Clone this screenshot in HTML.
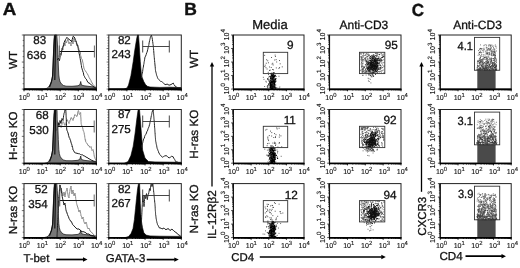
<!DOCTYPE html>
<html><head><meta charset="utf-8"><style>html,body{margin:0;padding:0;background:#fff;width:520px;height:268px;overflow:hidden}</style></head><body>
<svg width="520" height="268" viewBox="0 0 520 268" style="display:block;will-change:transform">
<rect width="520" height="268" fill="#fff"/>
<g font-family='"Liberation Sans", sans-serif' text-rendering="geometricPrecision">
<text transform="translate(2.7,14.6) scale(1.07,1)" font-size="17.5" font-weight="bold" fill="#111" stroke="#111" stroke-width="0.4">A</text>
<text transform="translate(184.2,14.6) scale(1.0,1)" font-size="17.5" font-weight="bold" fill="#111" stroke="#111" stroke-width="0.4">B</text>
<text transform="translate(411.7,15.6) scale(0.97,1)" font-size="17.5" font-weight="bold" fill="#111" stroke="#111" stroke-width="0.4">C</text>
<text x="270" y="29.3" font-size="13.0" text-anchor="middle" font-weight="normal" fill="#111" stroke="#111" stroke-width="0.3" >Media</text>
<text x="363.9" y="29.2" font-size="12.0" text-anchor="middle" font-weight="normal" fill="#111" stroke="#111" stroke-width="0.3" >Anti-CD3</text>
<text x="477.5" y="29.2" font-size="12.0" text-anchor="middle" font-weight="normal" fill="#111" stroke="#111" stroke-width="0.3" >Anti-CD3</text>
<text transform="translate(17,59.9) rotate(-90)" text-anchor="middle" font-size="11.6" fill="#111" stroke="#111" stroke-width="0.3">WT</text>
<text transform="translate(198.2,58.85) rotate(-90)" text-anchor="middle" font-size="11.8" fill="#111" stroke="#111" stroke-width="0.3">WT</text>
<text transform="translate(17,135.75) rotate(-90)" text-anchor="middle" font-size="11.6" fill="#111" stroke="#111" stroke-width="0.3">H-ras KO</text>
<text transform="translate(198.2,134.1) rotate(-90)" text-anchor="middle" font-size="11.8" fill="#111" stroke="#111" stroke-width="0.3">H-ras KO</text>
<text transform="translate(17,210) rotate(-90)" text-anchor="middle" font-size="11.6" fill="#111" stroke="#111" stroke-width="0.3">N-ras KO</text>
<text transform="translate(198.2,208.8) rotate(-90)" text-anchor="middle" font-size="11.8" fill="#111" stroke="#111" stroke-width="0.3">N-ras KO</text>
<path d="M24,89.1 L44,89 L47,88.3 L48.5,87 L50,85 L51.4,81.8 L52.3,78 L52.7,75 L53.1,65 L53.4,55 L53.8,45 L54.3,36 L54.8,35 L56.8,35 L57.3,42 L57.8,52 L58.3,65 L58.8,75 L59.3,79 L60.1,81.8 L61.5,84 L63.5,85.5 L66,86.2 L72,86.3 L78,85.8 L80,84.5 L80.7,81.5 L81.4,85 L84,85.8 L90,86.5 L96.4,87.5 L96.4,89.1 Z" fill="#777" stroke="#222" stroke-width="0.8"/>
<path d="M49.5,87 L51.4,82 L52.6,76 L53.3,62 L53.8,50 L54.3,40 L54.9,35.3 L55.6,36 L55.4,50 L55.1,65 L54.8,80" fill="none" stroke="#111" stroke-width="1.2" stroke-linejoin="round"/>
<path d="M59.3,36 V56.5" stroke="#999" stroke-width="0.9"/>
<path d="M58,58 L58.33,57.73 L58.67,55.53 L59,55 L59.5,54.53 L60,53 L60.5,53.44 L61,55 L61.14,54.02 L61.29,52.42 L61.43,52.3 L61.57,51.55 L61.71,49.88 L61.86,49.73 L62,48 L62.5,49.52 L63,50 L63.14,48.74 L63.29,48.12 L63.43,47.41 L63.57,46.52 L63.71,45.69 L63.86,43.43 L64,43 L64.33,44.39 L64.67,44.42 L65,46 L65.08,45.65 L65.17,43.56 L65.25,43.57 L65.33,41.69 L65.42,41.75 L65.5,40 L65.83,41.03 L66.17,41.72 L66.5,43 L66.88,41.65 L67.25,41.17 L67.62,39.73 L68,39 L68.2,40.29 L68.4,40.45 L68.6,41.6 L68.8,43.59 L69,44 L69.5,43.16 L70,42 L70.25,42.62 L70.5,43.44 L70.75,44.42 L71,46 L71.17,44.6 L71.33,43.81 L71.5,43.24 L71.67,42.54 L71.83,41.44 L72,40 L72.25,40.74 L72.5,41.44 L72.75,42.93 L73,44 L73.17,42.9 L73.33,42.12 L73.5,40.8 L73.67,40.21 L73.83,38.38 L74,38 L74.25,38.57 L74.5,40.43 L74.75,41.78 L75,42 L76,41 L76.2,42.49 L76.4,43.55 L76.6,44.47 L76.8,44.93 L77,46 L78,45 L78.2,46.38 L78.4,47.13 L78.6,47.92 L78.8,48.63 L79,50 L80,51 L80.17,52.58 L80.33,52.31 L80.5,54.51 L80.67,55.61 L80.83,55.88 L81,57 L81.5,58.53 L82,59 L82.25,59.75 L82.5,61.03 L82.75,62.08 L83,63 L83.18,63.53 L83.36,64.77 L83.54,65.7 L83.72,67.01 L83.9,68.1 L84.43,69.35 L84.97,70.33 L85.5,71 L86.3,72.24 L87.1,73.4 L88,75 L88.4,75.84 L88.8,76.81 L89.2,77.7 L90,79 L90.47,79.72 L90.93,80.48 L91.4,82 L92.2,82.93 L93,84.5 L94.6,86.2 L95.5,87.34 L96.4,88" fill="none" stroke="#888" stroke-width="1.0" stroke-linejoin="round"/>
<path d="M57.5,60 L58,58.69 L58.5,58 L58.8,58.85 L59.1,59.27 L59.4,60.7 L59.62,59.79 L59.84,58.69 L60.06,57.28 L60.28,56.38 L60.5,56 L60.75,55.68 L61,54.27 L61.25,52.93 L61.5,52.2 L61.75,50.68 L62,50 L62.3,48.72 L62.6,47.4 L62.9,46.37 L63.2,46.43 L63.5,45 L63.8,44.54 L64.1,42.51 L64.4,42.06 L64.7,40.82 L65,40.5 L65.63,39.39 L66.27,38.53 L66.9,37.3 L68.5,39 L70,40 L71.7,41.7 L71.92,40.85 L72.15,39.34 L72.38,39.21 L72.6,38 L73.3,36.2 L74.2,37 L75,38.5 L75.43,39.82 L75.87,40.79 L76.3,42 L76.6,42.67 L76.9,44.49 L77.2,44.27 L77.5,45.8 L77.72,46.24 L77.94,47.51 L78.16,48.28 L78.38,49.72 L78.6,50.5 L78.78,51.76 L78.97,52.75 L79.15,53.83 L79.33,53.98 L79.52,55.76 L79.7,56.4 L79.88,56.98 L80.07,58.32 L80.25,58.81 L80.43,60.57 L80.62,60.52 L80.8,62 L80.97,62.92 L81.13,64.22 L81.3,65.33 L81.47,65.5 L81.63,67.76 L81.8,68.1 L82.1,68.78 L82.4,69.97 L82.7,70.75 L83,72 L83.3,72.56 L83.6,74.04 L83.9,75.6 L84.43,76.32 L84.97,77.64 L85.5,78.5 L86.3,79.1 L87.1,80.9 L88.05,82.55 L89,83 L90.2,83.63 L91.4,85.1 L93,86.3 L94.6,87.3 L95.5,87.84 L96.4,88.3" fill="none" stroke="#111" stroke-width="0.95" stroke-linejoin="round"/>
<path d="M59.3,51.5 H94.4" stroke="#111" stroke-width="1" fill="none"/>
<path d="M94.4,45.5 v12 M59.3,45.5 v12" stroke="#555" stroke-width="0.9" fill="none"/>
<rect x="24" y="35" width="72.4" height="54.1" fill="none" stroke="#222" stroke-width="1.0"/>
<path d="M24,89.1 h-2.2 M24,83.69 h-1.3 M24,78.28 h-1.3 M24,72.87 h-1.3 M24,67.46 h-1.3 M24,62.05 h-2.2 M24,56.64 h-1.3 M24,51.23 h-1.3 M24,45.82 h-1.3 M24,40.41 h-1.3 M24,35 h-2.2" stroke="#333" stroke-width="0.7" fill="none"/>
<path d="M24,89.1 v2.2 M29.45,89.1 v1.3 M32.64,89.1 v1.3 M34.9,89.1 v1.3 M36.65,89.1 v1.3 M38.08,89.1 v1.3 M39.3,89.1 v1.3 M40.35,89.1 v1.3 M41.27,89.1 v1.3 M42.1,89.1 v2.2 M47.55,89.1 v1.3 M50.74,89.1 v1.3 M53,89.1 v1.3 M54.75,89.1 v1.3 M56.18,89.1 v1.3 M57.4,89.1 v1.3 M58.45,89.1 v1.3 M59.37,89.1 v1.3 M60.2,89.1 v2.2 M65.65,89.1 v1.3 M68.84,89.1 v1.3 M71.1,89.1 v1.3 M72.85,89.1 v1.3 M74.28,89.1 v1.3 M75.5,89.1 v1.3 M76.55,89.1 v1.3 M77.47,89.1 v1.3 M78.3,89.1 v2.2 M83.75,89.1 v1.3 M86.94,89.1 v1.3 M89.2,89.1 v1.3 M90.95,89.1 v1.3 M92.38,89.1 v1.3 M93.6,89.1 v1.3 M94.65,89.1 v1.3 M95.57,89.1 v1.3 M96.4,89.1 v2.2" stroke="#000" stroke-width="0.9" fill="none"/>
<line x1="23.5" y1="89.4" x2="96.9" y2="89.4" stroke="#000" stroke-width="1.6"/>
<text x="24.3" y="99.8" text-anchor="middle" font-size="7.1" fill="#111" stroke="#111" stroke-width="0.12">10<tspan font-size="5.9" dy="-3">0</tspan></text>
<text x="42.4" y="99.8" text-anchor="middle" font-size="7.1" fill="#111" stroke="#111" stroke-width="0.12">10<tspan font-size="5.9" dy="-3">1</tspan></text>
<text x="60.5" y="99.8" text-anchor="middle" font-size="7.1" fill="#111" stroke="#111" stroke-width="0.12">10<tspan font-size="5.9" dy="-3">2</tspan></text>
<text x="78.6" y="99.8" text-anchor="middle" font-size="7.1" fill="#111" stroke="#111" stroke-width="0.12">10<tspan font-size="5.9" dy="-3">3</tspan></text>
<text x="96.7" y="99.8" text-anchor="middle" font-size="7.1" fill="#111" stroke="#111" stroke-width="0.12">10<tspan font-size="5.9" dy="-3">4</tspan></text>
<text x="46.2" y="43.95" font-size="11.6" text-anchor="end" font-weight="normal" fill="#111" stroke="#111" stroke-width="0.3" >83</text>
<text x="46.2" y="58.55" font-size="11.6" text-anchor="end" font-weight="normal" fill="#111" stroke="#111" stroke-width="0.3" >636</text>
<path d="M108.8,89.1 L124,89 L127,88 L128.5,85.1 L130.9,75.7 L132,69 L133.2,61.6 L134.5,52 L135.6,45.1 L136.8,38 L137.5,35 L138.5,35 L139.1,43 L140.3,61.6 L141,70 L141.5,75.7 L143.8,81.6 L145.5,84.5 L147.4,86.3 L150,87 L160,87.4 L170,87.2 L181.3,87.6 L181.3,89.1 Z" fill="#000" stroke="#000" stroke-width="0.6"/>
<path d="M141.5,78 L141.67,76.74 L141.83,75.93 L142,74.59 L142.17,74.09 L142.33,73.28 L142.5,72 L142.67,71.37 L142.83,69.83 L143,68.61 L143.17,67.9 L143.33,67.09 L143.5,66 L143.65,64.85 L143.8,64.34 L143.95,63.7 L144.1,62.29 L144.25,61.48 L144.4,60.87 L144.55,59.81 L144.7,59.04 L144.85,57.91 L145,57 L145.6,56.13 L146.2,54.5 L146.6,52.99 L147,52.26 L147.4,51 L147.62,49.59 L147.84,49.47 L148.06,47.93 L148.28,46.62 L148.5,46 L148.7,45.47 L148.9,44.56 L149.1,42.93 L149.3,42.09 L149.5,41.02 L149.7,40.4 L149.92,39.32 L150.15,38.43 L150.38,37.27 L150.6,36.5 L151.4,35.2 L151.62,35.98 L151.85,36.86 L152.08,37.66 L152.3,39 L152.45,39.67 L152.6,41.52 L152.75,41.73 L152.9,43.39 L153.05,44.49 L153.2,45.1 L153.29,46.22 L153.37,47.25 L153.46,47.86 L153.54,48.71 L153.63,50.48 L153.71,50.78 L153.8,52 L153.88,53.34 L153.95,54.1 L154.03,55.1 L154.1,55.49 L154.18,56.41 L154.25,57.34 L154.33,57.97 L154.4,59.2 L154.5,60.1 L154.6,60.75 L154.7,62.24 L154.8,62.81 L154.9,63.99 L155,65 L155.1,66.06 L155.2,66.83 L155.3,68.29 L155.4,69.5 L155.5,70.46 L155.6,71 L155.82,71.86 L156.04,72.76 L156.26,73.53 L156.48,74.67 L156.7,75.5 L157.1,76.37 L157.5,77.63 L157.9,78.5 L158.8,79.44 L159.7,80.5 L160.6,81.44 L161.5,81.5 L162.4,82.16 L163.3,83 L165,84.5 L166,84.61 L167,84 L168,84.49 L169,85.2 L170,84.93 L171,84.5 L172.1,83.91 L173.2,83 L173.8,84.49 L174.4,85 L175.6,86.8 L176.55,87.1 L177.5,87.8 L178.67,88.18 L179.83,88.14 L181,88.5" fill="none" stroke="#222" stroke-width="1.0" stroke-linejoin="round"/>
<path d="M142.7,46.5 H169.3 M169.3,40.5 v12 M142.7,40.5 v12" stroke="#333" stroke-width="0.9" fill="none"/>
<rect x="108.8" y="35" width="72.5" height="54.1" fill="none" stroke="#222" stroke-width="1.0"/>
<path d="M108.8,89.1 h-2.2 M108.8,86.39 h-1.3 M108.8,83.69 h-1.3 M108.8,80.98 h-1.3 M108.8,78.28 h-1.3 M108.8,75.57 h-2.2 M108.8,72.87 h-1.3 M108.8,70.16 h-1.3 M108.8,67.46 h-1.3 M108.8,64.75 h-1.3 M108.8,62.05 h-2.2 M108.8,59.34 h-1.3 M108.8,56.64 h-1.3 M108.8,53.94 h-1.3 M108.8,51.23 h-1.3 M108.8,48.52 h-2.2 M108.8,45.82 h-1.3 M108.8,43.12 h-1.3 M108.8,40.41 h-1.3 M108.8,37.7 h-1.3 M108.8,35 h-2.2" stroke="#333" stroke-width="0.7" fill="none"/>
<path d="M108.8,89.1 v2.2 M114.26,89.1 v1.3 M117.45,89.1 v1.3 M119.71,89.1 v1.3 M121.47,89.1 v1.3 M122.9,89.1 v1.3 M124.12,89.1 v1.3 M125.17,89.1 v1.3 M126.1,89.1 v1.3 M126.92,89.1 v2.2 M132.38,89.1 v1.3 M135.57,89.1 v1.3 M137.84,89.1 v1.3 M139.59,89.1 v1.3 M141.03,89.1 v1.3 M142.24,89.1 v1.3 M143.29,89.1 v1.3 M144.22,89.1 v1.3 M145.05,89.1 v2.2 M150.51,89.1 v1.3 M153.7,89.1 v1.3 M155.96,89.1 v1.3 M157.72,89.1 v1.3 M159.15,89.1 v1.3 M160.37,89.1 v1.3 M161.42,89.1 v1.3 M162.35,89.1 v1.3 M163.18,89.1 v2.2 M168.63,89.1 v1.3 M171.82,89.1 v1.3 M174.09,89.1 v1.3 M175.84,89.1 v1.3 M177.28,89.1 v1.3 M178.49,89.1 v1.3 M179.54,89.1 v1.3 M180.47,89.1 v1.3 M181.3,89.1 v2.2" stroke="#000" stroke-width="0.9" fill="none"/>
<line x1="108.3" y1="89.4" x2="181.8" y2="89.4" stroke="#000" stroke-width="1.6"/>
<text x="109.6" y="99.8" text-anchor="middle" font-size="7.1" fill="#111" stroke="#111" stroke-width="0.12">10<tspan font-size="5.9" dy="-3">0</tspan></text>
<text x="127.72" y="99.8" text-anchor="middle" font-size="7.1" fill="#111" stroke="#111" stroke-width="0.12">10<tspan font-size="5.9" dy="-3">1</tspan></text>
<text x="145.85" y="99.8" text-anchor="middle" font-size="7.1" fill="#111" stroke="#111" stroke-width="0.12">10<tspan font-size="5.9" dy="-3">2</tspan></text>
<text x="163.98" y="99.8" text-anchor="middle" font-size="7.1" fill="#111" stroke="#111" stroke-width="0.12">10<tspan font-size="5.9" dy="-3">3</tspan></text>
<text x="182.1" y="99.8" text-anchor="middle" font-size="7.1" fill="#111" stroke="#111" stroke-width="0.12">10<tspan font-size="5.9" dy="-3">4</tspan></text>
<text x="130.8" y="43.95" font-size="11.6" text-anchor="end" font-weight="normal" fill="#111" stroke="#111" stroke-width="0.3" >82</text>
<text x="130.8" y="58.05" font-size="11.6" text-anchor="end" font-weight="normal" fill="#111" stroke="#111" stroke-width="0.3" >243</text>
<path d="M24,163.6 L44,163.5 L47,162.8 L48.5,161.5 L50,159.5 L51.4,156.3 L52.3,152.5 L52.7,149.5 L53.1,139.5 L53.4,129.5 L53.8,119.5 L54.3,110.5 L54.8,109.5 L56.8,109.5 L57.3,116.5 L57.8,126.5 L58.3,139.5 L58.8,149.5 L59.3,153.5 L60.1,156.3 L61.5,158.5 L63.5,160 L66,160.7 L72,160.8 L78,160.3 L80,159 L80.7,156 L81.4,159.5 L84,160.3 L90,161 L96.4,162 L96.4,163.6 Z" fill="#777" stroke="#222" stroke-width="0.8"/>
<path d="M49.5,161.5 L51.4,156.5 L52.6,150.5 L53.3,136.5 L53.8,124.5 L54.3,114.5 L54.9,109.8 L55.6,110.5 L55.4,124.5 L55.1,139.5 L54.8,154.5" fill="none" stroke="#111" stroke-width="1.2" stroke-linejoin="round"/>
<path d="M57.3,110.5 V131.5" stroke="#999" stroke-width="0.9"/>
<path d="M57,129.5 L57.33,127.91 L57.67,127.5 L58,126.66 L58.33,124.75 L58.67,123.94 L59,123.5 L59.5,125.19 L60,124.81 L60.5,125.91 L61,127.5 L61.33,127.22 L61.67,125.7 L62,124.29 L62.33,123.52 L62.67,122.76 L63,121.5 L63.5,122.14 L64,122.92 L64.5,124.96 L65,125.5 L65.33,124.77 L65.67,123.52 L66,123.01 L66.33,121.58 L66.67,121.27 L67,119.5 L67.5,120.03 L68,121.59 L68.5,122.47 L69,123.5 L69.33,122.27 L69.67,121.65 L70,120.08 L70.33,119.98 L70.67,119.09 L71,117.5 L71.67,117.91 L72.33,119.45 L73,120.5 L73.33,119.14 L73.67,117.83 L74,118.13 L74.33,116.39 L74.67,114.94 L75,114.5 L76,115.78 L77,116.5 L77.23,115.02 L77.47,115.14 L77.7,113.05 L77.93,111.75 L78.17,111.02 L78.4,110.5 L78.68,111.25 L78.95,112.45 L79.22,114.15 L79.5,114.5 L80.05,113.82 L80.6,112.5 L80.65,113.17 L80.69,113.57 L80.74,114.72 L80.78,116.99 L80.83,117.05 L80.88,118.34 L80.92,118.25 L80.97,119.14 L81.02,121.36 L81.06,121.87 L81.11,122.35 L81.15,123.28 L81.2,124.5 L81.6,124.84 L82,126.5 L82.33,126.98 L82.67,127.74 L83,129.5 L83.33,131.04 L83.67,131.45 L84,132.5 L84.17,132.9 L84.33,134.88 L84.5,135.01 L84.67,135.8 L84.83,137.66 L85,138.5 L85.25,140.13 L85.5,139.74 L85.75,141.99 L86,142.5 L86.67,143 L87.33,143.85 L88,145.5 L89,145.73 L90,147.5 L91,146.5 L91.25,147.17 L91.5,148.86 L91.75,149.49 L92,150.5 L93,149.5 L93.2,151.06 L93.4,151.05 L93.6,152.2 L93.8,153.11 L94,154.5 L94.25,156.27 L94.5,157.21 L94.75,157.25 L95,158.5 L95.47,159.4 L95.93,160.2 L96.4,161.5" fill="none" stroke="#888" stroke-width="1.0" stroke-linejoin="round"/>
<path d="M57,130.5 L57.12,129.89 L57.25,128.65 L57.38,127.79 L57.5,125.92 L57.62,125.68 L57.75,125.17 L57.88,123.39 L58,122.5 L58.33,122.96 L58.67,125.14 L59,125.5 L59.2,124.75 L59.4,123.08 L59.6,122.74 L59.8,122.19 L60,120.5 L60.33,121.09 L60.67,123 L61,123.5 L61.2,122.78 L61.4,121.11 L61.6,120.06 L61.8,120.14 L62,118.5 L62.5,119.28 L63,120.5 L63.14,119.42 L63.29,118.72 L63.43,117.42 L63.57,115.8 L63.71,115.16 L63.86,114.46 L64,113.5 L64.33,112.7 L64.67,111.32 L65,110 L65.8,109.7 L65.85,110.58 L65.9,111.23 L65.95,113.04 L66,113.18 L66.05,114.91 L66.1,115.58 L66.15,116.63 L66.2,117.38 L66.25,118.1 L66.3,119.5 L66.34,119.99 L66.38,121.6 L66.42,122.04 L66.46,122.62 L66.5,123.82 L66.54,125.79 L66.58,126.45 L66.62,127.21 L66.66,127.91 L66.7,129 L67.1,130.7 L67.5,131.5 L67.76,132.07 L68.02,133.49 L68.28,133.52 L68.54,135.3 L68.8,136 L69.3,137.91 L69.8,138.5 L70.17,139.96 L70.53,140.24 L70.9,142 L71.27,143.29 L71.63,144.08 L72,145.5 L72.2,146.99 L72.4,146.63 L72.6,147.52 L72.8,148.53 L73,150 L73.73,150.71 L74.47,152.4 L75.2,152.8 L77,153.3 L78.25,153.64 L79.5,153.8 L80.5,154.53 L81.5,154.8 L82.6,154.76 L83.7,156 L84.85,156.09 L86,157.1 L87,157.43 L88,158.1 L89,158.83 L90,159.2 L91,160.1 L92,160.3 L93.2,160.9 L94.4,161.3 L95.4,161.49 L96.4,162.3" fill="none" stroke="#111" stroke-width="0.95" stroke-linejoin="round"/>
<path d="M57.3,126.5 H94.2" stroke="#111" stroke-width="1" fill="none"/>
<path d="M94.2,120.5 v12 M57.3,120.5 v12" stroke="#555" stroke-width="0.9" fill="none"/>
<rect x="24" y="109.5" width="72.4" height="53.7" fill="none" stroke="#222" stroke-width="1.0"/>
<path d="M24,163.2 h-2.2 M24,157.83 h-1.3 M24,152.46 h-1.3 M24,147.09 h-1.3 M24,141.72 h-1.3 M24,136.35 h-2.2 M24,130.98 h-1.3 M24,125.61 h-1.3 M24,120.24 h-1.3 M24,114.87 h-1.3 M24,109.5 h-2.2" stroke="#333" stroke-width="0.7" fill="none"/>
<path d="M24,163.2 v2.2 M29.45,163.2 v1.3 M32.64,163.2 v1.3 M34.9,163.2 v1.3 M36.65,163.2 v1.3 M38.08,163.2 v1.3 M39.3,163.2 v1.3 M40.35,163.2 v1.3 M41.27,163.2 v1.3 M42.1,163.2 v2.2 M47.55,163.2 v1.3 M50.74,163.2 v1.3 M53,163.2 v1.3 M54.75,163.2 v1.3 M56.18,163.2 v1.3 M57.4,163.2 v1.3 M58.45,163.2 v1.3 M59.37,163.2 v1.3 M60.2,163.2 v2.2 M65.65,163.2 v1.3 M68.84,163.2 v1.3 M71.1,163.2 v1.3 M72.85,163.2 v1.3 M74.28,163.2 v1.3 M75.5,163.2 v1.3 M76.55,163.2 v1.3 M77.47,163.2 v1.3 M78.3,163.2 v2.2 M83.75,163.2 v1.3 M86.94,163.2 v1.3 M89.2,163.2 v1.3 M90.95,163.2 v1.3 M92.38,163.2 v1.3 M93.6,163.2 v1.3 M94.65,163.2 v1.3 M95.57,163.2 v1.3 M96.4,163.2 v2.2" stroke="#000" stroke-width="0.9" fill="none"/>
<line x1="23.5" y1="163.5" x2="96.9" y2="163.5" stroke="#000" stroke-width="1.6"/>
<text x="24.3" y="173.9" text-anchor="middle" font-size="7.1" fill="#111" stroke="#111" stroke-width="0.12">10<tspan font-size="5.9" dy="-3">0</tspan></text>
<text x="42.4" y="173.9" text-anchor="middle" font-size="7.1" fill="#111" stroke="#111" stroke-width="0.12">10<tspan font-size="5.9" dy="-3">1</tspan></text>
<text x="60.5" y="173.9" text-anchor="middle" font-size="7.1" fill="#111" stroke="#111" stroke-width="0.12">10<tspan font-size="5.9" dy="-3">2</tspan></text>
<text x="78.6" y="173.9" text-anchor="middle" font-size="7.1" fill="#111" stroke="#111" stroke-width="0.12">10<tspan font-size="5.9" dy="-3">3</tspan></text>
<text x="96.7" y="173.9" text-anchor="middle" font-size="7.1" fill="#111" stroke="#111" stroke-width="0.12">10<tspan font-size="5.9" dy="-3">4</tspan></text>
<text x="48.6" y="118.95" font-size="11.6" text-anchor="end" font-weight="normal" fill="#111" stroke="#111" stroke-width="0.3" >68</text>
<text x="48.6" y="133.55" font-size="11.6" text-anchor="end" font-weight="normal" fill="#111" stroke="#111" stroke-width="0.3" >530</text>
<path d="M108.8,163.6 L124,163.5 L128.1,161.5 L130.9,155.6 L133.2,146.2 L135.1,133.2 L136.8,119.1 L138,110.5 L138.6,109.5 L139.5,109.5 L140.3,119 L141.5,135 L142.6,150 L145,158 L148.5,161.5 L155,161.9 L181.3,162.3 L181.3,163.6 Z" fill="#000" stroke="#000" stroke-width="0.6"/>
<path d="M141.5,147.4 L141.75,146.82 L142,145 L142.25,144.62 L142.5,143.44 L142.75,142.66 L143,141.5 L143.33,140.06 L143.67,139.08 L144,138.23 L144.33,138.05 L144.67,136.39 L145,135.6 L145.48,134.75 L145.96,134.2 L146.44,132.99 L146.92,131.55 L147.4,130.9 L147.76,129.88 L148.12,128.62 L148.48,127.86 L148.84,126.94 L149.2,126.2 L149.39,124.81 L149.58,124.72 L149.77,123.86 L149.96,122.57 L150.14,121.78 L150.33,120.83 L150.52,119.98 L150.71,119.41 L150.9,118 L151.08,117.16 L151.27,115.81 L151.45,115.44 L151.63,114.52 L151.82,113.77 L152,112.5 L152.5,110.9 L153.2,110 L153.29,111.11 L153.37,111.68 L153.46,112.33 L153.54,113.66 L153.63,114.77 L153.71,115.81 L153.8,116.5 L153.88,117.58 L153.95,118.42 L154.03,119.34 L154.1,119.88 L154.18,120.96 L154.25,121.89 L154.33,122.43 L154.4,123.8 L154.47,125.22 L154.53,125.32 L154.6,127.17 L154.67,127.96 L154.73,128.36 L154.8,129.46 L154.87,130.31 L154.93,131.65 L155,132.5 L155.07,133.01 L155.15,134.37 L155.22,135.68 L155.3,136.36 L155.38,137.5 L155.45,138.28 L155.53,139.45 L155.6,140.3 L155.78,141.58 L155.96,142.3 L156.13,143.43 L156.31,144.29 L156.49,144.86 L156.67,145.68 L156.84,146.88 L157.02,147.77 L157.2,148.5 L157.6,149.3 L158,150.59 L158.4,151.34 L158.8,152.91 L159.2,153.15 L159.6,154.4 L160.6,155.25 L161.6,156.62 L162.6,157.2 L163.55,156.57 L164.5,156 L166.2,155.6 L167.1,156.21 L168,157.3 L169.7,157.9 L170.6,156.83 L171.5,156.3 L173.2,156.8 L173.68,157.97 L174.16,158.85 L174.64,159.44 L175.12,160.37 L175.6,161.5 L176.8,161.92 L178,162.3 L179,162.74 L180,162.59 L181,162.5" fill="none" stroke="#222" stroke-width="1.0" stroke-linejoin="round"/>
<path d="M142.7,121.5 H169.3 M169.3,115.5 v12 M142.7,115.5 v12" stroke="#333" stroke-width="0.9" fill="none"/>
<rect x="108.8" y="109.5" width="72.5" height="53.7" fill="none" stroke="#222" stroke-width="1.0"/>
<path d="M108.8,163.2 h-2.2 M108.8,160.51 h-1.3 M108.8,157.83 h-1.3 M108.8,155.14 h-1.3 M108.8,152.46 h-1.3 M108.8,149.77 h-2.2 M108.8,147.09 h-1.3 M108.8,144.41 h-1.3 M108.8,141.72 h-1.3 M108.8,139.03 h-1.3 M108.8,136.35 h-2.2 M108.8,133.66 h-1.3 M108.8,130.98 h-1.3 M108.8,128.29 h-1.3 M108.8,125.61 h-1.3 M108.8,122.92 h-2.2 M108.8,120.24 h-1.3 M108.8,117.55 h-1.3 M108.8,114.87 h-1.3 M108.8,112.19 h-1.3 M108.8,109.5 h-2.2" stroke="#333" stroke-width="0.7" fill="none"/>
<path d="M108.8,163.2 v2.2 M114.26,163.2 v1.3 M117.45,163.2 v1.3 M119.71,163.2 v1.3 M121.47,163.2 v1.3 M122.9,163.2 v1.3 M124.12,163.2 v1.3 M125.17,163.2 v1.3 M126.1,163.2 v1.3 M126.92,163.2 v2.2 M132.38,163.2 v1.3 M135.57,163.2 v1.3 M137.84,163.2 v1.3 M139.59,163.2 v1.3 M141.03,163.2 v1.3 M142.24,163.2 v1.3 M143.29,163.2 v1.3 M144.22,163.2 v1.3 M145.05,163.2 v2.2 M150.51,163.2 v1.3 M153.7,163.2 v1.3 M155.96,163.2 v1.3 M157.72,163.2 v1.3 M159.15,163.2 v1.3 M160.37,163.2 v1.3 M161.42,163.2 v1.3 M162.35,163.2 v1.3 M163.18,163.2 v2.2 M168.63,163.2 v1.3 M171.82,163.2 v1.3 M174.09,163.2 v1.3 M175.84,163.2 v1.3 M177.28,163.2 v1.3 M178.49,163.2 v1.3 M179.54,163.2 v1.3 M180.47,163.2 v1.3 M181.3,163.2 v2.2" stroke="#000" stroke-width="0.9" fill="none"/>
<line x1="108.3" y1="163.5" x2="181.8" y2="163.5" stroke="#000" stroke-width="1.6"/>
<text x="109.6" y="173.9" text-anchor="middle" font-size="7.1" fill="#111" stroke="#111" stroke-width="0.12">10<tspan font-size="5.9" dy="-3">0</tspan></text>
<text x="127.72" y="173.9" text-anchor="middle" font-size="7.1" fill="#111" stroke="#111" stroke-width="0.12">10<tspan font-size="5.9" dy="-3">1</tspan></text>
<text x="145.85" y="173.9" text-anchor="middle" font-size="7.1" fill="#111" stroke="#111" stroke-width="0.12">10<tspan font-size="5.9" dy="-3">2</tspan></text>
<text x="163.98" y="173.9" text-anchor="middle" font-size="7.1" fill="#111" stroke="#111" stroke-width="0.12">10<tspan font-size="5.9" dy="-3">3</tspan></text>
<text x="182.1" y="173.9" text-anchor="middle" font-size="7.1" fill="#111" stroke="#111" stroke-width="0.12">10<tspan font-size="5.9" dy="-3">4</tspan></text>
<text x="130.8" y="118.45" font-size="11.6" text-anchor="end" font-weight="normal" fill="#111" stroke="#111" stroke-width="0.3" >87</text>
<text x="130.8" y="133.05" font-size="11.6" text-anchor="end" font-weight="normal" fill="#111" stroke="#111" stroke-width="0.3" >275</text>
<path d="M24,237.7 L44,237.6 L47,236.9 L48.5,235.6 L50,233.6 L51.4,230.4 L52.3,226.6 L52.7,223.6 L53.1,213.6 L53.4,203.6 L53.8,193.6 L54.3,184.6 L54.8,183.6 L56.8,183.6 L57.3,190.6 L57.8,200.6 L58.3,213.6 L58.8,223.6 L59.3,227.6 L60.1,230.4 L61.5,232.6 L63.5,234.1 L66,234.8 L72,234.9 L78,234.4 L80,233.1 L80.7,230.1 L81.4,233.6 L84,234.4 L90,235.1 L96.4,236.1 L96.4,237.7 Z" fill="#777" stroke="#222" stroke-width="0.8"/>
<path d="M49.5,235.6 L51.4,230.6 L52.6,224.6 L53.3,210.6 L53.8,198.6 L54.3,188.6 L54.9,183.9 L55.6,184.6 L55.4,198.6 L55.1,213.6 L54.8,228.6" fill="none" stroke="#111" stroke-width="1.2" stroke-linejoin="round"/>
<path d="M59.7,184.6 V205.5" stroke="#999" stroke-width="0.9"/>
<path d="M57,237 L57.03,235.7 L57.07,235.91 L57.1,233.8 L57.13,232.89 L57.17,232.26 L57.2,231.17 L57.23,230.97 L57.27,229.18 L57.3,229.53 L57.33,228.57 L57.37,226.3 L57.4,226.27 L57.43,224.67 L57.47,224.01 L57.5,223.37 L57.53,222.53 L57.57,221.65 L57.6,221.48 L57.63,219.51 L57.67,218.5 L57.7,218.37 L57.73,217.91 L57.77,216.98 L57.8,216.01 L57.83,213.8 L57.87,214.3 L57.9,212.94 L57.93,212.39 L57.97,210.75 L58,210 L58.09,208.64 L58.18,208.65 L58.27,207.53 L58.36,206.81 L58.45,204.98 L58.55,203.96 L58.64,204.06 L58.73,201.96 L58.82,202.53 L58.91,200.33 L59,200 L59.12,199.16 L59.25,197.87 L59.38,196.72 L59.5,195.47 L59.62,195.45 L59.75,194.66 L59.88,193.37 L60,192 L60.25,191.16 L60.5,190.34 L60.75,189.06 L61,188 L61.25,189.09 L61.5,190.65 L61.75,190.65 L62,192 L62.25,192.56 L62.5,194.72 L62.75,195.71 L63,196 L63.25,194.96 L63.5,194.48 L63.75,193.39 L64,192 L64.2,193.72 L64.4,193.33 L64.6,195.64 L64.8,196 L65,197 L65.17,195.92 L65.33,195.3 L65.5,194.19 L65.67,192.9 L65.83,191.67 L66,191 L66.33,190.67 L66.67,189.51 L67,188 L67.14,188.36 L67.29,189.85 L67.43,191.42 L67.57,192.61 L67.71,193.74 L67.86,193.59 L68,195 L68.33,196.63 L68.67,197.31 L69,198 L69.12,196.31 L69.25,195.54 L69.38,194.5 L69.5,193.32 L69.62,193.3 L69.75,191.7 L69.88,191.31 L70,190 L70.25,188.33 L70.5,188.59 L70.75,187.31 L71,186 L71.12,187.45 L71.25,188.17 L71.38,188.93 L71.5,189.51 L71.62,191.71 L71.75,191.43 L71.88,193.03 L72,194 L72.25,192.39 L72.5,191.37 L72.75,191.31 L73,190 L73.17,191.62 L73.33,191.94 L73.5,193.47 L73.67,194.58 L73.83,195.06 L74,196 L74.33,195.44 L74.67,193.67 L75,193 L75.14,193.44 L75.29,194.5 L75.43,195.21 L75.57,196.31 L75.71,198.4 L75.86,199.65 L76,200 L76.2,200.29 L76.4,202.35 L76.6,203.44 L76.8,204.29 L77,205 L77.33,206 L77.67,206.98 L78,208 L78.25,209.31 L78.5,209.59 L78.75,211.4 L79,212 L79.5,210.51 L80,210 L80.17,210.26 L80.33,212.69 L80.5,212.34 L80.67,213.51 L80.83,214.29 L81,216 L81.33,216.22 L81.67,217.4 L82,219 L82.5,218.67 L83,217 L83.2,218.31 L83.4,218.85 L83.6,219.21 L83.8,221.53 L84,222 L84.5,222.98 L85,224 L85.5,223.57 L86,222 L86.25,223.01 L86.5,223.33 L86.75,224.32 L87,226 L87.33,227.46 L87.67,227.56 L88,229 L89,228 L89.33,228.44 L89.67,229.85 L90,231 L91,231.62 L92,233 L93,233.64 L94,235 L95.2,236.47 L96.4,237" fill="none" stroke="#888" stroke-width="1.0" stroke-linejoin="round"/>
<path d="M57,237 L57.04,235.9 L57.08,234.75 L57.12,233.67 L57.17,233.55 L57.21,232.36 L57.25,232.18 L57.29,231.08 L57.33,230.14 L57.38,228.12 L57.42,227.91 L57.46,227.07 L57.5,225.37 L57.54,225.05 L57.58,223.93 L57.62,222.85 L57.67,222.75 L57.71,221.31 L57.75,219.94 L57.79,219.4 L57.83,219.25 L57.88,217.6 L57.92,216.4 L57.96,215.31 L58,215 L58.05,214.11 L58.09,213.42 L58.14,212.15 L58.18,211.85 L58.23,210.49 L58.27,209.96 L58.32,208.73 L58.36,207.85 L58.41,206.7 L58.45,205.36 L58.5,205.29 L58.55,204.59 L58.59,203.5 L58.64,202.16 L58.68,200.79 L58.73,200.01 L58.77,199.62 L58.82,198.86 L58.86,197.06 L58.91,197.44 L58.95,196.21 L59,195 L59.09,194.4 L59.18,193.87 L59.27,192.44 L59.36,191.35 L59.45,190.07 L59.55,189.8 L59.64,188.92 L59.73,188.36 L59.82,187.43 L59.91,185.9 L60,185 L60.33,186.49 L60.67,187.64 L61,188 L61.12,188.88 L61.25,190.15 L61.38,191.13 L61.5,191.97 L61.62,192.96 L61.75,193.61 L61.88,194.56 L62,196 L62.25,196.73 L62.5,198.13 L62.75,199.22 L63,200 L63.2,201.45 L63.4,201.7 L63.6,203.02 L63.8,203.93 L64,205 L64.5,203.54 L65,203 L65.14,204.67 L65.29,204.77 L65.43,206.27 L65.57,207.27 L65.71,208.38 L65.86,209.47 L66,210 L66.33,211.63 L66.67,211.75 L67,213 L67.33,214.24 L67.67,214.74 L68,216 L68.5,216.72 L69,218.41 L69.5,219.35 L70,220 L70.67,221.32 L71.33,221.47 L72,223 L72.67,224.65 L73.33,225.18 L74,226 L75,226.95 L76,228 L77,229.08 L78,229 L79,228.96 L80,230 L81,230.72 L82,232 L83,231.5 L84,232 L85,232.26 L86,233 L87,233.9 L88,234 L89,234.01 L90,235 L91,235.7 L92,235.8 L93,236 L94.13,236.09 L95.27,237.16 L96.4,237" fill="none" stroke="#111" stroke-width="0.95" stroke-linejoin="round"/>
<path d="M59.7,200.5 H94.2" stroke="#111" stroke-width="1" fill="none"/>
<path d="M94.2,194.5 v12 M59.7,194.5 v12" stroke="#555" stroke-width="0.9" fill="none"/>
<rect x="24" y="183.6" width="72.4" height="54" fill="none" stroke="#222" stroke-width="1.0"/>
<path d="M24,237.6 h-2.2 M24,232.2 h-1.3 M24,226.8 h-1.3 M24,221.4 h-1.3 M24,216 h-1.3 M24,210.6 h-2.2 M24,205.2 h-1.3 M24,199.8 h-1.3 M24,194.4 h-1.3 M24,189 h-1.3 M24,183.6 h-2.2" stroke="#333" stroke-width="0.7" fill="none"/>
<path d="M24,237.6 v2.2 M29.45,237.6 v1.3 M32.64,237.6 v1.3 M34.9,237.6 v1.3 M36.65,237.6 v1.3 M38.08,237.6 v1.3 M39.3,237.6 v1.3 M40.35,237.6 v1.3 M41.27,237.6 v1.3 M42.1,237.6 v2.2 M47.55,237.6 v1.3 M50.74,237.6 v1.3 M53,237.6 v1.3 M54.75,237.6 v1.3 M56.18,237.6 v1.3 M57.4,237.6 v1.3 M58.45,237.6 v1.3 M59.37,237.6 v1.3 M60.2,237.6 v2.2 M65.65,237.6 v1.3 M68.84,237.6 v1.3 M71.1,237.6 v1.3 M72.85,237.6 v1.3 M74.28,237.6 v1.3 M75.5,237.6 v1.3 M76.55,237.6 v1.3 M77.47,237.6 v1.3 M78.3,237.6 v2.2 M83.75,237.6 v1.3 M86.94,237.6 v1.3 M89.2,237.6 v1.3 M90.95,237.6 v1.3 M92.38,237.6 v1.3 M93.6,237.6 v1.3 M94.65,237.6 v1.3 M95.57,237.6 v1.3 M96.4,237.6 v2.2" stroke="#000" stroke-width="0.9" fill="none"/>
<line x1="23.5" y1="237.9" x2="96.9" y2="237.9" stroke="#000" stroke-width="1.6"/>
<text x="24.3" y="248.3" text-anchor="middle" font-size="7.1" fill="#111" stroke="#111" stroke-width="0.12">10<tspan font-size="5.9" dy="-3">0</tspan></text>
<text x="42.4" y="248.3" text-anchor="middle" font-size="7.1" fill="#111" stroke="#111" stroke-width="0.12">10<tspan font-size="5.9" dy="-3">1</tspan></text>
<text x="60.5" y="248.3" text-anchor="middle" font-size="7.1" fill="#111" stroke="#111" stroke-width="0.12">10<tspan font-size="5.9" dy="-3">2</tspan></text>
<text x="78.6" y="248.3" text-anchor="middle" font-size="7.1" fill="#111" stroke="#111" stroke-width="0.12">10<tspan font-size="5.9" dy="-3">3</tspan></text>
<text x="96.7" y="248.3" text-anchor="middle" font-size="7.1" fill="#111" stroke="#111" stroke-width="0.12">10<tspan font-size="5.9" dy="-3">4</tspan></text>
<text x="47.6" y="193.45" font-size="11.6" text-anchor="end" font-weight="normal" fill="#111" stroke="#111" stroke-width="0.3" >52</text>
<text x="47.6" y="207.55" font-size="11.6" text-anchor="end" font-weight="normal" fill="#111" stroke="#111" stroke-width="0.3" >354</text>
<path d="M108.8,237.7 L125,237.6 L128.5,236.6 L131,233.6 L133,228.6 L134.4,219.6 L135.5,208.6 L136.5,198.6 L137.6,188.6 L138.5,183.6 L139.6,183.6 L140,193.6 L140.3,203.6 L140.8,213.6 L141.5,221.6 L142.5,227.6 L143.8,232.6 L146,235.1 L150,235.9 L160,236.2 L181.3,236.4 L181.3,237.7 Z" fill="#000" stroke="#000" stroke-width="0.6"/>
<path d="M141,228.6 L141.06,227.26 L141.12,226.67 L141.19,225.48 L141.25,224.42 L141.31,223.79 L141.38,223.07 L141.44,222.07 L141.5,220.6 L141.55,219.83 L141.59,219.05 L141.64,217.74 L141.69,216.65 L141.74,215.94 L141.78,215.05 L141.83,214.42 L141.88,212.98 L141.92,212.18 L141.97,211.1 L142.02,209.9 L142.06,208.85 L142.11,208.1 L142.16,207.53 L142.21,206.89 L142.25,205.05 L142.3,204.6 L142.35,203.66 L142.4,203.11 L142.45,202.36 L142.5,200.66 L142.55,199.67 L142.6,198.85 L142.65,198.13 L142.7,197.27 L142.75,196.59 L142.8,195.6 L142.94,196.15 L143.08,198.02 L143.22,198.76 L143.36,199.64 L143.5,200.6 L143.58,202.09 L143.67,202.53 L143.75,203.4 L143.83,204.85 L143.92,205.91 L144,206.6 L144.07,205.9 L144.13,205.13 L144.2,203.47 L144.27,203.36 L144.33,201.79 L144.4,201.22 L144.47,199.94 L144.53,199.29 L144.6,198.79 L144.67,197.27 L144.73,197.01 L144.8,195.6 L145.1,196.6 L145.4,198.03 L145.7,198.6 L145.86,197.59 L146.02,196.48 L146.18,195.92 L146.34,194.39 L146.5,193.6 L146.63,194.91 L146.77,195.38 L146.9,196.47 L147.03,197.86 L147.17,198.48 L147.3,199.6 L147.48,198.85 L147.65,197.27 L147.82,196.29 L148,195.6 L148.27,194.21 L148.53,193.95 L148.8,192.6 L148.98,191.92 L149.15,190.9 L149.32,190.01 L149.5,188.6 L149.85,189.1 L150.2,190.6 L150.32,189.89 L150.43,188.12 L150.55,187.27 L150.67,186.14 L150.78,185.24 L150.9,184.6 L151.4,183.9 L151.6,184.32 L151.8,186.09 L152,186.6 L152.4,185.08 L152.8,184.1 L153,185.39 L153.2,186.6 L153.3,187.74 L153.4,188.45 L153.5,189.6 L153.6,190.75 L153.7,192.03 L153.8,192.57 L153.9,193.41 L154,194.6 L154.09,195.88 L154.18,196.48 L154.27,197.39 L154.36,198.6 L154.45,199.52 L154.55,200.12 L154.64,201.01 L154.73,202.32 L154.82,203.12 L154.91,203.36 L155,204.6 L155.05,205.81 L155.11,206.24 L155.16,207.14 L155.22,208.52 L155.27,209.42 L155.33,210.54 L155.38,211.15 L155.44,211.59 L155.49,212.35 L155.55,213.36 L155.6,214.6 L155.75,215.18 L155.9,216.4 L156.05,217.7 L156.2,218.81 L156.35,219.35 L156.5,220.6 L156.75,221.55 L157,222.81 L157.25,223.41 L157.5,224.6 L158,225.24 L158.5,226.21 L159,227.6 L160,228 L161,228.09 L162,229.1 L163,228.33 L164,228.1 L165,229.18 L166,229.6 L167,229.17 L168,228.6 L169,229.16 L170,230.6 L171,229.7 L172,229.1 L173,230.08 L174,231.1 L175,231.76 L176,232.6 L177,233.12 L178,234.6 L179,234.97 L180,235.69 L181,236.6" fill="none" stroke="#222" stroke-width="1.0" stroke-linejoin="round"/>
<path d="M142.7,195.5 H169.3 M169.3,189.5 v12 M142.7,189.5 v12" stroke="#333" stroke-width="0.9" fill="none"/>
<rect x="108.8" y="183.6" width="72.5" height="54" fill="none" stroke="#222" stroke-width="1.0"/>
<path d="M108.8,237.6 h-2.2 M108.8,234.9 h-1.3 M108.8,232.2 h-1.3 M108.8,229.5 h-1.3 M108.8,226.8 h-1.3 M108.8,224.1 h-2.2 M108.8,221.4 h-1.3 M108.8,218.7 h-1.3 M108.8,216 h-1.3 M108.8,213.3 h-1.3 M108.8,210.6 h-2.2 M108.8,207.9 h-1.3 M108.8,205.2 h-1.3 M108.8,202.5 h-1.3 M108.8,199.8 h-1.3 M108.8,197.1 h-2.2 M108.8,194.4 h-1.3 M108.8,191.7 h-1.3 M108.8,189 h-1.3 M108.8,186.3 h-1.3 M108.8,183.6 h-2.2" stroke="#333" stroke-width="0.7" fill="none"/>
<path d="M108.8,237.6 v2.2 M114.26,237.6 v1.3 M117.45,237.6 v1.3 M119.71,237.6 v1.3 M121.47,237.6 v1.3 M122.9,237.6 v1.3 M124.12,237.6 v1.3 M125.17,237.6 v1.3 M126.1,237.6 v1.3 M126.92,237.6 v2.2 M132.38,237.6 v1.3 M135.57,237.6 v1.3 M137.84,237.6 v1.3 M139.59,237.6 v1.3 M141.03,237.6 v1.3 M142.24,237.6 v1.3 M143.29,237.6 v1.3 M144.22,237.6 v1.3 M145.05,237.6 v2.2 M150.51,237.6 v1.3 M153.7,237.6 v1.3 M155.96,237.6 v1.3 M157.72,237.6 v1.3 M159.15,237.6 v1.3 M160.37,237.6 v1.3 M161.42,237.6 v1.3 M162.35,237.6 v1.3 M163.18,237.6 v2.2 M168.63,237.6 v1.3 M171.82,237.6 v1.3 M174.09,237.6 v1.3 M175.84,237.6 v1.3 M177.28,237.6 v1.3 M178.49,237.6 v1.3 M179.54,237.6 v1.3 M180.47,237.6 v1.3 M181.3,237.6 v2.2" stroke="#000" stroke-width="0.9" fill="none"/>
<line x1="108.3" y1="237.9" x2="181.8" y2="237.9" stroke="#000" stroke-width="1.6"/>
<text x="109.6" y="248.3" text-anchor="middle" font-size="7.1" fill="#111" stroke="#111" stroke-width="0.12">10<tspan font-size="5.9" dy="-3">0</tspan></text>
<text x="127.72" y="248.3" text-anchor="middle" font-size="7.1" fill="#111" stroke="#111" stroke-width="0.12">10<tspan font-size="5.9" dy="-3">1</tspan></text>
<text x="145.85" y="248.3" text-anchor="middle" font-size="7.1" fill="#111" stroke="#111" stroke-width="0.12">10<tspan font-size="5.9" dy="-3">2</tspan></text>
<text x="163.98" y="248.3" text-anchor="middle" font-size="7.1" fill="#111" stroke="#111" stroke-width="0.12">10<tspan font-size="5.9" dy="-3">3</tspan></text>
<text x="182.1" y="248.3" text-anchor="middle" font-size="7.1" fill="#111" stroke="#111" stroke-width="0.12">10<tspan font-size="5.9" dy="-3">4</tspan></text>
<text x="130.8" y="193.45" font-size="11.6" text-anchor="end" font-weight="normal" fill="#111" stroke="#111" stroke-width="0.3" >82</text>
<text x="130.8" y="207.05" font-size="11.6" text-anchor="end" font-weight="normal" fill="#111" stroke="#111" stroke-width="0.3" >267</text>
<text x="23.4" y="262" font-size="11.4" text-anchor="start" font-weight="normal" fill="#111" stroke="#111" stroke-width="0.3" >T-bet</text>
<text x="105.8" y="262" font-size="11.4" text-anchor="start" font-weight="normal" fill="#111" stroke="#111" stroke-width="0.3" >GATA-3</text>
<path d="M56.2,259.5 H83.5" stroke="#000" stroke-width="1.7"/>
<path d="M87.5,259.5 L83,257.3 L83,261.7 Z" fill="#000"/>
<path d="M146.7,259.6 H174.8" stroke="#000" stroke-width="1.7"/>
<path d="M178.8,259.6 L174.3,257.4 L174.3,261.8 Z" fill="#000"/>
<rect x="233.5" y="35" width="70.5" height="54.1" fill="none" stroke="#222" stroke-width="1.0"/>
<path d="M272.58,72.79h0.9M269.17,70.48h0.9M267.94,62.76h0.9M272.16,69.48h0.9M271.64,64.11h0.9M265.81,63.23h0.9M278.49,68.4h0.9M275.72,59.65h0.9M266.22,59.74h0.9M270.78,67.47h0.9M279.15,67.56h0.9M267.3,60.75h0.9M265.52,67.69h0.9M272.34,63.29h0.9M269.72,70.08h0.9M266.62,69.01h0.9M279.71,63.81h0.9M264.37,66.54h0.9M276.25,61.97h0.9M279.04,60.54h0.9M275.85,67.92h0.9M267.79,72.3h0.9M271.12,57.49h0.9M272.99,69.84h0.9M264.75,65.18h0.9M281.8,66.87h0.9M274.7,55.11h0.9M274.31,60h0.9M268.99,66.96h0.9M274.93,56.52h0.9M264.21,55.35h0.9M272.72,64.95h0.9" stroke="#333" stroke-width="0.9" opacity="1.0" fill="none"/>
<path d="M271.52,87.7h1.1M271.88,86.8h1.1M272.67,77.18h1.1M274.16,79.73h1.1M271.81,83.46h1.1M273.29,77.72h1.1M272.58,85.37h1.1M271.48,83.22h1.1M272.01,84.51h1.1M271.94,86.43h1.1M270.64,78.56h1.1M273.65,82.14h1.1M269.91,82.69h1.1M273.59,80.51h1.1M273.28,81.62h1.1M271.79,87.22h1.1M271.01,87.25h1.1M271.64,87.64h1.1M272.44,75.14h1.1M272.88,85.27h1.1M272.2,74.19h1.1M273.34,81.88h1.1M271.09,81.06h1.1M272.23,83.28h1.1M269.99,86.58h1.1M273.01,81.48h1.1M272.07,74.67h1.1M271.3,80.3h1.1M273.46,84.87h1.1M272.73,86.9h1.1M268.01,84.11h1.1M271.95,77.7h1.1M270.24,87.54h1.1M273.44,80.36h1.1M274.83,75.58h1.1M271.36,73.99h1.1M271.99,86.8h1.1M271.57,85.33h1.1M272.27,74.06h1.1M272.61,88.05h1.1M273.69,83.99h1.1M270.77,87.46h1.1M273.97,85.26h1.1M270.55,81.79h1.1M272.3,81.14h1.1M273.57,82.45h1.1M272.88,78.41h1.1M270.87,88.03h1.1M270.92,78.91h1.1M271.24,80.2h1.1M271.84,86.68h1.1M273.41,85.23h1.1M270.31,76.22h1.1M272.57,82.73h1.1M272.73,84.46h1.1M272.53,87.69h1.1M272.56,79.58h1.1M273.78,86.39h1.1M272.5,76.32h1.1M273.14,81.6h1.1M272.56,87.24h1.1M274.18,76.78h1.1M269.21,83.23h1.1M273.75,80.36h1.1M271.58,86.5h1.1M271.49,81.21h1.1M270.62,85.27h1.1M269.19,81.61h1.1M271.37,84.19h1.1M270.9,81.7h1.1M272.61,82.05h1.1M270.31,88.26h1.1M273.97,82.24h1.1M272.29,80.31h1.1M271.64,74.19h1.1M270.88,80.15h1.1M270.78,79.72h1.1M270.52,76.13h1.1M271.28,87.61h1.1M271.91,83.84h1.1M271.67,77.29h1.1M270.16,86.49h1.1M271.56,76.88h1.1M270.73,85.35h1.1M272.13,81.31h1.1M274.47,84.2h1.1M272.77,78.8h1.1M271.45,80.95h1.1M269.86,76.59h1.1M269.99,78h1.1M269.86,86.68h1.1M272.66,88.53h1.1M271.09,88.4h1.1M271.98,86.1h1.1M271.13,86.26h1.1M272.03,81h1.1M273.93,81.13h1.1M271.04,86.12h1.1M271.41,79.82h1.1M270.79,84.21h1.1M272.96,86.62h1.1M270.42,80.83h1.1M270.39,85.02h1.1M270.06,85.08h1.1M269.98,84.47h1.1M272.43,87.81h1.1M274.85,87.47h1.1M270.77,87.56h1.1M273.09,86.2h1.1M272.24,84.75h1.1M270.3,81.24h1.1M271.57,87.13h1.1M271.57,79.67h1.1M271.17,88.53h1.1M274.69,81.87h1.1M269.38,85.14h1.1M272.31,88.23h1.1M272.37,83.21h1.1M271.06,80.75h1.1M272.11,84.06h1.1M272.81,73.95h1.1M272.12,79.34h1.1M272.5,81.17h1.1M272.77,86.13h1.1M269.61,87.69h1.1M274.02,80.02h1.1M274.6,87.02h1.1M273.22,84.81h1.1M273.27,84.74h1.1M270.16,86.42h1.1M271.73,80.86h1.1M270.76,83.63h1.1M271.05,80.42h1.1M272.93,88.33h1.1M270.99,87.7h1.1M271.76,88.55h1.1M269.15,82.35h1.1M271.69,84.71h1.1M272,87.98h1.1M271.04,86.58h1.1M270.86,81.55h1.1M274.25,76.43h1.1M270.64,74.04h1.1M270.39,80.2h1.1M271.02,74.62h1.1M273.61,82.82h1.1M274.88,79.42h1.1M272.35,78.26h1.1M271.06,75.58h1.1M271.3,83.58h1.1M273.43,82.62h1.1M270.82,86.98h1.1M273.75,85.91h1.1M273.93,82.69h1.1M271.98,86.85h1.1M272.79,84.18h1.1M272.97,79.56h1.1M274,84.64h1.1M270.5,77.72h1.1M273.6,82.49h1.1M271.41,85.33h1.1M270.87,84.83h1.1M272.02,87.41h1.1M271.6,79.58h1.1M270.83,88.19h1.1M269.71,84.3h1.1M270.62,84.59h1.1M274,80.77h1.1M274.74,81.12h1.1M272.84,80.57h1.1M273.57,79.11h1.1M271.17,79.13h1.1M271.79,82.19h1.1M272.28,84.63h1.1M270.76,74.16h1.1M270.74,87.22h1.1M272.04,83.63h1.1M271.44,82.49h1.1M270.54,85.8h1.1M272.38,86.37h1.1M271.56,85.53h1.1M273.29,78.17h1.1M271.89,78.71h1.1M272.05,75.69h1.1M271.71,87.92h1.1M270.98,84.08h1.1M271.4,86.42h1.1M272.96,79.55h1.1M272.66,87.17h1.1M273.75,82.4h1.1M270.21,73.54h1.1M271.43,87.03h1.1M271.46,88.55h1.1M272.12,85.51h1.1M271.34,86.41h1.1M272.8,75.28h1.1M272.1,75.09h1.1M270.22,80.55h1.1M273.72,84.42h1.1M273.11,76.11h1.1M271.18,86.16h1.1M272.79,88.32h1.1M270.87,79.09h1.1M273.49,79.3h1.1M271.58,81.69h1.1M270.74,80.86h1.1M271.39,84.57h1.1M270.8,80.46h1.1M272.17,83.68h1.1M272.14,84.36h1.1M271.95,80.44h1.1M271.25,87.15h1.1M267.24,85.89h1.1M272.01,86.98h1.1M269.78,87.79h1.1M272.24,78.85h1.1M273.53,80.5h1.1M272.21,87.65h1.1M271.35,79.17h1.1M271.64,79.6h1.1M271.74,87.1h1.1M271.34,73.73h1.1M271.06,79.93h1.1M270.62,78.6h1.1M273.61,80.28h1.1M271.88,81.57h1.1M273.25,79.26h1.1M271.57,85.14h1.1M271.99,85.35h1.1M271.68,85.54h1.1M272.57,81.01h1.1M272.15,74.16h1.1M271.2,74.08h1.1M270.8,79.25h1.1M274.3,82.09h1.1M271.53,85.27h1.1M271.49,83.4h1.1M273.79,85.6h1.1M273.2,86.86h1.1M272.59,85.56h1.1M271.48,88.56h1.1M275.31,81.29h1.1M272.4,76.64h1.1M272.56,75.98h1.1M271.69,86.43h1.1M269.95,84.21h1.1M270.05,78.68h1.1M272.47,78.94h1.1M272.41,85.42h1.1M271.58,77.46h1.1M270.43,86.09h1.1M269.88,83.71h1.1M271.43,80.16h1.1M269.81,82.55h1.1M273.16,83.72h1.1M273.05,73h1.1M274.96,88.22h1.1M272.93,87.1h1.1M271.05,82.85h1.1M270.65,79.84h1.1M267.09,78.84h1.1M271.25,88.06h1.1M271.69,86.73h1.1M272.99,75.04h1.1M272.57,74.57h1.1M272.73,83.48h1.1M272.17,76.48h1.1M272.75,76.96h1.1M273.95,83.23h1.1M270.84,73.37h1.1M271.38,75.03h1.1M269.89,81h1.1M273.52,72.91h1.1M273.36,75.02h1.1M272.95,83.74h1.1M270.17,80.78h1.1M272.13,77.93h1.1M271.62,86.74h1.1M272,85.58h1.1M271.66,85.87h1.1M272.47,74.66h1.1M271.33,81.77h1.1M273.08,84.16h1.1M272.16,88.28h1.1M271.48,82.27h1.1M271.77,87.05h1.1M271.26,82.02h1.1M273.08,81.85h1.1M271.56,85.94h1.1M272.27,86.08h1.1M271.35,83.39h1.1M270.34,88.55h1.1M273.13,84.48h1.1M270.37,81.44h1.1M272.72,86.79h1.1M272.5,80.02h1.1M269.78,85.75h1.1M270.53,81.44h1.1M271.24,85.65h1.1M270.71,81.46h1.1M270.27,84.24h1.1M272.68,74.22h1.1M271.62,87.05h1.1M272.45,82.85h1.1M271.43,88.21h1.1M272.27,86.78h1.1M270.98,76.21h1.1M271.87,85.87h1.1M272.53,74.45h1.1M271.96,83.7h1.1M271.33,86.32h1.1M270.34,82.71h1.1M272.1,86.75h1.1M272.4,81.64h1.1M271.6,75.58h1.1M270.82,83.54h1.1M272.68,81.99h1.1M275.33,78.58h1.1M271.57,88.21h1.1M272.37,83.84h1.1M272.41,77.95h1.1M268.22,79.96h1.1M271.15,88.38h1.1M273.49,87.42h1.1M271.62,74.58h1.1M270.79,83.05h1.1M271.65,87.37h1.1M272.13,78.3h1.1M271.21,86.36h1.1M271.84,87.78h1.1M270.05,78.27h1.1M271.63,76.04h1.1M272.84,86.76h1.1M274.09,87.88h1.1M272.92,81.66h1.1M272.29,82.57h1.1M273.44,77.2h1.1M273.04,74.92h1.1M274.3,80.42h1.1M273.4,78.72h1.1M271.73,81.2h1.1M272.21,76h1.1M272.32,84.05h1.1M272.18,78.89h1.1M270.88,77.33h1.1M269.43,87.12h1.1M270.94,79.86h1.1M269.38,76.45h1.1M272,81.62h1.1M271.91,82h1.1M269.79,76.63h1.1M272.86,83.8h1.1M273,85.97h1.1M272,74.63h1.1M273.9,75.89h1.1" stroke="#000" stroke-width="1.1" opacity="1.0" fill="none"/>
<path d="M278.51,76.25h0.9M266.82,86.46h0.9M275.34,85.07h0.9M273.08,84.62h0.9M272.99,88.56h0.9M274.95,81.99h0.9M268.67,76.28h0.9M269.15,82.74h0.9M268.26,77.91h0.9M268.53,81.29h0.9M271.03,80.49h0.9M265.88,82.05h0.9M267.43,87.42h0.9M273.59,85.75h0.9M271.13,79.83h0.9M272.86,85.86h0.9M264.22,86.51h0.9M268.42,85.21h0.9M269.29,81.87h0.9M271.52,87.09h0.9M269.17,80.98h0.9M274.95,75.19h0.9M271.18,77.68h0.9M271.46,83.46h0.9M271.45,79.29h0.9M274.09,79.94h0.9M269.61,79.63h0.9M275.67,76.48h0.9M273.15,75h0.9M271.99,74.34h0.9M271.56,83.69h0.9M273.38,78.46h0.9M275.26,80.45h0.9M274.99,87.63h0.9M272.83,83h0.9M274.73,85.76h0.9M271.85,85.03h0.9M276.16,87.91h0.9M271.3,74.6h0.9M263.51,79.36h0.9M276.48,87.84h0.9M271.81,80.57h0.9M266.95,87.82h0.9M270.65,76.37h0.9M268.04,74.5h0.9M279.38,87.03h0.9M273.29,79.77h0.9M265.44,81.22h0.9M273.48,87.64h0.9M269.88,76.89h0.9M278.68,88.12h0.9M267.4,79.55h0.9M262.86,77.31h0.9M271.65,77.11h0.9M270.08,81.38h0.9" stroke="#444" stroke-width="0.9" opacity="1.0" fill="none"/>
<rect x="263.3" y="52.3" width="24.4" height="21.3" fill="none" stroke="#333" stroke-width="0.9"/>
<path d="M233.5,89.1 h-2.4 M233.5,85.03 h-1.4 M233.5,82.65 h-1.4 M233.5,80.96 h-1.4 M233.5,79.65 h-1.4 M233.5,78.58 h-1.4 M233.5,77.67 h-1.4 M233.5,76.89 h-1.4 M233.5,76.19 h-1.4 M233.5,75.57 h-2.4 M233.5,71.5 h-1.4 M233.5,69.12 h-1.4 M233.5,67.43 h-1.4 M233.5,66.12 h-1.4 M233.5,65.05 h-1.4 M233.5,64.15 h-1.4 M233.5,63.36 h-1.4 M233.5,62.67 h-1.4 M233.5,62.05 h-2.4 M233.5,57.98 h-1.4 M233.5,55.6 h-1.4 M233.5,53.91 h-1.4 M233.5,52.6 h-1.4 M233.5,51.53 h-1.4 M233.5,50.62 h-1.4 M233.5,49.84 h-1.4 M233.5,49.14 h-1.4 M233.5,48.52 h-2.4 M233.5,44.45 h-1.4 M233.5,42.07 h-1.4 M233.5,40.38 h-1.4 M233.5,39.07 h-1.4 M233.5,38 h-1.4 M233.5,37.1 h-1.4 M233.5,36.31 h-1.4 M233.5,35.62 h-1.4 M233.5,35 h-2.4" stroke="#222" stroke-width="0.8" fill="none"/>
<line x1="233.3" y1="35" x2="233.3" y2="89.1" stroke="#111" stroke-width="1.1"/>
<path d="M233.5,89.1 v2.2 M238.81,89.1 v1.3 M241.91,89.1 v1.3 M244.11,89.1 v1.3 M245.82,89.1 v1.3 M247.21,89.1 v1.3 M248.39,89.1 v1.3 M249.42,89.1 v1.3 M250.32,89.1 v1.3 M251.12,89.1 v2.2 M256.43,89.1 v1.3 M259.53,89.1 v1.3 M261.74,89.1 v1.3 M263.44,89.1 v1.3 M264.84,89.1 v1.3 M266.02,89.1 v1.3 M267.04,89.1 v1.3 M267.94,89.1 v1.3 M268.75,89.1 v2.2 M274.06,89.1 v1.3 M277.16,89.1 v1.3 M279.36,89.1 v1.3 M281.07,89.1 v1.3 M282.46,89.1 v1.3 M283.64,89.1 v1.3 M284.67,89.1 v1.3 M285.57,89.1 v1.3 M286.38,89.1 v2.2 M291.68,89.1 v1.3 M294.78,89.1 v1.3 M296.99,89.1 v1.3 M298.69,89.1 v1.3 M300.09,89.1 v1.3 M301.27,89.1 v1.3 M302.29,89.1 v1.3 M303.19,89.1 v1.3 M304,89.1 v2.2" stroke="#000" stroke-width="0.9" fill="none"/>
<line x1="233" y1="89.4" x2="304.5" y2="89.4" stroke="#000" stroke-width="1.6"/>
<text transform="translate(228.5,88.8) rotate(-90)" x="0" y="0" text-anchor="middle" font-size="7.2" fill="#111" stroke="#111" stroke-width="0.12">10<tspan font-size="6.2" dy="-3.3">0</tspan></text>
<text transform="translate(228.5,75.27) rotate(-90)" x="0" y="0" text-anchor="middle" font-size="7.2" fill="#111" stroke="#111" stroke-width="0.12">10<tspan font-size="6.2" dy="-3.3">1</tspan></text>
<text transform="translate(228.5,61.75) rotate(-90)" x="0" y="0" text-anchor="middle" font-size="7.2" fill="#111" stroke="#111" stroke-width="0.12">10<tspan font-size="6.2" dy="-3.3">2</tspan></text>
<text transform="translate(228.5,48.23) rotate(-90)" x="0" y="0" text-anchor="middle" font-size="7.2" fill="#111" stroke="#111" stroke-width="0.12">10<tspan font-size="6.2" dy="-3.3">3</tspan></text>
<text transform="translate(228.5,34.7) rotate(-90)" x="0" y="0" text-anchor="middle" font-size="7.2" fill="#111" stroke="#111" stroke-width="0.12">10<tspan font-size="6.2" dy="-3.3">4</tspan></text>
<text x="233.7" y="99.8" text-anchor="middle" font-size="7.1" fill="#111" stroke="#111" stroke-width="0.12">10<tspan font-size="5.9" dy="-3">0</tspan></text>
<text x="251.32" y="99.8" text-anchor="middle" font-size="7.1" fill="#111" stroke="#111" stroke-width="0.12">10<tspan font-size="5.9" dy="-3">1</tspan></text>
<text x="268.95" y="99.8" text-anchor="middle" font-size="7.1" fill="#111" stroke="#111" stroke-width="0.12">10<tspan font-size="5.9" dy="-3">2</tspan></text>
<text x="286.57" y="99.8" text-anchor="middle" font-size="7.1" fill="#111" stroke="#111" stroke-width="0.12">10<tspan font-size="5.9" dy="-3">3</tspan></text>
<text x="304.2" y="99.8" text-anchor="middle" font-size="7.1" fill="#111" stroke="#111" stroke-width="0.12">10<tspan font-size="5.9" dy="-3">4</tspan></text>
<text x="293.6" y="48.95" font-size="11.8" text-anchor="end" font-weight="normal" fill="#111" stroke="#111" stroke-width="0.3" >9</text>
<rect x="329.6" y="35" width="71.4" height="54.1" fill="none" stroke="#222" stroke-width="1.0"/>
<path d="M361.48,61.16h0.9M361.32,66.68h0.9M363.86,72.16h0.9M374.41,65.01h0.9M374.6,65.03h0.9M375.27,57.92h0.9M360.75,60.87h0.9M366.04,60.66h0.9M383.55,72.57h0.9M368.01,65.86h0.9M382.36,67.6h0.9M365.49,59.19h0.9M360.36,70.65h0.9M365.37,55.5h0.9M367.79,72.16h0.9M370.72,60.9h0.9M361.07,62.51h0.9M366.52,61.58h0.9M360.94,58.63h0.9M371.4,61.79h0.9M376.77,54.87h0.9M368.05,62.05h0.9M368.92,62.99h0.9M372.34,68.79h0.9M381.5,55.28h0.9M367.95,61.04h0.9M362.3,68.71h0.9M361.19,59.87h0.9M367.61,67.47h0.9M363.08,53.93h0.9M363.83,66.56h0.9M369.75,72.9h0.9M366.51,66.61h0.9M360.69,64.02h0.9M382.8,70.02h0.9M363.44,53.31h0.9M379.31,72.06h0.9M366.21,65.24h0.9M364.74,58.77h0.9M372.54,72.96h0.9M381.51,59.98h0.9M368.27,55.33h0.9M363.19,66.93h0.9M372.39,72.54h0.9M361.95,55.84h0.9M362.89,71.31h0.9M363.14,69.04h0.9M367.32,58.16h0.9M367.52,62.69h0.9M362.07,59.4h0.9M362.89,55.25h0.9M375.98,56.39h0.9M376.85,62.91h0.9M377.08,61.85h0.9M375.75,71.16h0.9M362.2,72.64h0.9M365.24,60.15h0.9M364.79,57.78h0.9M366.37,68.13h0.9M370.67,65.74h0.9M366.67,71.3h0.9M379.06,59.3h0.9M375.61,53.5h0.9M376.43,53.22h0.9M383.15,54.18h0.9M375.78,55.07h0.9M376.84,66.93h0.9M379.93,67.22h0.9M362.41,61.78h0.9M371.35,67.75h0.9M374.41,62.32h0.9M361.65,63.94h0.9M378.69,59.24h0.9M382.11,64.97h0.9M368.97,58.41h0.9M381.55,70.68h0.9M369.89,60.34h0.9M370.12,65.71h0.9M368.17,63.87h0.9M366.76,54.25h0.9M365.27,60.08h0.9M364.06,58.69h0.9M362.57,63.18h0.9M361.58,71.41h0.9M360.39,53.79h0.9M362.02,71.4h0.9M376.15,63.27h0.9M367.38,56.5h0.9M364.92,64.5h0.9M366.04,67.7h0.9M360.72,54.02h0.9M380.45,53.83h0.9M373.53,61.24h0.9M365.79,53.43h0.9M365.15,54.78h0.9M374.96,61.87h0.9M367.71,54.81h0.9M368.08,70.63h0.9M371.1,60.47h0.9M381.51,70.76h0.9M372.84,65.28h0.9M379.87,65.52h0.9M375.23,61.58h0.9M376.16,58.25h0.9M371.75,70.6h0.9M364.54,60.82h0.9M367.81,67.99h0.9M380.65,59.7h0.9M369.51,60.42h0.9M379.94,71.28h0.9M382.15,57.23h0.9M373.78,57.92h0.9M362.67,70.83h0.9M375.81,59.71h0.9M367.08,70.74h0.9M380.41,59.52h0.9M371.55,73.04h0.9M361.63,69.53h0.9M361.88,70.03h0.9M365.62,57.61h0.9M374.51,57.44h0.9M379.29,68.15h0.9M362.61,69.63h0.9M360.82,57.59h0.9M374.8,57.22h0.9M369.84,57.97h0.9M379.42,61.52h0.9M378.45,54.21h0.9M360.38,56.94h0.9M363.81,55.44h0.9M373.98,58.5h0.9M382.56,56.82h0.9M362.2,71.83h0.9M366.56,72.56h0.9M366.61,68.99h0.9M365.85,66.06h0.9M362.7,60.66h0.9M382.5,62.89h0.9M368.21,70.34h0.9M380.86,66.14h0.9M369.54,57.65h0.9M370.7,71.35h0.9M375.01,69.1h0.9M362.88,71.09h0.9M372.69,69.55h0.9M362.51,69.2h0.9M365.54,61.82h0.9M382.95,56.43h0.9M383.59,66.22h0.9M366.37,53.96h0.9M363.71,72.42h0.9M370.58,56.4h0.9M378.21,69.57h0.9M376.84,53.94h0.9M376.07,70.83h0.9M381.92,67.56h0.9M382.36,57.32h0.9M362.74,53.33h0.9M370.82,55.74h0.9M367.16,56.66h0.9M361.59,66.62h0.9M365.04,72.33h0.9M361.94,66.02h0.9M370.19,68.33h0.9M365.66,66.56h0.9M367.73,53.12h0.9M369.17,70.5h0.9M361.47,63.3h0.9M365.37,64.84h0.9M364.95,58.96h0.9M366.09,72h0.9M366.57,62.64h0.9M373.33,54.52h0.9M375.07,53.34h0.9M361.22,65.91h0.9M366.68,61.62h0.9M367.47,61.91h0.9M380.77,59.62h0.9M361.5,56.67h0.9M368.39,62.57h0.9M364.83,58.2h0.9M376.5,70.96h0.9M361.64,72.45h0.9M376.52,60.77h0.9M365.36,68.56h0.9M367.13,62.42h0.9M378.67,69.34h0.9M362.05,69.72h0.9M370.93,57.13h0.9M372.08,71.22h0.9M381.19,53.74h0.9M373.03,62.77h0.9M361.5,59.13h0.9M383.5,62.47h0.9M369.74,71.46h0.9M368.8,60.02h0.9M378.18,58.85h0.9M362.53,66.18h0.9M379.34,57.07h0.9M375.93,61.11h0.9M376.85,53.21h0.9M369.57,68.54h0.9M363.64,67.78h0.9M370.01,60.85h0.9M361.5,58.06h0.9M362.33,63.9h0.9M370.53,59.01h0.9M379.52,69.52h0.9M365.05,64.91h0.9M379.58,65.25h0.9M376.03,61.38h0.9M373.86,71.99h0.9M374.31,59.51h0.9M368.7,72.64h0.9M365.86,61.62h0.9M361.82,69.64h0.9M368.9,55.04h0.9M378.24,60.98h0.9M364.12,70.78h0.9M379.27,64.15h0.9M361.27,57.47h0.9M382,54.94h0.9M375.49,61.52h0.9M373.26,55.03h0.9M369.91,62.8h0.9M379.52,67.68h0.9M360.46,59.31h0.9M360.67,56.45h0.9M372.42,60.33h0.9M367.22,56.42h0.9M369.66,69.98h0.9M372.8,55.02h0.9M361.32,67.92h0.9M383.21,59.78h0.9M362.6,68.52h0.9M376.31,72.01h0.9M377.49,64.44h0.9M383.4,66h0.9M363.06,59.55h0.9M383.51,56.59h0.9M371.41,67.99h0.9M364.98,69.51h0.9M369.01,57.22h0.9M368.79,55.37h0.9M381.16,60.15h0.9M372.52,65.62h0.9M361.85,60.4h0.9M376.96,72.38h0.9M379.28,71.42h0.9M361.38,65.09h0.9M380.45,68.22h0.9M381.1,72.12h0.9M360.49,53.81h0.9M363.13,56.84h0.9M362.38,57.75h0.9M380.97,67.93h0.9M364.58,59.75h0.9M375.87,66.13h0.9M375.53,66.68h0.9M367.78,71.28h0.9M365.3,70.55h0.9M361.23,66.88h0.9M366.22,56.75h0.9M367.91,55.06h0.9M373.91,67.38h0.9M368.9,71.24h0.9M362.89,68.03h0.9M373.59,63.44h0.9M377.17,65.69h0.9M376.72,67.7h0.9M367.45,60.36h0.9M360.54,70.12h0.9M370.58,69.09h0.9M365.01,69.77h0.9M377.05,72.9h0.9M381.25,63.13h0.9M381.84,60.65h0.9" stroke="#555" stroke-width="0.9" opacity="1.0" fill="none"/>
<path d="M374.31,71.16h1M371.42,65.24h1M373.97,69.6h1M369.9,60.46h1M370.94,65.74h1M367.57,62.02h1M377.46,65.76h1M374.3,68.3h1M368.38,69.71h1M373.6,60.64h1M375.03,70.58h1M374.96,62.91h1M375.04,60.49h1M370.39,64.25h1M372.13,58.56h1M373.3,65.02h1M375.71,66.27h1M370.51,64.12h1M368.98,67.36h1M376.91,63.62h1M370.02,65.02h1M377.6,58.66h1M373.74,65.19h1M376.5,61.26h1M378.94,63.02h1M375.28,64.59h1M375.33,65.84h1M371.38,57.75h1M372.03,58.12h1M375.3,63.67h1M377.53,67.09h1M377.17,66.59h1M379.7,68.93h1M372.95,70.72h1M373.25,67.18h1M376.24,64.91h1M373.89,60.46h1M373.56,60.84h1M370.02,62.94h1M375.96,66.18h1M369.39,65.97h1M374.64,65.02h1M368.58,64.33h1M376,67.77h1M369.54,65.92h1M375.46,66.31h1M367.67,66.36h1M372.03,62.6h1M377.6,60.46h1M370.03,67.16h1M372.88,66.83h1M371.65,64.03h1M365.94,63.17h1M372.16,75.03h1M374.99,61.66h1M369.63,64.04h1M374.62,66.17h1M371.38,59.92h1M369.7,65.52h1M371.58,72.91h1M370.07,69.11h1M379.83,67.78h1M367.55,67.61h1M375.27,65.49h1M375.4,69.22h1M366.79,64.31h1M367.79,63.14h1M374.72,65.45h1M370.73,68.99h1M373.96,66.45h1M376.11,67.97h1M373.43,56.09h1M368.64,70.25h1M362.39,75.3h1M372.59,70.87h1M370.28,63.6h1M374.68,61.27h1M373.52,66.22h1M369.36,60.66h1M377.94,68.19h1M376.89,62.69h1M374.95,69.23h1M368.12,70.99h1M373.32,56.06h1M371.02,66.29h1M372.23,61.93h1M370.53,58.8h1M374.88,62.28h1M373.91,64.04h1M373.34,69.55h1M372.6,58.31h1M376.29,69.62h1M371.99,73.88h1M363.76,67.63h1M370.51,67.4h1M372.83,64.94h1M377.03,59.83h1M371.61,67.35h1M371.89,66.69h1M370.29,68.22h1M373.07,76.3h1M370.99,68.2h1M370.73,66.87h1M369.38,71.87h1M375.86,59.08h1M372.21,59.97h1M367.94,63.35h1M375.52,62.12h1M370.2,68.05h1M374.4,63.6h1M372.8,72.66h1M375.64,71.69h1M375.73,68.39h1M371.47,63.3h1M371.97,67.71h1M368.22,68.57h1M379.22,60.31h1M374.13,66.53h1M376.9,68.11h1M371.81,65.95h1M365.19,71.91h1M376.93,70.34h1M373.96,61.37h1M373.33,65.55h1M373.85,61.32h1M374.6,67.55h1M375.4,61.18h1M367.17,69.06h1M376.17,66.71h1M370.53,69.27h1M371.62,64.36h1M379.69,58.59h1M374.53,72.77h1M372.06,64.24h1M365.96,71.06h1M373.17,66.89h1M374.18,67.97h1M371.28,73.05h1M368.74,66.5h1M369.35,71.16h1M370.17,58.47h1M372.99,68.83h1M375.82,63.94h1M376.39,64.41h1M370.65,65.04h1M373.47,66.52h1M373.45,72.29h1M372.85,56.84h1M372.49,65.19h1M380.37,61.85h1M372.72,70.13h1M376.16,63.14h1M371.24,67.01h1M373.45,63.25h1M366.98,67.94h1M372.11,69.47h1M377.13,63.25h1M379.68,65.22h1M377.97,58.75h1M374.95,66.34h1M372.48,68.77h1M371.52,62.56h1M371.59,69.93h1M376.62,55.88h1M371.97,56.85h1M377.1,58.89h1M370.24,62.87h1M367.29,65.08h1M369.82,64.65h1M367.72,64.7h1M368.03,68.18h1M377,62.92h1M373.37,59.44h1M374.69,59.53h1M375.02,74.3h1M378.91,54.65h1M371.53,64.22h1M376.09,71.41h1M373.84,67.13h1M373.67,61.35h1M374.41,65.01h1M367.75,68.8h1M369.52,70.32h1M373.37,61.04h1M374.34,68.35h1M371.61,66.11h1M371.71,69.86h1M374.99,71.12h1M377.79,63.49h1M376.61,58.62h1M376.74,66.74h1M370.28,72.82h1M371.47,68.02h1M373.83,66.01h1M370.12,75.56h1M372.21,60.42h1M377.56,68.97h1M372.81,62.49h1M369.87,65.22h1M374.49,65.39h1M377.66,71.66h1M374.01,60.88h1M377.37,62.65h1M372.87,57.99h1M371.04,67.14h1M371.16,62.98h1M372.2,66.86h1M379.73,60.28h1M369.59,63.42h1M377.41,69.57h1M369.91,64.23h1M371.75,67.75h1M375.25,67.32h1M375.3,63.45h1M375.15,58.14h1M366.93,69.34h1M374.02,65.75h1M368.94,69.33h1M382.83,56.14h1M373.64,57.72h1M375.32,55.57h1M370.03,61.14h1M370.63,69.58h1M368.42,67.49h1M376.17,64.85h1M372.06,65.58h1M374.19,68.35h1M371.05,63.67h1M371.08,66.74h1M377.01,65.62h1M371.64,55.38h1M367.54,63.31h1M373.21,70.98h1M369.66,63.26h1M371.71,64.37h1M376.4,62.33h1M370.77,62.87h1M374.91,69.95h1M371.03,63.82h1M378.59,60.5h1M371.95,62.48h1M373.89,56.35h1M371.8,56.98h1M373,68.5h1M376.11,68.12h1M369.9,56.56h1M375.25,68.75h1M368.4,67.02h1M370.88,61.55h1M366.69,68.23h1M381.04,57.84h1M374.15,59.7h1M374.93,58.67h1M371.73,60.11h1M375.71,68.87h1M367.34,59.13h1M374.01,59.93h1M380.82,60.81h1M371.62,65.86h1M373.33,63.51h1M374.46,68.79h1M370.97,61.87h1M374.1,59.33h1M376.48,62.78h1M373.59,65.15h1M374.93,60.89h1M371.66,66.21h1M372.56,72.97h1M373.65,62.41h1M377.63,65.16h1M374.24,70.91h1M372.75,62.11h1M365.86,61.22h1M376.17,60.14h1M375.11,66.7h1M369.67,67.2h1M366.74,64.28h1M369.32,65.12h1M374.96,70.53h1M368.91,68.74h1M372.67,58.75h1M373.73,64.87h1M376.85,65.37h1M372.38,68.07h1M372.88,63.92h1M371.78,62.05h1M378.6,62.87h1M377.85,57.06h1M372.74,64.77h1M369.03,62.25h1M370.12,66.93h1M375.7,60.36h1M371.06,62.95h1M376.66,60.56h1M375.03,60.17h1M373.4,67.94h1M375.49,62.81h1M374.27,66.8h1M371.19,59.92h1M371.91,65.27h1M381.87,57.41h1M369.55,62.73h1M371.91,62.62h1M375.98,67.39h1M372.38,65.62h1M370.57,64.05h1M368.13,68.51h1M374.6,65.66h1M375.87,67.18h1" stroke="#111" stroke-width="1" opacity="1.0" fill="none"/>
<path d="M370.81,73.95h0.9M368.73,73.8h0.9M368.16,73.79h0.9M369.71,75.53h0.9M367.85,73.75h0.9M369.86,79.3h0.9M371.66,76.75h0.9M371.02,76.16h0.9M367.94,80.85h0.9M365.68,75.07h0.9M368.75,81.51h0.9M368.57,74.35h0.9M371.65,73.96h0.9M367.93,73.62h0.9M368.36,75.2h0.9M370.72,76.83h0.9M367.69,78.22h0.9M368.49,78.76h0.9M373.16,75.91h0.9M372.6,75.23h0.9M370.45,82.92h0.9M369.55,74.47h0.9" stroke="#555" stroke-width="0.9" opacity="1.0" fill="none"/>
<rect x="359.5" y="52.3" width="25.3" height="21.3" fill="none" stroke="#333" stroke-width="0.9"/>
<path d="M329.6,89.1 h-2.4 M329.6,85.03 h-1.4 M329.6,82.65 h-1.4 M329.6,80.96 h-1.4 M329.6,79.65 h-1.4 M329.6,78.58 h-1.4 M329.6,77.67 h-1.4 M329.6,76.89 h-1.4 M329.6,76.19 h-1.4 M329.6,75.57 h-2.4 M329.6,71.5 h-1.4 M329.6,69.12 h-1.4 M329.6,67.43 h-1.4 M329.6,66.12 h-1.4 M329.6,65.05 h-1.4 M329.6,64.15 h-1.4 M329.6,63.36 h-1.4 M329.6,62.67 h-1.4 M329.6,62.05 h-2.4 M329.6,57.98 h-1.4 M329.6,55.6 h-1.4 M329.6,53.91 h-1.4 M329.6,52.6 h-1.4 M329.6,51.53 h-1.4 M329.6,50.62 h-1.4 M329.6,49.84 h-1.4 M329.6,49.14 h-1.4 M329.6,48.52 h-2.4 M329.6,44.45 h-1.4 M329.6,42.07 h-1.4 M329.6,40.38 h-1.4 M329.6,39.07 h-1.4 M329.6,38 h-1.4 M329.6,37.1 h-1.4 M329.6,36.31 h-1.4 M329.6,35.62 h-1.4 M329.6,35 h-2.4" stroke="#222" stroke-width="0.8" fill="none"/>
<line x1="329.4" y1="35" x2="329.4" y2="89.1" stroke="#111" stroke-width="1.1"/>
<path d="M329.6,89.1 v2.2 M334.97,89.1 v1.3 M338.12,89.1 v1.3 M340.35,89.1 v1.3 M342.08,89.1 v1.3 M343.49,89.1 v1.3 M344.69,89.1 v1.3 M345.72,89.1 v1.3 M346.63,89.1 v1.3 M347.45,89.1 v2.2 M352.82,89.1 v1.3 M355.97,89.1 v1.3 M358.2,89.1 v1.3 M359.93,89.1 v1.3 M361.34,89.1 v1.3 M362.54,89.1 v1.3 M363.57,89.1 v1.3 M364.48,89.1 v1.3 M365.3,89.1 v2.2 M370.67,89.1 v1.3 M373.82,89.1 v1.3 M376.05,89.1 v1.3 M377.78,89.1 v1.3 M379.19,89.1 v1.3 M380.39,89.1 v1.3 M381.42,89.1 v1.3 M382.33,89.1 v1.3 M383.15,89.1 v2.2 M388.52,89.1 v1.3 M391.67,89.1 v1.3 M393.9,89.1 v1.3 M395.63,89.1 v1.3 M397.04,89.1 v1.3 M398.24,89.1 v1.3 M399.27,89.1 v1.3 M400.18,89.1 v1.3 M401,89.1 v2.2" stroke="#000" stroke-width="0.9" fill="none"/>
<line x1="329.1" y1="89.4" x2="401.5" y2="89.4" stroke="#000" stroke-width="1.6"/>
<text transform="translate(324.6,88.8) rotate(-90)" x="0" y="0" text-anchor="middle" font-size="7.2" fill="#111" stroke="#111" stroke-width="0.12">10<tspan font-size="6.2" dy="-3.3">0</tspan></text>
<text transform="translate(324.6,75.27) rotate(-90)" x="0" y="0" text-anchor="middle" font-size="7.2" fill="#111" stroke="#111" stroke-width="0.12">10<tspan font-size="6.2" dy="-3.3">1</tspan></text>
<text transform="translate(324.6,61.75) rotate(-90)" x="0" y="0" text-anchor="middle" font-size="7.2" fill="#111" stroke="#111" stroke-width="0.12">10<tspan font-size="6.2" dy="-3.3">2</tspan></text>
<text transform="translate(324.6,48.23) rotate(-90)" x="0" y="0" text-anchor="middle" font-size="7.2" fill="#111" stroke="#111" stroke-width="0.12">10<tspan font-size="6.2" dy="-3.3">3</tspan></text>
<text transform="translate(324.6,34.7) rotate(-90)" x="0" y="0" text-anchor="middle" font-size="7.2" fill="#111" stroke="#111" stroke-width="0.12">10<tspan font-size="6.2" dy="-3.3">4</tspan></text>
<text x="330.9" y="99.8" text-anchor="middle" font-size="7.1" fill="#111" stroke="#111" stroke-width="0.12">10<tspan font-size="5.9" dy="-3">0</tspan></text>
<text x="348.75" y="99.8" text-anchor="middle" font-size="7.1" fill="#111" stroke="#111" stroke-width="0.12">10<tspan font-size="5.9" dy="-3">1</tspan></text>
<text x="366.6" y="99.8" text-anchor="middle" font-size="7.1" fill="#111" stroke="#111" stroke-width="0.12">10<tspan font-size="5.9" dy="-3">2</tspan></text>
<text x="384.45" y="99.8" text-anchor="middle" font-size="7.1" fill="#111" stroke="#111" stroke-width="0.12">10<tspan font-size="5.9" dy="-3">3</tspan></text>
<text x="402.3" y="99.8" text-anchor="middle" font-size="7.1" fill="#111" stroke="#111" stroke-width="0.12">10<tspan font-size="5.9" dy="-3">4</tspan></text>
<text x="397.8" y="48.95" font-size="11.8" text-anchor="end" font-weight="normal" fill="#111" stroke="#111" stroke-width="0.3" >95</text>
<rect x="233.5" y="109.5" width="70.5" height="53.7" fill="none" stroke="#222" stroke-width="1.0"/>
<path d="M277.46,147.03h0.9M271.32,132.61h0.9M275.53,134.74h0.9M271.69,145.77h0.9M270.51,145.56h0.9M276.27,127.9h0.9M266.45,129.33h0.9M273.06,147.2h0.9M278.93,142.5h0.9M272.45,143.05h0.9M268.14,140.59h0.9M267.13,143.63h0.9M271.23,136.02h0.9M274.11,142.28h0.9M278.85,137.12h0.9M267.41,137.01h0.9M273.35,137.53h0.9M281.3,146.75h0.9M268.58,143.34h0.9M272.23,147.1h0.9M279.03,134.98h0.9M280.48,135.86h0.9M268.84,135.55h0.9M270.55,146.42h0.9M272.9,147.1h0.9M275.05,137.52h0.9M274.14,133.58h0.9M275.07,136.73h0.9M274.94,143.01h0.9M267.32,138h0.9M267.68,139.35h0.9M275.32,144.1h0.9M274.06,143.56h0.9M266.68,145.73h0.9M276.72,128.95h0.9M275.09,145.5h0.9M265.27,130.04h0.9M278.69,143.35h0.9M278.66,128.24h0.9M270.1,131.12h0.9" stroke="#333" stroke-width="0.9" opacity="1.0" fill="none"/>
<path d="M270.65,149.91h1.1M273.84,155.33h1.1M270.28,159.66h1.1M272.91,158.22h1.1M273.55,161.09h1.1M271.69,150.33h1.1M272.73,150.02h1.1M269.62,162.45h1.1M271.41,161.05h1.1M269.81,150.6h1.1M272.08,150.65h1.1M271.88,161.7h1.1M271,161.58h1.1M273.19,153.5h1.1M272.28,161.35h1.1M271.25,160.98h1.1M271.13,155.86h1.1M270.09,160.61h1.1M271.67,162.38h1.1M274.83,153.44h1.1M271.12,148.33h1.1M272.46,156.41h1.1M271.13,152.13h1.1M273.01,156.15h1.1M272.49,154.56h1.1M271.6,161.43h1.1M270.08,147.78h1.1M271.26,149.79h1.1M273.26,161.25h1.1M271.53,152.97h1.1M272.5,147.21h1.1M271.23,151.96h1.1M269.26,157.49h1.1M272.39,160.56h1.1M272.25,161.05h1.1M271.1,158.89h1.1M271.41,160.12h1.1M272.27,157.32h1.1M271.04,157.55h1.1M272.36,155.49h1.1M271.58,156.57h1.1M269.18,149.35h1.1M271.7,160.93h1.1M271.24,162.36h1.1M270.67,156.04h1.1M272.44,155.76h1.1M271.26,150.83h1.1M272.45,162.33h1.1M273.26,159.84h1.1M272.05,160.21h1.1M270.14,161.72h1.1M270.87,152.69h1.1M273.02,150.79h1.1M271.5,156.64h1.1M270.79,158.64h1.1M271.74,155.12h1.1M272.59,156.38h1.1M272.2,160.04h1.1M272.68,160.13h1.1M270.7,156.9h1.1M271.48,155.98h1.1M271.52,153.46h1.1M271.84,157.9h1.1M268.96,153.19h1.1M271.54,156.83h1.1M270.19,160.03h1.1M273.86,154.79h1.1M273.49,148.1h1.1M274.23,157.14h1.1M272.88,160.24h1.1M271.25,151.27h1.1M273.1,159.73h1.1M271.63,160.52h1.1M272.65,159.83h1.1M270.6,157.18h1.1M272.54,156.02h1.1M274.08,160.16h1.1M271.84,155.55h1.1M274.25,162.52h1.1M275.82,155.34h1.1M270.13,152.48h1.1M271.84,151.32h1.1M270.52,156.63h1.1M271.69,158.06h1.1M271.21,150.72h1.1M271.79,152.02h1.1M272.97,161.58h1.1M273.19,157.43h1.1M272.18,161.4h1.1M271.88,154.77h1.1M272.04,158.54h1.1M272.06,154.99h1.1M272.55,161.13h1.1M271.89,157.33h1.1M272.45,161.6h1.1M270.25,150.61h1.1M272.87,160.05h1.1M274.29,157.8h1.1M272.11,150.43h1.1M270.26,161.37h1.1M273.64,159.37h1.1M271.42,157.71h1.1M267.6,156.04h1.1M271.65,162.33h1.1M272.61,160.81h1.1M272.41,157.66h1.1M273.25,161.96h1.1M272.71,158.67h1.1M272.02,161.7h1.1M269.4,150.82h1.1M270.56,160.92h1.1M272.13,152.83h1.1M272.77,151.56h1.1M270.56,151.25h1.1M271.12,150.61h1.1M272.47,160.14h1.1M269.28,158.23h1.1M269.73,148.93h1.1M271.56,156.85h1.1M272.16,161.88h1.1M271.31,160.65h1.1M268.62,154.13h1.1M271.91,156.09h1.1M269.99,154.24h1.1M272.82,156.29h1.1M271.74,157.96h1.1M272.23,151.7h1.1M272.65,160.86h1.1M271.24,160.34h1.1M272.95,159.51h1.1M273.66,155.89h1.1M272.43,157.8h1.1M273.77,154.01h1.1M271.01,157.53h1.1M273.17,157.19h1.1M272.21,150.02h1.1M270.68,160.54h1.1M271.8,162.21h1.1M271.13,154.58h1.1M271.12,153.1h1.1M272,158.41h1.1M273.23,159.91h1.1M271.45,152.58h1.1M272.06,154.61h1.1M270.23,161.6h1.1M272.03,157.14h1.1M273.35,159.82h1.1M273.03,157.01h1.1M272.42,161.79h1.1M271.29,149.13h1.1M270.64,159.76h1.1M271.75,154.45h1.1M270.05,152.67h1.1M270.15,153.48h1.1M273.01,160.91h1.1M274.24,159.17h1.1M269.83,154.98h1.1M272.34,148.33h1.1M270.36,151.49h1.1M272.11,159.94h1.1M270.5,158.85h1.1M271.93,162.61h1.1M271.68,159.21h1.1M271.4,162.16h1.1M272.45,161.86h1.1M274.05,155.63h1.1M271.24,161.94h1.1M273.06,158.88h1.1M272,155.8h1.1M271.86,162.37h1.1M274.72,159.5h1.1M269.11,151.09h1.1M269.51,159.24h1.1M271.56,162.47h1.1M271.62,161.41h1.1M277.05,158.43h1.1M272.32,159.92h1.1M274.45,154.44h1.1M273.74,154.34h1.1M271.27,153.31h1.1M273.71,162.04h1.1M272.13,154.91h1.1M272.18,157.36h1.1M272.53,151.15h1.1M269.72,155.22h1.1M270.73,156.51h1.1M272.37,155.99h1.1M272.47,162.28h1.1M270.59,157.13h1.1M271.46,159.19h1.1M271.71,153.49h1.1M271.71,149.75h1.1M272.75,160.06h1.1M272,148.79h1.1M272.09,160.41h1.1M270.45,147.9h1.1M270.49,159.09h1.1M272.23,148.51h1.1M269.6,154.76h1.1M272.27,155.79h1.1M271,158.75h1.1M270.76,158.03h1.1M272.77,157.92h1.1M271.06,150.14h1.1M270.75,159.23h1.1M270.91,156.45h1.1M271.95,149.08h1.1M275.83,155.21h1.1M269.44,149.39h1.1M271.86,160.95h1.1M271.55,152.6h1.1M273.09,159.78h1.1M271.35,156.73h1.1M268.32,155.65h1.1M273.55,160h1.1M270.36,152.93h1.1M271.8,160.14h1.1M269.91,154.4h1.1M270.79,147.38h1.1M271.31,161.5h1.1M272.81,162.07h1.1M273.01,158.62h1.1M271.19,161.48h1.1M272.59,156.42h1.1M271.49,162.57h1.1M272.02,158.08h1.1M272.09,156.71h1.1M272.76,155.12h1.1M271.13,150.06h1.1M271.68,156.44h1.1M272.15,151.31h1.1M271.99,153.58h1.1M270.99,161.92h1.1M274.31,156.91h1.1M271.24,158.49h1.1M272.95,154.86h1.1M272.11,161.24h1.1M273.59,153.65h1.1M268.97,159.06h1.1M274.81,155.08h1.1M271.64,162.32h1.1M270.29,151.03h1.1M272.02,161.38h1.1M274.97,158.05h1.1M272.41,162.36h1.1M270.09,154.55h1.1M271.35,161.84h1.1M273.49,160.55h1.1M269.9,153.09h1.1M271.68,148.47h1.1M271.46,158.39h1.1M274.53,150.39h1.1M271.56,162.66h1.1M273.64,152.26h1.1M270.88,155.35h1.1M270.91,160.93h1.1M273.29,154.21h1.1M272.71,158.21h1.1M269.48,158.07h1.1M272.71,158.92h1.1M272.72,152.05h1.1M271.1,160.29h1.1M272.12,161.51h1.1M272.24,155.55h1.1M271.17,157.4h1.1M271.24,162.25h1.1M271.08,161.24h1.1M271.5,159.19h1.1M270.25,150.16h1.1M271.8,158.1h1.1M270.31,148.12h1.1M271.94,162.57h1.1M271.76,149.69h1.1M270.4,157.46h1.1M273.08,155.78h1.1M274.55,153.12h1.1M273.63,158.82h1.1M270.34,148.95h1.1M273.49,159.76h1.1M272.15,158.91h1.1M271.79,160.01h1.1M271.02,153.08h1.1M271.86,162.44h1.1M273.55,150.23h1.1M272.53,150.53h1.1M271.26,155.42h1.1M271.07,149.74h1.1M271.26,156.9h1.1M272.68,157.19h1.1M273.98,161.57h1.1M271.85,157.3h1.1M271.42,161.46h1.1M270.79,157.38h1.1M272.41,153.28h1.1M272.58,151.57h1.1M270.34,162.28h1.1M270.38,156.97h1.1M273.57,155.83h1.1M272.22,161.77h1.1M272.59,156.94h1.1M271.2,159.28h1.1M271.34,158.78h1.1M272.41,150.01h1.1M271.15,157.23h1.1M270.28,153.88h1.1M271.85,155.15h1.1M273.1,152.91h1.1M270.65,149.65h1.1M273.37,156.08h1.1M272.78,151.8h1.1M270.9,161.75h1.1M271.86,152.62h1.1M271.79,156.42h1.1M272.54,162.35h1.1M272.75,152.07h1.1M270.46,162.26h1.1M270.42,162.34h1.1M273.18,159.56h1.1M272.01,158.04h1.1M272.44,153.39h1.1M272.33,154.66h1.1M274.03,156.46h1.1M270.2,158.16h1.1M273.41,155.79h1.1M270.85,160.44h1.1M272.89,155.76h1.1M273.76,156.64h1.1M269.99,158.59h1.1M272.29,148.31h1.1M271.48,158.79h1.1M271.48,159.7h1.1M271.91,160.01h1.1M270.35,156.21h1.1M270.57,152h1.1M272.74,152.26h1.1M272.94,159.69h1.1M271.06,153.15h1.1M270.28,162.08h1.1M274.4,148.83h1.1M273.35,158.33h1.1M272.25,148.52h1.1M270.74,148.74h1.1M271.02,155.96h1.1M272.17,159.47h1.1M270.52,153.25h1.1M274.15,155.7h1.1M272.04,157.85h1.1M272.27,162.55h1.1M270.41,153.53h1.1M270.56,156.25h1.1M270.72,154.92h1.1M272.17,148.95h1.1M271.49,158.05h1.1M271.52,161.15h1.1M272.28,152.48h1.1" stroke="#000" stroke-width="1.1" opacity="1.0" fill="none"/>
<path d="M272.12,151.76h0.9M276.83,156.87h0.9M270.53,155.22h0.9M267.47,162.01h0.9M271.23,150.89h0.9M276.75,157.38h0.9M269.2,148.97h0.9M271.45,155.81h0.9M269.93,162.09h0.9M272.79,158.46h0.9M272.23,148.07h0.9M268.24,162.46h0.9M270.42,155.75h0.9M274.79,156.35h0.9M275.37,161.88h0.9M274.72,156.43h0.9M274.5,150.93h0.9M270.03,154.08h0.9M269.91,158.91h0.9M274.75,153.59h0.9M266.89,150.14h0.9M271.06,153.48h0.9M264.33,149.16h0.9M269.86,149.11h0.9M268.64,149.43h0.9M266.77,155.29h0.9M273.44,152.45h0.9M268.53,150.32h0.9M269.9,158.76h0.9M270.31,156.84h0.9M268.53,159.98h0.9M276.59,150.03h0.9M269.43,156.97h0.9M272.01,151.57h0.9M266.4,155.08h0.9M269.51,154.34h0.9M270.07,156.41h0.9M270.13,156.21h0.9M269.09,161.47h0.9M271.81,157.03h0.9M277.09,152.91h0.9M270.78,159.6h0.9M270.76,150.04h0.9M269.82,159.31h0.9M280.74,156.31h0.9M277.3,151.53h0.9M273.36,158.96h0.9M273.91,149.32h0.9M268.63,148.14h0.9M270.71,151.7h0.9M272.06,155.22h0.9M271.72,157.12h0.9M268.08,152.35h0.9M268.37,156.34h0.9M273.2,162.41h0.9" stroke="#444" stroke-width="0.9" opacity="1.0" fill="none"/>
<rect x="263.3" y="126.3" width="24.4" height="21.3" fill="none" stroke="#333" stroke-width="0.9"/>
<path d="M233.5,163.2 h-2.4 M233.5,159.16 h-1.4 M233.5,156.79 h-1.4 M233.5,155.12 h-1.4 M233.5,153.82 h-1.4 M233.5,152.75 h-1.4 M233.5,151.85 h-1.4 M233.5,151.08 h-1.4 M233.5,150.39 h-1.4 M233.5,149.77 h-2.4 M233.5,145.73 h-1.4 M233.5,143.37 h-1.4 M233.5,141.69 h-1.4 M233.5,140.39 h-1.4 M233.5,139.33 h-1.4 M233.5,138.43 h-1.4 M233.5,137.65 h-1.4 M233.5,136.96 h-1.4 M233.5,136.35 h-2.4 M233.5,132.31 h-1.4 M233.5,129.94 h-1.4 M233.5,128.27 h-1.4 M233.5,126.97 h-1.4 M233.5,125.9 h-1.4 M233.5,125 h-1.4 M233.5,124.23 h-1.4 M233.5,123.54 h-1.4 M233.5,122.92 h-2.4 M233.5,118.88 h-1.4 M233.5,116.52 h-1.4 M233.5,114.84 h-1.4 M233.5,113.54 h-1.4 M233.5,112.48 h-1.4 M233.5,111.58 h-1.4 M233.5,110.8 h-1.4 M233.5,110.11 h-1.4 M233.5,109.5 h-2.4" stroke="#222" stroke-width="0.8" fill="none"/>
<line x1="233.3" y1="109.5" x2="233.3" y2="163.2" stroke="#111" stroke-width="1.1"/>
<path d="M233.5,163.2 v2.2 M238.81,163.2 v1.3 M241.91,163.2 v1.3 M244.11,163.2 v1.3 M245.82,163.2 v1.3 M247.21,163.2 v1.3 M248.39,163.2 v1.3 M249.42,163.2 v1.3 M250.32,163.2 v1.3 M251.12,163.2 v2.2 M256.43,163.2 v1.3 M259.53,163.2 v1.3 M261.74,163.2 v1.3 M263.44,163.2 v1.3 M264.84,163.2 v1.3 M266.02,163.2 v1.3 M267.04,163.2 v1.3 M267.94,163.2 v1.3 M268.75,163.2 v2.2 M274.06,163.2 v1.3 M277.16,163.2 v1.3 M279.36,163.2 v1.3 M281.07,163.2 v1.3 M282.46,163.2 v1.3 M283.64,163.2 v1.3 M284.67,163.2 v1.3 M285.57,163.2 v1.3 M286.38,163.2 v2.2 M291.68,163.2 v1.3 M294.78,163.2 v1.3 M296.99,163.2 v1.3 M298.69,163.2 v1.3 M300.09,163.2 v1.3 M301.27,163.2 v1.3 M302.29,163.2 v1.3 M303.19,163.2 v1.3 M304,163.2 v2.2" stroke="#000" stroke-width="0.9" fill="none"/>
<line x1="233" y1="163.5" x2="304.5" y2="163.5" stroke="#000" stroke-width="1.6"/>
<text transform="translate(228.5,162.9) rotate(-90)" x="0" y="0" text-anchor="middle" font-size="7.2" fill="#111" stroke="#111" stroke-width="0.12">10<tspan font-size="6.2" dy="-3.3">0</tspan></text>
<text transform="translate(228.5,149.47) rotate(-90)" x="0" y="0" text-anchor="middle" font-size="7.2" fill="#111" stroke="#111" stroke-width="0.12">10<tspan font-size="6.2" dy="-3.3">1</tspan></text>
<text transform="translate(228.5,136.05) rotate(-90)" x="0" y="0" text-anchor="middle" font-size="7.2" fill="#111" stroke="#111" stroke-width="0.12">10<tspan font-size="6.2" dy="-3.3">2</tspan></text>
<text transform="translate(228.5,122.62) rotate(-90)" x="0" y="0" text-anchor="middle" font-size="7.2" fill="#111" stroke="#111" stroke-width="0.12">10<tspan font-size="6.2" dy="-3.3">3</tspan></text>
<text transform="translate(228.5,109.2) rotate(-90)" x="0" y="0" text-anchor="middle" font-size="7.2" fill="#111" stroke="#111" stroke-width="0.12">10<tspan font-size="6.2" dy="-3.3">4</tspan></text>
<text x="233.7" y="173.9" text-anchor="middle" font-size="7.1" fill="#111" stroke="#111" stroke-width="0.12">10<tspan font-size="5.9" dy="-3">0</tspan></text>
<text x="251.32" y="173.9" text-anchor="middle" font-size="7.1" fill="#111" stroke="#111" stroke-width="0.12">10<tspan font-size="5.9" dy="-3">1</tspan></text>
<text x="268.95" y="173.9" text-anchor="middle" font-size="7.1" fill="#111" stroke="#111" stroke-width="0.12">10<tspan font-size="5.9" dy="-3">2</tspan></text>
<text x="286.57" y="173.9" text-anchor="middle" font-size="7.1" fill="#111" stroke="#111" stroke-width="0.12">10<tspan font-size="5.9" dy="-3">3</tspan></text>
<text x="304.2" y="173.9" text-anchor="middle" font-size="7.1" fill="#111" stroke="#111" stroke-width="0.12">10<tspan font-size="5.9" dy="-3">4</tspan></text>
<text x="295.9" y="123.95" font-size="11.8" text-anchor="end" font-weight="normal" fill="#111" stroke="#111" stroke-width="0.3" >11</text>
<rect x="329.6" y="109.5" width="71.4" height="53.7" fill="none" stroke="#222" stroke-width="1.0"/>
<path d="M379.12,133.43h0.9M380.97,131.85h0.9M369.33,144.56h0.9M368.18,130.36h0.9M368.13,133.85h0.9M378.59,137.3h0.9M382.6,128.43h0.9M373.58,133.17h0.9M364.68,132.47h0.9M362.61,140.79h0.9M369.75,129.74h0.9M366.55,146.82h0.9M363.84,129.42h0.9M383.41,139.38h0.9M362.79,144.21h0.9M382.86,135.52h0.9M364.64,137.72h0.9M373.5,142.75h0.9M361.96,137.89h0.9M361.78,134.77h0.9M380.41,137.4h0.9M360.36,137.49h0.9M362.56,127.3h0.9M362.77,133.66h0.9M376.88,138.56h0.9M365.33,135.65h0.9M369.86,142.02h0.9M365.21,134.49h0.9M361.88,131.95h0.9M375.37,143.05h0.9M362.82,145.54h0.9M366.24,131.51h0.9M361.06,141.22h0.9M377.82,145.6h0.9M367.62,127.22h0.9M363.99,142.56h0.9M383.05,136.43h0.9M366,144.21h0.9M366.04,139.22h0.9M365.89,140.93h0.9M366.03,137.76h0.9M381.84,131.89h0.9M362.21,129.54h0.9M379.74,135.07h0.9M361.12,136.67h0.9M363.82,127.44h0.9M375.58,130.06h0.9M373.35,140.72h0.9M365.94,138.01h0.9M381.91,135.39h0.9M377.48,132.24h0.9M381.83,131.46h0.9M365.7,128.31h0.9M379.83,136.13h0.9M370.56,131.28h0.9M379.15,131.73h0.9M376.75,135.38h0.9M365.56,132.58h0.9M366.21,140.18h0.9M365.06,129.9h0.9M376.18,139.98h0.9M382.39,129.42h0.9M366.51,146.68h0.9M366.12,134.5h0.9M362.29,129.74h0.9M368.72,140.38h0.9M368.21,133.55h0.9M370.97,145.45h0.9M375.62,134.11h0.9M381.93,133.55h0.9M379.35,132.54h0.9M373.67,137.9h0.9M368.72,146.15h0.9M364.27,137.91h0.9M374.07,141.93h0.9M361.79,137.51h0.9M361.55,128.76h0.9M375.26,138.83h0.9M364.13,138.99h0.9M375.91,133.07h0.9M372.52,132.44h0.9M363.37,127.72h0.9M372.13,132.84h0.9M382.79,137.35h0.9M362.13,145.33h0.9M374.32,141.12h0.9M363.67,141.43h0.9M372.78,141.21h0.9M371.2,144.15h0.9M370.93,142.73h0.9M373.45,143.68h0.9M361.05,128.02h0.9M361.49,138.87h0.9M383.11,138.96h0.9M381.16,133.16h0.9M374.64,144.64h0.9M374.37,146.31h0.9M363.6,138.81h0.9M378.35,139.1h0.9M367.38,127.84h0.9M366.51,134.79h0.9M366.88,135.7h0.9M378.25,138.99h0.9M361.76,140.57h0.9M378.27,144.94h0.9M381.85,143.94h0.9M376.7,146.7h0.9M366.45,141.11h0.9M381.8,128.77h0.9M367.82,133.21h0.9M378.34,142.1h0.9M364.98,128.31h0.9M365.3,144.62h0.9M360.6,127.86h0.9M378.24,136.9h0.9M362.3,131.47h0.9M366.72,127.88h0.9M367.42,132.34h0.9M366.96,128.7h0.9M361.84,143.59h0.9M361.47,132.01h0.9M373.62,145.86h0.9M363.53,139.27h0.9M360.9,128.31h0.9M367.66,144.21h0.9M364.58,129.28h0.9M381.25,142.63h0.9M362.9,136.21h0.9M361.6,128.71h0.9M362.24,135.51h0.9M377.71,142.36h0.9M375.04,141.24h0.9M371.7,129.82h0.9M371.09,137.29h0.9M362.83,141.34h0.9M378.81,130.88h0.9M378.42,130.56h0.9M376.16,132.79h0.9M365.79,146.53h0.9M365.3,143.47h0.9M378.6,130.85h0.9M362.16,144.29h0.9M369.49,142.7h0.9M373.36,134.78h0.9M382.27,134.74h0.9M364.98,134.99h0.9M370.77,132.53h0.9M365.79,132.9h0.9M361.43,140.09h0.9M364.58,142.11h0.9M373.87,139.84h0.9M370.32,144.98h0.9M369.75,138.22h0.9M380.99,133.37h0.9M362.4,127.9h0.9M373.38,141.64h0.9M363.83,130.37h0.9M364.91,139.21h0.9M366.55,143.23h0.9M372.4,135h0.9M373.14,127.4h0.9M361.97,128.69h0.9M379.13,146.33h0.9M365.19,142.77h0.9M365.14,127.71h0.9M366.61,128.92h0.9M376.8,135.14h0.9M361.53,142.29h0.9M360.43,129.74h0.9M361.45,143.21h0.9M368.09,144.53h0.9M370.93,136.22h0.9M360.42,134.28h0.9M366.95,127.46h0.9M378.33,134.61h0.9M361.66,129.37h0.9M383.35,133.36h0.9M367.78,138.8h0.9M367.51,130.46h0.9M376.12,145.45h0.9M371.67,137.12h0.9M366.74,141.09h0.9M367.58,141.38h0.9M379.51,134.85h0.9M377.75,128.4h0.9M377.85,136.48h0.9M365.66,136.34h0.9M364.37,138.29h0.9M363.61,144.75h0.9M364.32,139.73h0.9M363.27,137.31h0.9M374.1,134.26h0.9M361.59,128.94h0.9M362.4,133.23h0.9M373.69,142.73h0.9M361.21,129.65h0.9M381.41,143.1h0.9M381.57,136.74h0.9M364.4,138.6h0.9M364.42,127.19h0.9M368.98,130.73h0.9M383.02,129.93h0.9M366.74,127.99h0.9M370.52,130.98h0.9M364.92,135.59h0.9M370.25,136.63h0.9M381.35,145.06h0.9M360.63,146.79h0.9M364.49,127.53h0.9M370.08,134.17h0.9M376.25,129.59h0.9M377.79,143.75h0.9M364.83,132.68h0.9M373.41,129.41h0.9M361.63,127.59h0.9M360.73,137.74h0.9M383.12,137.57h0.9M378.8,136.6h0.9M365.78,145.68h0.9M362.47,144.27h0.9M369.31,143.58h0.9M369.69,133.7h0.9M366.75,143.21h0.9M382.16,146.16h0.9M374.4,143.87h0.9M362.39,144.68h0.9M361.98,142.72h0.9M363.74,128.65h0.9M374.93,129.52h0.9M381.29,128.41h0.9M377.52,138.11h0.9M376.54,127.85h0.9M378.14,129.96h0.9M363.09,127.72h0.9M362.48,133.57h0.9M367.7,127.21h0.9M383.02,140.34h0.9M375.47,131.21h0.9M366.47,136.51h0.9M378.84,136.5h0.9M368.97,147.03h0.9M361.81,133.37h0.9M362.79,144.82h0.9M363.24,141.36h0.9M375.01,127.28h0.9M378.07,144.25h0.9M366.52,145.35h0.9" stroke="#555" stroke-width="0.9" opacity="1.0" fill="none"/>
<path d="M373.7,138.25h1M375.32,145.26h1M372.54,137.59h1M371.95,145.39h1M370.42,134.58h1M380,137.71h1M373.15,135.5h1M370.44,147.11h1M376.74,134.24h1M370.45,136.81h1M370.57,144.38h1M368.49,142.56h1M369.48,150.82h1M368.48,149.34h1M372.3,144.2h1M370.17,144.5h1M370.63,133.92h1M370.85,137.89h1M370.97,140.22h1M369.64,140.85h1M375.05,135.81h1M373.88,137.68h1M372.19,138.04h1M366.59,146.07h1M372.36,143.39h1M367.38,140.2h1M371.87,140.44h1M371.01,142.82h1M369.8,138.66h1M368.72,140.49h1M370.25,134.35h1M376.93,144.42h1M369.53,145.64h1M370.17,143.12h1M373.69,143.61h1M372.1,143.14h1M372.79,150.19h1M367.14,142.46h1M368.73,136.03h1M382.18,137.18h1M370.41,144.59h1M369.37,146.09h1M370.99,144.84h1M373.51,145.13h1M367.27,142.38h1M373.1,135.33h1M371.54,138.61h1M374.55,133.97h1M371.92,139.96h1M370.49,135.85h1M368.34,142h1M363.7,140.87h1M375.6,133.38h1M365.99,144.68h1M369.26,144.79h1M377.28,135.72h1M369.69,142.19h1M372.42,144.61h1M370.66,140.36h1M372.59,145.19h1M371.03,142.37h1M368.7,146.11h1M375.11,142.36h1M370.4,140.88h1M366.57,143.73h1M369.48,144.88h1M372.56,142.62h1M368.01,139.67h1M374.12,138.23h1M373.73,139.98h1M378.06,139.14h1M368.96,142.42h1M373,142.27h1M366.02,141.19h1M369.81,141.54h1M371.28,142.28h1M371.14,148.18h1M370,146.64h1M371.26,139.1h1M368.88,143.33h1M369.98,140.15h1M372.11,141.13h1M373,140.51h1M373.54,138.89h1M375.2,135.77h1M376.64,131.1h1M365.4,142.38h1M368.58,146.55h1M371.3,137.69h1M368.73,143.68h1M374.61,139.89h1M373.18,142.71h1M371.39,138.11h1M371.65,140.54h1M375.06,141.06h1M371.86,131.44h1M369.96,142.44h1M373.99,140.94h1M374.45,130.99h1M374.95,144.27h1M372.26,141.37h1M373.24,142.38h1M369.15,143.05h1M368.54,139.74h1M371.9,136.94h1M363.3,139.62h1M372.68,139.69h1M372.36,150.94h1M369.91,149.34h1M370.8,139.43h1M374.75,139.74h1M370.72,142.87h1M373.67,143.9h1M378.36,138.55h1M374.09,137.24h1M372.48,149.72h1M371.8,145.99h1M373.08,134.88h1M373.32,133.97h1M371.95,137.97h1M374.25,142.42h1M365.74,143.82h1M370.55,140.03h1M374.37,134.6h1M368.35,142.42h1M370.32,144.05h1M368.98,141.47h1M372.84,139.36h1M373.31,143.93h1M375.6,141.23h1M373.51,136.69h1M368.84,141.88h1M372.88,135.94h1M372.1,145.59h1M375.06,143.47h1M365.32,137.21h1M372.08,142.38h1M364.55,146.82h1M374.96,132.3h1M372.58,140.87h1M371.35,148.51h1M375.02,134.83h1M372.42,140.75h1M370.24,135.37h1M372.24,141.18h1M376.65,131.18h1M372.02,134.51h1M371.61,139.16h1M367.29,142.06h1M374.36,143.09h1M369.23,143.29h1M367.94,146.4h1M369.2,144.46h1M367.9,144.64h1M371.11,137.26h1M375.13,140.8h1M373.69,151.22h1M375,145.03h1M367.79,144.65h1M371.8,145.72h1M376.01,139.73h1M376.59,149.9h1M367.08,139.85h1M366.82,141.11h1M370.83,150.85h1M371.71,132.5h1M367.79,143.03h1M373.62,134.04h1M369.21,138.65h1M364.25,141.07h1M371.31,139.95h1M371.35,142.22h1M373.65,138.15h1M374.06,141.02h1M372.59,136.34h1M370.68,139.79h1M370.16,135.47h1M365.55,144.31h1M370.78,135.87h1M373.6,144.47h1M373.41,139.68h1M377.6,140.15h1M369.7,146.58h1M365.56,141.94h1M375.12,133.25h1M373.87,143.63h1M369.81,128.88h1M365.95,142.63h1M371.88,139.73h1M374.37,135.39h1M367.61,141.81h1M370.3,140.13h1M367.13,150.18h1M367.83,139.56h1M365.53,149.91h1M370.42,147.48h1M370.43,138.81h1M369.68,137.92h1M362.07,147.22h1M376.53,140.88h1M368.07,142.16h1M370.87,140.36h1M368.56,136.2h1M372.53,139.84h1M367.23,137.29h1M372.58,134.79h1M370.73,140.19h1M372.47,149.25h1M366.44,148.52h1M369.14,141.2h1M370.25,142.06h1M377.06,143.71h1M365.49,147.41h1M371.71,142.86h1M369.45,139.38h1M372.33,139.76h1M372.16,146.42h1M372.36,138.73h1M373.55,132.5h1M368.62,145.01h1M370.46,141.13h1M365.89,142.08h1M368.99,146.88h1M368.66,141.77h1M371.33,135.67h1M374.87,132.88h1M372.26,141.26h1M373.41,136.4h1M374.19,142.74h1M364.79,135.89h1M372.65,139.93h1M372.15,135.03h1M371.04,139.88h1M367.41,139.52h1M372.25,144.08h1M373.48,147.36h1M374.33,140.67h1M371.47,137.69h1M371.44,150.05h1M373.57,143.07h1M376.12,144.16h1M374.3,144.15h1M370.32,147.86h1M370.53,145.91h1M371.01,144.45h1M371.12,144.84h1M370.21,137.71h1M373.88,138.81h1M369.01,141.01h1M368.52,141.89h1M372.11,141.57h1M369.04,142.84h1M370.27,141.6h1M365.04,139.61h1M374.76,134.36h1M370.35,145.16h1M370.18,144.07h1M373.15,137.63h1M371.28,143.67h1M368.58,143.22h1M377.1,141.81h1M371.12,133.41h1M374.97,136.19h1M377.1,138.85h1M367.85,148.57h1M372,137.72h1M368.81,139.96h1M375.12,136.61h1M370.4,139.33h1M367.4,142.99h1M376.71,132.38h1M376.1,129.03h1M367.79,144.39h1M374.61,141.64h1M372.11,138.83h1M378.55,145.74h1M375.49,145.75h1M371.01,132.28h1M370.34,140.75h1M367.46,146.35h1M371.97,138.55h1M371.42,140.11h1M372.51,145.68h1M371.5,140.31h1M367.49,136.23h1M369.1,138.47h1M376.4,135.66h1M374.11,143.92h1M371.91,133.91h1M369.81,145.89h1M371.82,134.25h1M371.06,141.68h1M367.07,135.04h1M374.01,140.1h1M368.2,145.98h1M370.57,146.42h1M362.26,147.22h1M371.81,141.09h1M375.02,141.96h1M364.01,142.51h1M375.17,144.19h1M372.78,139.73h1M367.9,146.32h1M365.92,142.92h1M373.66,146.51h1M371.44,143.58h1M372.29,144.47h1M370.78,138.27h1" stroke="#111" stroke-width="1" opacity="1.0" fill="none"/>
<path d="M367.89,148.22h0.9M365.71,148.54h0.9M368.19,147.98h0.9M368.49,150.21h0.9M371.02,148.2h0.9M365.79,150.97h0.9M377.02,149.24h0.9M368.63,155.84h0.9M372.08,147.74h0.9M371.53,148.44h0.9M362.63,150.82h0.9M368.28,148.63h0.9M372.62,152.99h0.9M362.87,148.15h0.9M370.86,147.82h0.9M366.64,148.92h0.9M367.77,151.42h0.9M369.49,149.11h0.9M364.27,149.37h0.9M369.42,148.25h0.9M367.32,155.46h0.9M367.06,151.96h0.9" stroke="#555" stroke-width="0.9" opacity="1.0" fill="none"/>
<rect x="359.5" y="126.3" width="25.3" height="21.3" fill="none" stroke="#333" stroke-width="0.9"/>
<path d="M329.6,163.2 h-2.4 M329.6,159.16 h-1.4 M329.6,156.79 h-1.4 M329.6,155.12 h-1.4 M329.6,153.82 h-1.4 M329.6,152.75 h-1.4 M329.6,151.85 h-1.4 M329.6,151.08 h-1.4 M329.6,150.39 h-1.4 M329.6,149.77 h-2.4 M329.6,145.73 h-1.4 M329.6,143.37 h-1.4 M329.6,141.69 h-1.4 M329.6,140.39 h-1.4 M329.6,139.33 h-1.4 M329.6,138.43 h-1.4 M329.6,137.65 h-1.4 M329.6,136.96 h-1.4 M329.6,136.35 h-2.4 M329.6,132.31 h-1.4 M329.6,129.94 h-1.4 M329.6,128.27 h-1.4 M329.6,126.97 h-1.4 M329.6,125.9 h-1.4 M329.6,125 h-1.4 M329.6,124.23 h-1.4 M329.6,123.54 h-1.4 M329.6,122.92 h-2.4 M329.6,118.88 h-1.4 M329.6,116.52 h-1.4 M329.6,114.84 h-1.4 M329.6,113.54 h-1.4 M329.6,112.48 h-1.4 M329.6,111.58 h-1.4 M329.6,110.8 h-1.4 M329.6,110.11 h-1.4 M329.6,109.5 h-2.4" stroke="#222" stroke-width="0.8" fill="none"/>
<line x1="329.4" y1="109.5" x2="329.4" y2="163.2" stroke="#111" stroke-width="1.1"/>
<path d="M329.6,163.2 v2.2 M334.97,163.2 v1.3 M338.12,163.2 v1.3 M340.35,163.2 v1.3 M342.08,163.2 v1.3 M343.49,163.2 v1.3 M344.69,163.2 v1.3 M345.72,163.2 v1.3 M346.63,163.2 v1.3 M347.45,163.2 v2.2 M352.82,163.2 v1.3 M355.97,163.2 v1.3 M358.2,163.2 v1.3 M359.93,163.2 v1.3 M361.34,163.2 v1.3 M362.54,163.2 v1.3 M363.57,163.2 v1.3 M364.48,163.2 v1.3 M365.3,163.2 v2.2 M370.67,163.2 v1.3 M373.82,163.2 v1.3 M376.05,163.2 v1.3 M377.78,163.2 v1.3 M379.19,163.2 v1.3 M380.39,163.2 v1.3 M381.42,163.2 v1.3 M382.33,163.2 v1.3 M383.15,163.2 v2.2 M388.52,163.2 v1.3 M391.67,163.2 v1.3 M393.9,163.2 v1.3 M395.63,163.2 v1.3 M397.04,163.2 v1.3 M398.24,163.2 v1.3 M399.27,163.2 v1.3 M400.18,163.2 v1.3 M401,163.2 v2.2" stroke="#000" stroke-width="0.9" fill="none"/>
<line x1="329.1" y1="163.5" x2="401.5" y2="163.5" stroke="#000" stroke-width="1.6"/>
<text transform="translate(324.6,162.9) rotate(-90)" x="0" y="0" text-anchor="middle" font-size="7.2" fill="#111" stroke="#111" stroke-width="0.12">10<tspan font-size="6.2" dy="-3.3">0</tspan></text>
<text transform="translate(324.6,149.47) rotate(-90)" x="0" y="0" text-anchor="middle" font-size="7.2" fill="#111" stroke="#111" stroke-width="0.12">10<tspan font-size="6.2" dy="-3.3">1</tspan></text>
<text transform="translate(324.6,136.05) rotate(-90)" x="0" y="0" text-anchor="middle" font-size="7.2" fill="#111" stroke="#111" stroke-width="0.12">10<tspan font-size="6.2" dy="-3.3">2</tspan></text>
<text transform="translate(324.6,122.62) rotate(-90)" x="0" y="0" text-anchor="middle" font-size="7.2" fill="#111" stroke="#111" stroke-width="0.12">10<tspan font-size="6.2" dy="-3.3">3</tspan></text>
<text transform="translate(324.6,109.2) rotate(-90)" x="0" y="0" text-anchor="middle" font-size="7.2" fill="#111" stroke="#111" stroke-width="0.12">10<tspan font-size="6.2" dy="-3.3">4</tspan></text>
<text x="330.9" y="173.9" text-anchor="middle" font-size="7.1" fill="#111" stroke="#111" stroke-width="0.12">10<tspan font-size="5.9" dy="-3">0</tspan></text>
<text x="348.75" y="173.9" text-anchor="middle" font-size="7.1" fill="#111" stroke="#111" stroke-width="0.12">10<tspan font-size="5.9" dy="-3">1</tspan></text>
<text x="366.6" y="173.9" text-anchor="middle" font-size="7.1" fill="#111" stroke="#111" stroke-width="0.12">10<tspan font-size="5.9" dy="-3">2</tspan></text>
<text x="384.45" y="173.9" text-anchor="middle" font-size="7.1" fill="#111" stroke="#111" stroke-width="0.12">10<tspan font-size="5.9" dy="-3">3</tspan></text>
<text x="402.3" y="173.9" text-anchor="middle" font-size="7.1" fill="#111" stroke="#111" stroke-width="0.12">10<tspan font-size="5.9" dy="-3">4</tspan></text>
<text x="396.7" y="124.35" font-size="11.8" text-anchor="end" font-weight="normal" fill="#111" stroke="#111" stroke-width="0.3" >92</text>
<rect x="233.5" y="183.6" width="70.5" height="54" fill="none" stroke="#222" stroke-width="1.0"/>
<path d="M265.37,208.76h0.9M265.07,217.09h0.9M266.42,215.77h0.9M266,211.61h0.9M268.75,211h0.9M279.91,211.88h0.9M274.83,203.5h0.9M270.16,205.91h0.9M265.34,217.1h0.9M270.95,218h0.9M267.16,209.27h0.9M272.16,205.55h0.9M264.72,207.02h0.9M279.58,211.6h0.9M275.48,219.81h0.9M270.84,210.67h0.9M269.52,217.74h0.9M271.63,205.39h0.9M271.68,209.32h0.9M282.39,213h0.9M280.48,213.54h0.9M270.88,219.83h0.9M267.45,221.03h0.9M266.94,206.29h0.9M274.74,211.24h0.9M264.81,212.94h0.9M275.92,218.01h0.9M277.25,216.32h0.9M268.11,204.45h0.9M266.68,204.26h0.9M272.23,220.04h0.9M269.56,212.63h0.9M272.81,207.44h0.9M267.22,210.76h0.9M270.87,213.92h0.9M267.33,216.74h0.9M269.48,209.41h0.9M266.96,206.37h0.9M269.63,212.56h0.9M273.99,202.63h0.9M275.65,219.16h0.9M272.67,207.42h0.9M270.11,219.4h0.9M278.65,204.17h0.9M272.4,215.62h0.9" stroke="#333" stroke-width="0.9" opacity="1.0" fill="none"/>
<path d="M272.41,230.43h1.1M270.51,224.55h1.1M272.21,230.74h1.1M272.37,234.91h1.1M271.35,230.32h1.1M272.28,229.87h1.1M271.49,233.38h1.1M271.29,236.35h1.1M274.1,228.54h1.1M272.73,232h1.1M271.58,236.3h1.1M270.83,230.42h1.1M272.16,232.86h1.1M272.65,234.04h1.1M272.95,224.53h1.1M273.46,236.93h1.1M272.53,226.22h1.1M270.32,229.87h1.1M274.62,233.21h1.1M273.38,225.16h1.1M273.03,226.3h1.1M273.78,231.98h1.1M270.15,235.22h1.1M271.43,233.36h1.1M271.28,234.47h1.1M273.59,231.48h1.1M270.31,226.94h1.1M271.48,226.89h1.1M273.88,225.66h1.1M272.59,236.92h1.1M271.45,234.75h1.1M274.41,233.24h1.1M270.03,230.66h1.1M272.47,234.86h1.1M271.64,224.71h1.1M272.61,226.89h1.1M271.55,226.74h1.1M270.88,234.54h1.1M272.22,228.43h1.1M270.12,232.41h1.1M272.67,230.74h1.1M271.49,226.55h1.1M273.22,231.18h1.1M271.46,222.12h1.1M270.97,228.62h1.1M272.45,232.93h1.1M273.48,234.2h1.1M268.99,231.19h1.1M272.09,228.16h1.1M272.74,233.32h1.1M270.03,226.34h1.1M270.82,225.05h1.1M272.72,234.3h1.1M270.85,233.82h1.1M273.69,222.49h1.1M270.59,228.25h1.1M270.74,232.46h1.1M269.17,235.27h1.1M270.5,233.82h1.1M270.62,236.85h1.1M274.15,233.62h1.1M273.23,236.45h1.1M270.28,225.69h1.1M274.07,236.32h1.1M273.01,230.86h1.1M271.72,237.01h1.1M273.01,226.86h1.1M272.46,230.83h1.1M270.85,231.84h1.1M269.44,228.09h1.1M270.72,233.56h1.1M271.9,235.85h1.1M271.42,227.33h1.1M271,234.58h1.1M273.04,235.66h1.1M270.39,229.13h1.1M273.13,232.48h1.1M271.24,231.52h1.1M272.06,226.33h1.1M271.9,236.43h1.1M270.8,229.03h1.1M269.8,234.97h1.1M271.88,227.28h1.1M271.85,235.57h1.1M272.24,223.89h1.1M270.49,231.6h1.1M271.22,236.06h1.1M268.63,233.35h1.1M270.34,231.49h1.1M273.55,225.26h1.1M274.07,230.41h1.1M273,229.86h1.1M272.22,237.03h1.1M272.75,230.37h1.1M272.6,229.02h1.1M269.44,230.33h1.1M270.7,231.9h1.1M273.17,236.73h1.1M273.49,232.96h1.1M272.21,234.31h1.1M271.49,226.86h1.1M271.47,223.74h1.1M271.13,229.99h1.1M270.61,231.69h1.1M269.4,233.66h1.1M272.11,226.45h1.1M271.26,229.66h1.1M271.65,234.98h1.1M274.31,227.98h1.1M272.54,236.68h1.1M271.11,223.6h1.1M272.73,230.95h1.1M270.24,236.2h1.1M272.94,221.85h1.1M272.18,222.44h1.1M271.63,230.65h1.1M272.51,236.87h1.1M273.44,222.64h1.1M271.28,232.89h1.1M270.69,234.75h1.1M274.92,228.89h1.1M271.92,223.55h1.1M274.04,230.61h1.1M271.1,235.22h1.1M272.41,233.19h1.1M271.01,231.78h1.1M272.82,230h1.1M271.51,229.13h1.1M270.96,231.25h1.1M274.12,230.77h1.1M272.39,230.07h1.1M269.17,232.92h1.1M271.57,229.3h1.1M270.94,236.91h1.1M270.29,233.28h1.1M271.07,230.73h1.1M271.28,233.57h1.1M271.95,226.72h1.1M270.82,226.83h1.1M269.23,230.21h1.1M271.32,236.57h1.1M272.88,236.2h1.1M270.11,233.55h1.1M272.73,233.29h1.1M272.44,235.47h1.1M271.32,233.78h1.1M272.3,225.39h1.1M270.83,229.78h1.1M271.34,231.44h1.1M270.46,231.53h1.1M272.57,230.58h1.1M273.82,231.92h1.1M271.02,233.69h1.1M273.62,229.03h1.1M269.44,235.74h1.1M270.92,236.31h1.1M270.48,231.66h1.1M274.17,225.94h1.1M271.14,225.42h1.1M272.93,233.51h1.1M269.41,234.98h1.1M272.03,236.55h1.1M272.7,231.38h1.1M271.86,224.91h1.1M268.86,236.22h1.1M272.14,233.11h1.1M272.99,226.35h1.1M273.72,227.03h1.1M272.47,228.87h1.1M269.61,232.89h1.1M271.64,234.83h1.1M272.88,236.65h1.1M270.92,235.18h1.1M272.71,230.6h1.1M271.35,235.93h1.1M272.02,233.65h1.1M272.99,228.93h1.1M271.01,224.96h1.1M275.01,236.59h1.1M272.1,226.02h1.1M272.32,234.88h1.1M270.83,229.79h1.1M271.97,236.19h1.1M271.59,223.88h1.1M270.14,235.19h1.1M269.83,233.02h1.1M272.32,229.36h1.1M271.8,235.58h1.1M268.84,223.78h1.1M268.88,231.86h1.1M271.48,233.02h1.1M271.8,227.61h1.1M272.76,227.68h1.1M270.41,224.25h1.1M272.72,232.41h1.1M271.48,226.59h1.1M271.25,234.26h1.1M271.7,230.93h1.1M273.02,223.46h1.1M272.69,227.64h1.1M273.19,230.23h1.1M271.16,236.68h1.1M271.53,225.83h1.1M270.34,233.26h1.1M271.12,231.9h1.1M271.47,236.62h1.1M271.41,237.02h1.1M272.78,234.94h1.1M272.38,236.11h1.1M272.87,225.25h1.1M272.06,225.03h1.1M273.45,230.18h1.1M272.06,231.19h1.1M273.26,227.65h1.1M272.63,230.17h1.1M272.77,224.02h1.1M271.82,235.25h1.1M270.1,229.87h1.1M270.35,236.82h1.1M274.45,233.87h1.1M272.43,232.71h1.1M272.4,236.26h1.1M271.67,227h1.1M271.26,227.43h1.1M275.71,225.96h1.1M270.41,233.46h1.1M271.81,232.75h1.1M271.84,235.94h1.1M270.29,228.08h1.1M270.26,234.16h1.1M270.88,229.29h1.1M271.5,223.8h1.1M271.23,226.74h1.1M272.94,234.28h1.1M270.66,237.05h1.1M272.46,227.14h1.1M273.86,233.41h1.1M273.06,233.96h1.1M270.33,226.96h1.1M267.95,233.37h1.1M273.06,226.79h1.1M272.4,221.65h1.1M271.25,236.28h1.1M273.73,231.31h1.1M271.43,235.65h1.1M272.04,234.52h1.1M270.48,232.81h1.1M272.34,232.76h1.1M271.38,235.05h1.1M271.19,227.41h1.1M273.07,236.68h1.1M272.14,236.48h1.1M270,225.09h1.1M272.89,228.4h1.1M273.06,232.31h1.1M270.76,226.81h1.1M271.4,234.47h1.1M271.98,229.72h1.1M271.54,229.81h1.1M272.06,233.68h1.1M272.56,222h1.1M271.19,229.02h1.1M274.78,226.96h1.1M270.92,232.65h1.1M271.27,223.86h1.1M274.75,229.33h1.1M275.13,233.09h1.1M271.95,234.48h1.1M271.66,234.08h1.1M270.37,231.35h1.1M273.54,231.05h1.1M272.15,230.44h1.1M270.72,232.35h1.1M272.48,228.37h1.1M273.79,226.94h1.1M272.71,235.59h1.1M273.46,233.27h1.1M272.47,233.96h1.1M271.86,226.71h1.1M272.69,228.66h1.1M273.54,233.14h1.1M273.1,232.18h1.1M273.4,228.06h1.1M272.2,233.27h1.1M272.97,232.35h1.1M273.63,231.36h1.1M271.69,234.05h1.1M270.42,235.97h1.1M274.18,233.62h1.1M272.73,231.57h1.1M271.28,227.82h1.1M272.17,223.43h1.1M271.55,232.21h1.1M269.45,230.89h1.1M271.71,222.31h1.1M269.85,230.73h1.1M272.12,236.43h1.1M271.74,230.5h1.1M273.54,229.52h1.1M271.76,223.88h1.1M272.4,233.29h1.1M271.6,221.72h1.1M271.38,226.86h1.1M269.94,231.98h1.1M273.33,228.91h1.1M272.14,228.29h1.1M271.06,228.63h1.1M272.17,234.05h1.1M271.39,234.83h1.1M270.85,229.01h1.1M272.16,237.06h1.1M273.2,236.85h1.1M271.53,232.58h1.1M269.96,232.99h1.1M271.14,224.73h1.1M274.43,227.6h1.1M270.72,229.56h1.1M273.27,235.9h1.1M271.57,226.92h1.1M272.96,228.45h1.1M271.75,229.45h1.1M269.72,226.98h1.1M271.45,236.64h1.1M274.24,236.38h1.1M271.72,226.83h1.1M272.69,227.55h1.1M271.49,235.13h1.1M271.71,230.51h1.1M272.36,230.78h1.1M272.4,237.01h1.1M275.11,229.32h1.1M271.88,225.1h1.1M271.66,233.02h1.1M271.03,233.7h1.1M270.09,232.61h1.1M269.92,234.93h1.1M272.79,226.12h1.1M269.73,223.79h1.1M273.66,234.67h1.1M273,234.34h1.1M271.54,224.49h1.1M270.24,230.77h1.1M271.94,234.75h1.1M271.93,233.57h1.1M273.16,223.16h1.1M271.07,223.34h1.1M271.36,231.38h1.1M271.84,224.34h1.1M271.55,234.31h1.1M271.15,235.13h1.1M269.47,227.83h1.1M269.59,231.84h1.1M270.98,226.59h1.1M271.58,228.83h1.1M273.33,231.21h1.1M274.34,236.99h1.1" stroke="#000" stroke-width="1.1" opacity="1.0" fill="none"/>
<path d="M277.93,228.04h0.9M272.91,235.99h0.9M278.55,233.39h0.9M270.97,224.01h0.9M269.41,225.38h0.9M280.2,223.56h0.9M267.36,232.72h0.9M269.84,224.81h0.9M270.41,228.77h0.9M276.96,223.31h0.9M269.16,235.23h0.9M274.38,233.24h0.9M269.87,232h0.9M266.77,232.52h0.9M272.31,227.41h0.9M272.05,224.78h0.9M267.02,222.17h0.9M268.13,228.13h0.9M268.4,235.7h0.9M275.08,222.32h0.9M273.17,224.85h0.9M272.32,229.9h0.9M273.28,223.02h0.9M269.61,226.41h0.9M273.23,233.32h0.9M269.12,225.16h0.9M266.36,226.53h0.9M268.75,226.19h0.9M272.22,225.02h0.9M271.76,234.16h0.9M275.44,236.33h0.9M265.01,230.87h0.9M270.59,225.77h0.9M272.92,225.6h0.9M267.77,232.38h0.9M272.37,232.83h0.9M269.87,234.31h0.9M267.13,223.97h0.9M275.68,224.92h0.9M266.15,227.08h0.9M275.22,228.41h0.9M269.85,234.27h0.9M267.85,223.23h0.9M268.07,226.44h0.9M268.62,223.65h0.9M268.21,234.13h0.9M272.45,232.7h0.9M264.33,234.18h0.9M276.14,226.73h0.9M274.6,229.88h0.9M276.7,235.38h0.9M267.7,222.21h0.9M262.62,234.06h0.9M269.06,233.57h0.9M270.79,228.51h0.9" stroke="#444" stroke-width="0.9" opacity="1.0" fill="none"/>
<rect x="263.3" y="200.6" width="24.4" height="21.3" fill="none" stroke="#333" stroke-width="0.9"/>
<path d="M233.5,237.6 h-2.4 M233.5,233.54 h-1.4 M233.5,231.16 h-1.4 M233.5,229.47 h-1.4 M233.5,228.16 h-1.4 M233.5,227.09 h-1.4 M233.5,226.19 h-1.4 M233.5,225.41 h-1.4 M233.5,224.72 h-1.4 M233.5,224.1 h-2.4 M233.5,220.04 h-1.4 M233.5,217.66 h-1.4 M233.5,215.97 h-1.4 M233.5,214.66 h-1.4 M233.5,213.59 h-1.4 M233.5,212.69 h-1.4 M233.5,211.91 h-1.4 M233.5,211.22 h-1.4 M233.5,210.6 h-2.4 M233.5,206.54 h-1.4 M233.5,204.16 h-1.4 M233.5,202.47 h-1.4 M233.5,201.16 h-1.4 M233.5,200.09 h-1.4 M233.5,199.19 h-1.4 M233.5,198.41 h-1.4 M233.5,197.72 h-1.4 M233.5,197.1 h-2.4 M233.5,193.04 h-1.4 M233.5,190.66 h-1.4 M233.5,188.97 h-1.4 M233.5,187.66 h-1.4 M233.5,186.59 h-1.4 M233.5,185.69 h-1.4 M233.5,184.91 h-1.4 M233.5,184.22 h-1.4 M233.5,183.6 h-2.4" stroke="#222" stroke-width="0.8" fill="none"/>
<line x1="233.3" y1="183.6" x2="233.3" y2="237.6" stroke="#111" stroke-width="1.1"/>
<path d="M233.5,237.6 v2.2 M238.81,237.6 v1.3 M241.91,237.6 v1.3 M244.11,237.6 v1.3 M245.82,237.6 v1.3 M247.21,237.6 v1.3 M248.39,237.6 v1.3 M249.42,237.6 v1.3 M250.32,237.6 v1.3 M251.12,237.6 v2.2 M256.43,237.6 v1.3 M259.53,237.6 v1.3 M261.74,237.6 v1.3 M263.44,237.6 v1.3 M264.84,237.6 v1.3 M266.02,237.6 v1.3 M267.04,237.6 v1.3 M267.94,237.6 v1.3 M268.75,237.6 v2.2 M274.06,237.6 v1.3 M277.16,237.6 v1.3 M279.36,237.6 v1.3 M281.07,237.6 v1.3 M282.46,237.6 v1.3 M283.64,237.6 v1.3 M284.67,237.6 v1.3 M285.57,237.6 v1.3 M286.38,237.6 v2.2 M291.68,237.6 v1.3 M294.78,237.6 v1.3 M296.99,237.6 v1.3 M298.69,237.6 v1.3 M300.09,237.6 v1.3 M301.27,237.6 v1.3 M302.29,237.6 v1.3 M303.19,237.6 v1.3 M304,237.6 v2.2" stroke="#000" stroke-width="0.9" fill="none"/>
<line x1="233" y1="237.9" x2="304.5" y2="237.9" stroke="#000" stroke-width="1.6"/>
<text transform="translate(228.5,237.3) rotate(-90)" x="0" y="0" text-anchor="middle" font-size="7.2" fill="#111" stroke="#111" stroke-width="0.12">10<tspan font-size="6.2" dy="-3.3">0</tspan></text>
<text transform="translate(228.5,223.8) rotate(-90)" x="0" y="0" text-anchor="middle" font-size="7.2" fill="#111" stroke="#111" stroke-width="0.12">10<tspan font-size="6.2" dy="-3.3">1</tspan></text>
<text transform="translate(228.5,210.3) rotate(-90)" x="0" y="0" text-anchor="middle" font-size="7.2" fill="#111" stroke="#111" stroke-width="0.12">10<tspan font-size="6.2" dy="-3.3">2</tspan></text>
<text transform="translate(228.5,196.8) rotate(-90)" x="0" y="0" text-anchor="middle" font-size="7.2" fill="#111" stroke="#111" stroke-width="0.12">10<tspan font-size="6.2" dy="-3.3">3</tspan></text>
<text transform="translate(228.5,183.3) rotate(-90)" x="0" y="0" text-anchor="middle" font-size="7.2" fill="#111" stroke="#111" stroke-width="0.12">10<tspan font-size="6.2" dy="-3.3">4</tspan></text>
<text x="233.7" y="248.3" text-anchor="middle" font-size="7.1" fill="#111" stroke="#111" stroke-width="0.12">10<tspan font-size="5.9" dy="-3">0</tspan></text>
<text x="251.32" y="248.3" text-anchor="middle" font-size="7.1" fill="#111" stroke="#111" stroke-width="0.12">10<tspan font-size="5.9" dy="-3">1</tspan></text>
<text x="268.95" y="248.3" text-anchor="middle" font-size="7.1" fill="#111" stroke="#111" stroke-width="0.12">10<tspan font-size="5.9" dy="-3">2</tspan></text>
<text x="286.57" y="248.3" text-anchor="middle" font-size="7.1" fill="#111" stroke="#111" stroke-width="0.12">10<tspan font-size="5.9" dy="-3">3</tspan></text>
<text x="304.2" y="248.3" text-anchor="middle" font-size="7.1" fill="#111" stroke="#111" stroke-width="0.12">10<tspan font-size="5.9" dy="-3">4</tspan></text>
<text x="297.8" y="198.55" font-size="11.8" text-anchor="end" font-weight="normal" fill="#111" stroke="#111" stroke-width="0.3" >12</text>
<rect x="329.6" y="183.6" width="71.4" height="54" fill="none" stroke="#222" stroke-width="1.0"/>
<path d="M364.49,220.19h0.9M382.85,207.33h0.9M366.27,210.08h0.9M382.54,216.76h0.9M372.19,202.04h0.9M381.62,218.2h0.9M366.27,217.72h0.9M363.14,219.79h0.9M370.6,218.38h0.9M371.46,213.22h0.9M376.71,210.37h0.9M378.2,215.54h0.9M360.37,204.42h0.9M374.38,215.59h0.9M362.72,205.44h0.9M364.19,208.38h0.9M361.87,218.23h0.9M369.95,209.88h0.9M366.02,209.37h0.9M380.62,221.26h0.9M361.87,209.22h0.9M365.71,209.09h0.9M364.19,204.88h0.9M380.15,217.12h0.9M366.59,217.03h0.9M363.35,218.62h0.9M370.61,211.7h0.9M378.75,205.93h0.9M376.02,219.28h0.9M370.29,213.39h0.9M363.93,206.66h0.9M371.06,217.64h0.9M363.76,214.59h0.9M376.51,210.21h0.9M370.65,211.68h0.9M376.04,217.17h0.9M364.75,206.02h0.9M365.74,201.81h0.9M362.5,203.29h0.9M381.45,221.17h0.9M376.38,205.58h0.9M367.5,220.95h0.9M361.51,201.96h0.9M381.25,211.29h0.9M364.18,201.4h0.9M381.84,212.75h0.9M365,213.73h0.9M361.12,218.09h0.9M363.39,218.01h0.9M360.73,217.62h0.9M365.92,202.58h0.9M378.24,218.94h0.9M378.76,218.78h0.9M362.46,219.57h0.9M363.48,209.6h0.9M367.82,211.51h0.9M382.07,213.44h0.9M368.87,211.23h0.9M378.72,215.96h0.9M376.01,203.69h0.9M379.85,220.53h0.9M362.51,218.02h0.9M360.79,214.69h0.9M374.43,210.88h0.9M375.07,203.26h0.9M362.92,218.7h0.9M371.34,211.46h0.9M361.74,217.18h0.9M383.57,217.23h0.9M367.04,209.11h0.9M370.33,201.97h0.9M382.27,206.48h0.9M381.18,214.41h0.9M368.58,207.73h0.9M375.15,221.12h0.9M361.97,207.71h0.9M362.05,203.85h0.9M376.99,210.51h0.9M367.69,217.44h0.9M363.84,219.61h0.9M363.65,202.84h0.9M382.96,217.5h0.9M365.48,220.7h0.9M363.94,217.68h0.9M371.72,202.26h0.9M379.41,214.95h0.9M366.1,221.16h0.9M368.58,216.32h0.9M363.2,203.61h0.9M379.23,213.08h0.9M368.31,208.33h0.9M375.19,212.56h0.9M382.49,216.56h0.9M368,207.39h0.9M374.63,203.71h0.9M377.75,209.55h0.9M365.33,203.02h0.9M365.59,216.06h0.9M361.17,215.48h0.9M372.7,201.98h0.9M371.35,214.47h0.9M363.91,214.9h0.9M371.56,208.28h0.9M366.64,207.29h0.9M379.25,205.99h0.9M371.75,213.45h0.9M363.66,212.37h0.9M366.2,211.65h0.9M373.9,216.57h0.9M367.76,211.03h0.9M377.02,215.05h0.9M363.53,204.25h0.9M366.25,219.73h0.9M364.57,220.26h0.9M360.83,203.92h0.9M366.65,208.29h0.9M382.15,205.4h0.9M362.49,206.14h0.9M367.7,217.08h0.9M380.03,216.37h0.9M381.47,214.01h0.9M376.19,213.44h0.9M367.53,217.4h0.9M382.15,213.48h0.9M363.63,209.36h0.9M362.56,208.04h0.9M367.07,219.77h0.9M360.45,209.88h0.9M377.97,201.71h0.9M367.35,204.17h0.9M362.32,213.14h0.9M372.26,220.98h0.9M378.58,213.62h0.9M378.44,213.49h0.9M369.17,206.9h0.9M367.14,208.8h0.9M365.56,213.91h0.9M371.21,204.12h0.9M383.55,202.12h0.9M377.3,210.43h0.9M367.02,212.59h0.9M373.89,209.37h0.9M366.92,202.86h0.9M365.6,202.18h0.9M369.85,201.83h0.9M365.53,201.85h0.9M365.38,217.19h0.9M365.02,220.32h0.9M367.79,207.74h0.9M361.32,209.58h0.9M381.24,220.35h0.9M381.74,208.91h0.9M365.63,215.01h0.9M366.19,202.62h0.9M373.26,212.84h0.9M365.36,214.32h0.9M382.91,214.52h0.9M363.15,207.52h0.9M383.34,211.83h0.9M383.28,220.4h0.9M361.74,213.98h0.9M382.55,220.2h0.9M375.37,220.35h0.9M380.23,216.09h0.9M363.29,211.61h0.9M369.58,217.19h0.9M362.63,217.17h0.9M369.55,218.64h0.9M378.95,201.54h0.9M363.59,210.68h0.9M366.1,215.75h0.9M364.32,209.03h0.9M361.45,201.81h0.9M360.85,220.5h0.9M374.26,206.3h0.9M367.29,208.8h0.9M369.45,208.72h0.9M381.2,202.52h0.9M373.8,215.68h0.9M363.68,201.41h0.9M373.4,218.21h0.9M367.57,201.53h0.9M381.32,216.97h0.9M364.02,208.39h0.9M360.85,211.2h0.9M366.44,205.09h0.9M381.71,219.57h0.9M363.92,204.21h0.9M371.13,206.9h0.9M362.69,221.03h0.9M376.52,215.14h0.9M362.74,219.74h0.9M371.65,216.77h0.9M372.87,215.6h0.9M380.65,207.26h0.9M377.99,208.69h0.9M369.12,209h0.9M362.18,218.54h0.9M365.63,208.02h0.9M370.61,217.88h0.9M364.39,203.5h0.9M376.7,208.81h0.9M365.86,208.8h0.9M375.45,215.64h0.9M372.58,219.48h0.9M375.39,201.55h0.9M376.87,201.46h0.9M383.44,209.65h0.9M379.33,208.63h0.9M363.97,211.38h0.9M363.9,206.4h0.9M370.46,209.2h0.9M381.79,205.79h0.9M363.63,209.81h0.9M365.86,215.56h0.9M383.59,202.01h0.9M377.72,221.37h0.9M372.98,204.38h0.9M364.17,217.24h0.9M361.04,207.15h0.9M368,202.82h0.9M364.73,217.18h0.9M380.89,212.7h0.9M365.84,206.97h0.9M377.4,206.14h0.9M377.49,212.71h0.9M381.48,203.81h0.9M363.35,217.51h0.9M360.65,201.91h0.9M363.95,210.35h0.9M374.17,205.94h0.9M366.74,218.23h0.9M361.02,205.27h0.9M363.01,213.78h0.9M382.43,218.92h0.9M364.64,208.79h0.9M370.04,216.4h0.9M363.04,212.18h0.9M381.23,203.78h0.9M367.14,212.22h0.9M375.24,212.03h0.9M365.76,219.3h0.9M364.49,208.44h0.9M366.31,209.52h0.9M373.39,221.38h0.9M361.01,212.51h0.9M378.25,215.77h0.9M376.21,210.72h0.9M369.21,210.44h0.9M377.56,205.6h0.9M363.85,215.29h0.9M364.98,205.04h0.9M364.55,213.58h0.9" stroke="#555" stroke-width="0.9" opacity="1.0" fill="none"/>
<path d="M370.83,222.79h1M366.78,211.02h1M374.39,214.12h1M375.5,208.49h1M372.45,217.85h1M370.97,213.9h1M373.28,207.1h1M371.09,210.83h1M374.19,222.29h1M372.99,217.6h1M378.26,214.93h1M370.07,218.22h1M377.87,207.46h1M370.74,210.83h1M372.44,208.65h1M369.24,210.82h1M373.92,212.76h1M371.33,216.75h1M373.14,218.83h1M375.95,218.71h1M373.55,212.27h1M374.85,214.34h1M371.35,216.65h1M370.84,210.81h1M373.32,213.17h1M373.24,216.21h1M375.15,210.56h1M374.24,216.47h1M368.82,219.77h1M374.26,209.54h1M377.71,204.44h1M370.39,214.78h1M373.94,209.86h1M369.82,215.16h1M372.84,212.44h1M377.28,215.73h1M371.61,219.35h1M368.2,217.97h1M373.34,212.84h1M373.57,209.29h1M377.51,203.54h1M369.27,204.89h1M369.64,210.91h1M371.63,214.8h1M367.51,211.41h1M376.08,211.75h1M366.73,207.36h1M370.61,207.12h1M368.6,206.79h1M369.37,217.02h1M376.11,205.64h1M373.37,217.23h1M375.67,210.32h1M373.49,216.59h1M365.27,215.28h1M372.35,217.51h1M365.12,219.39h1M371,210.76h1M371.5,209.93h1M370.6,212.24h1M374.19,210.77h1M368.88,217.02h1M377.65,213.62h1M373.92,214.13h1M375.47,215.91h1M374.82,212.02h1M374,218.88h1M373.34,206.03h1M378.13,215.08h1M368.24,216.24h1M374.11,210.7h1M372.58,211.02h1M370.58,217.99h1M373.29,212.64h1M371.14,205.63h1M375.88,208.13h1M373.74,218.43h1M373.04,210.17h1M373.35,219.75h1M367.6,220.01h1M366.38,213.13h1M369.73,216.39h1M371.92,210.39h1M380.34,212.24h1M371.85,210.95h1M374.87,216.58h1M375.76,208.39h1M378.9,213.42h1M372.36,214.21h1M373.71,216.26h1M373.1,204.7h1M370.68,206.16h1M369.51,210.13h1M369.7,213h1M376.5,214.59h1M372.8,214.82h1M369.94,222.8h1M371.57,216.83h1M369.76,216.54h1M372.32,211.83h1M371.28,217.39h1M373.58,216.98h1M374.42,216.89h1M366.88,213.46h1M372.29,216.68h1M375.23,220.62h1M369.4,210.47h1M372.95,204.5h1M371.93,217.53h1M374.98,217.16h1M374.14,212.94h1M371.69,212.01h1M375.73,211.91h1M374.26,208.61h1M378.38,211.85h1M373,216.13h1M369.16,211.27h1M369.84,212.24h1M371.37,215.27h1M371.72,212.06h1M373.94,214.49h1M373.21,213.75h1M378.39,209.29h1M374.59,214.24h1M377.73,208.86h1M368.86,218h1M371.42,209.85h1M374.43,212.88h1M373.79,205.98h1M374.42,211.97h1M373.85,208.46h1M368.88,220.44h1M377.61,213.39h1M375.3,216.2h1M368.47,206.28h1M371.07,208.5h1M372.27,213.17h1M375.32,207.99h1M370.93,218.9h1M368.02,212.15h1M374.61,214.56h1M371.16,215.23h1M376.04,213.25h1M372.42,217.28h1M375.81,210.97h1M374.46,215.5h1M373.95,219.12h1M370.28,214.83h1M375.27,214.44h1M372.99,212.45h1M368.04,214.15h1M370.28,216.83h1M371.19,212.83h1M374.91,206.58h1M374.14,214.61h1M368.64,213.24h1M374.03,215.93h1M371.85,214.07h1M367.47,220.73h1M375.7,208.66h1M370.42,209.68h1M367.76,216.72h1M375.32,209.42h1M374.71,215.3h1M370,213.82h1M377.02,205.36h1M374.77,216.78h1M369.36,219.83h1M378.32,214.78h1M373.01,207.81h1M372.2,217.3h1M365.3,209.37h1M374.23,213.36h1M369.8,215.67h1M374.12,210.5h1M367.97,206.55h1M375.91,213.26h1M376.79,213.69h1M378.81,210.18h1M363.29,210.5h1M373.41,217.07h1M373.29,213.48h1M362.83,211.84h1M370.25,211.29h1M371.72,214.6h1M376.59,214.27h1M369.6,213.12h1M373.88,207.87h1M372.24,212.26h1M373.79,211.15h1M370.81,214.15h1M374.08,218.83h1M374.5,217.95h1M367.29,216.62h1M375.64,214.34h1M370.01,212.46h1M371.01,215.3h1M376.11,211.81h1M372.73,212.39h1M374.65,210.24h1M374.72,213.62h1M374.13,213.52h1M369,221.76h1M368.69,216.22h1M374.63,212.23h1M373.98,217.17h1M373.68,211.82h1M370.78,218.18h1M374.3,217.18h1M368.65,209.21h1M373.13,213.53h1M373.88,213.36h1M374.42,215.12h1M368.78,216.89h1M370.55,209.68h1M373.81,210.75h1M370.53,215.14h1M371.23,217.98h1M376.06,209.06h1M374.66,207.23h1M377.14,218.73h1M372.48,217.44h1M376.82,218.48h1M376.36,209.71h1M380.49,213h1M372.1,214.82h1M371.62,215.73h1M376.49,213.34h1M370.64,213.64h1M369.98,218.16h1M373.37,212h1M373.88,211.52h1M368.12,212.02h1M373.47,211.68h1M371.18,214.41h1M372.35,212.96h1M373.18,211.99h1M370.57,219.89h1M375.47,215.13h1M374.1,212.42h1M370.72,219.21h1M372.96,211.52h1M375.61,213.84h1M374.88,213.45h1M376.78,211.42h1M372.17,212.22h1M372.69,214.21h1M379.83,207.79h1M372.5,212.2h1M377.48,214.9h1M374.81,215.01h1M370.74,215.11h1M366.09,223.73h1M373.85,216.66h1M370.21,213.24h1M370.18,213.34h1M366.85,213.84h1M375.79,215.68h1M372.9,212.6h1M371.28,220.2h1M374.45,209.2h1M372.64,216.5h1M372.27,215.96h1M374.87,209.04h1M371,216.49h1M363.73,216.18h1M375.19,211.16h1M371.94,223.57h1M371.89,216.83h1M377.66,212.46h1M368.29,211.84h1M363.73,210.72h1M376.89,214.93h1M373.63,214.1h1M368.22,207.92h1M371.86,209.48h1M374.88,210.85h1M368.81,212.15h1M374.4,212.32h1M379.6,211.04h1M376.29,216.52h1M371.54,217.81h1M373.33,214.15h1M371.02,204.65h1M372.9,213.18h1M370.88,216.18h1M369.27,213.5h1M367.89,214.98h1M378.42,214.27h1M373.77,207.59h1M371.04,203.25h1M370.55,216.43h1M377.49,211.65h1M377.2,215.57h1M370.64,212.56h1M373.11,213.12h1M374.15,219.56h1M372.17,208.82h1M368.64,213.79h1M370.1,209.26h1M372.34,214.13h1M369.55,215.82h1M367.75,216.55h1M371.5,214.46h1M376.37,208.06h1M374.34,214.85h1M370.96,217.56h1" stroke="#111" stroke-width="1" opacity="1.0" fill="none"/>
<path d="M371.27,225.49h0.9M373.99,223.24h0.9M370.24,226.77h0.9M366.49,221.9h0.9M367.67,222.57h0.9M369.11,230.83h0.9M371.39,222.54h0.9M366.19,222.28h0.9M371.07,223.25h0.9M370.45,228.89h0.9M366.84,222.65h0.9M370.35,230.56h0.9M367.09,224.28h0.9M368.89,223.83h0.9M368.18,223.28h0.9M369.47,226.64h0.9M366.1,225.15h0.9M370.15,223.98h0.9M363.75,222.61h0.9M367.94,224.18h0.9M367.56,229.28h0.9M372.64,229.85h0.9" stroke="#555" stroke-width="0.9" opacity="1.0" fill="none"/>
<rect x="359.5" y="200.6" width="25.3" height="21.3" fill="none" stroke="#333" stroke-width="0.9"/>
<path d="M329.6,237.6 h-2.4 M329.6,233.54 h-1.4 M329.6,231.16 h-1.4 M329.6,229.47 h-1.4 M329.6,228.16 h-1.4 M329.6,227.09 h-1.4 M329.6,226.19 h-1.4 M329.6,225.41 h-1.4 M329.6,224.72 h-1.4 M329.6,224.1 h-2.4 M329.6,220.04 h-1.4 M329.6,217.66 h-1.4 M329.6,215.97 h-1.4 M329.6,214.66 h-1.4 M329.6,213.59 h-1.4 M329.6,212.69 h-1.4 M329.6,211.91 h-1.4 M329.6,211.22 h-1.4 M329.6,210.6 h-2.4 M329.6,206.54 h-1.4 M329.6,204.16 h-1.4 M329.6,202.47 h-1.4 M329.6,201.16 h-1.4 M329.6,200.09 h-1.4 M329.6,199.19 h-1.4 M329.6,198.41 h-1.4 M329.6,197.72 h-1.4 M329.6,197.1 h-2.4 M329.6,193.04 h-1.4 M329.6,190.66 h-1.4 M329.6,188.97 h-1.4 M329.6,187.66 h-1.4 M329.6,186.59 h-1.4 M329.6,185.69 h-1.4 M329.6,184.91 h-1.4 M329.6,184.22 h-1.4 M329.6,183.6 h-2.4" stroke="#222" stroke-width="0.8" fill="none"/>
<line x1="329.4" y1="183.6" x2="329.4" y2="237.6" stroke="#111" stroke-width="1.1"/>
<path d="M329.6,237.6 v2.2 M334.97,237.6 v1.3 M338.12,237.6 v1.3 M340.35,237.6 v1.3 M342.08,237.6 v1.3 M343.49,237.6 v1.3 M344.69,237.6 v1.3 M345.72,237.6 v1.3 M346.63,237.6 v1.3 M347.45,237.6 v2.2 M352.82,237.6 v1.3 M355.97,237.6 v1.3 M358.2,237.6 v1.3 M359.93,237.6 v1.3 M361.34,237.6 v1.3 M362.54,237.6 v1.3 M363.57,237.6 v1.3 M364.48,237.6 v1.3 M365.3,237.6 v2.2 M370.67,237.6 v1.3 M373.82,237.6 v1.3 M376.05,237.6 v1.3 M377.78,237.6 v1.3 M379.19,237.6 v1.3 M380.39,237.6 v1.3 M381.42,237.6 v1.3 M382.33,237.6 v1.3 M383.15,237.6 v2.2 M388.52,237.6 v1.3 M391.67,237.6 v1.3 M393.9,237.6 v1.3 M395.63,237.6 v1.3 M397.04,237.6 v1.3 M398.24,237.6 v1.3 M399.27,237.6 v1.3 M400.18,237.6 v1.3 M401,237.6 v2.2" stroke="#000" stroke-width="0.9" fill="none"/>
<line x1="329.1" y1="237.9" x2="401.5" y2="237.9" stroke="#000" stroke-width="1.6"/>
<text transform="translate(324.6,237.3) rotate(-90)" x="0" y="0" text-anchor="middle" font-size="7.2" fill="#111" stroke="#111" stroke-width="0.12">10<tspan font-size="6.2" dy="-3.3">0</tspan></text>
<text transform="translate(324.6,223.8) rotate(-90)" x="0" y="0" text-anchor="middle" font-size="7.2" fill="#111" stroke="#111" stroke-width="0.12">10<tspan font-size="6.2" dy="-3.3">1</tspan></text>
<text transform="translate(324.6,210.3) rotate(-90)" x="0" y="0" text-anchor="middle" font-size="7.2" fill="#111" stroke="#111" stroke-width="0.12">10<tspan font-size="6.2" dy="-3.3">2</tspan></text>
<text transform="translate(324.6,196.8) rotate(-90)" x="0" y="0" text-anchor="middle" font-size="7.2" fill="#111" stroke="#111" stroke-width="0.12">10<tspan font-size="6.2" dy="-3.3">3</tspan></text>
<text transform="translate(324.6,183.3) rotate(-90)" x="0" y="0" text-anchor="middle" font-size="7.2" fill="#111" stroke="#111" stroke-width="0.12">10<tspan font-size="6.2" dy="-3.3">4</tspan></text>
<text x="330.9" y="248.3" text-anchor="middle" font-size="7.1" fill="#111" stroke="#111" stroke-width="0.12">10<tspan font-size="5.9" dy="-3">0</tspan></text>
<text x="348.75" y="248.3" text-anchor="middle" font-size="7.1" fill="#111" stroke="#111" stroke-width="0.12">10<tspan font-size="5.9" dy="-3">1</tspan></text>
<text x="366.6" y="248.3" text-anchor="middle" font-size="7.1" fill="#111" stroke="#111" stroke-width="0.12">10<tspan font-size="5.9" dy="-3">2</tspan></text>
<text x="384.45" y="248.3" text-anchor="middle" font-size="7.1" fill="#111" stroke="#111" stroke-width="0.12">10<tspan font-size="5.9" dy="-3">3</tspan></text>
<text x="402.3" y="248.3" text-anchor="middle" font-size="7.1" fill="#111" stroke="#111" stroke-width="0.12">10<tspan font-size="5.9" dy="-3">4</tspan></text>
<text x="396.7" y="198.55" font-size="11.8" text-anchor="end" font-weight="normal" fill="#111" stroke="#111" stroke-width="0.3" >94</text>
<path d="M212,186.6 V66" stroke="#000" stroke-width="1.3"/>
<path d="M212,62 L209.8,66.5 L214.2,66.5 Z" fill="#000"/>
<text transform="translate(216.1,214.6) rotate(-90)" text-anchor="middle" font-size="11.8" fill="#111" stroke="#111" stroke-width="0.3">IL-12R&#946;2</text>
<text x="231.3" y="260.6" font-size="11.4" text-anchor="start" font-weight="normal" fill="#111" stroke="#111" stroke-width="0.3" >CD4</text>
<path d="M259.8,257 H381.8" stroke="#000" stroke-width="1.7"/>
<path d="M385.8,257 L381.3,254.8 L381.3,259.2 Z" fill="#000"/>
<rect x="440.3" y="35" width="70.9" height="54.1" fill="none" stroke="#222" stroke-width="1.0"/>
<rect x="477.3" y="70.25" width="18.3" height="18.85" fill="#4a4a4a"/>
<path d="M481.16,64.99h0.84M484.03,68.2h0.84M493.78,62.01h0.84M490.4,59.94h0.84M486.14,57h0.84M484.65,65.56h0.84M476.93,69.06h0.84M480.96,65.39h0.84M493.12,54.43h0.84M482.34,59.34h0.84M494.55,58.65h0.84M481.04,65.45h0.84M492.29,63.59h0.84M484.11,68.16h0.84M484.06,57.66h0.84M483.78,49.3h0.84M481.82,68.97h0.84M481.98,62.76h0.84M482.16,66.7h0.84M485.8,67.17h0.84M485.4,64.55h0.84M476.96,66.43h0.84M484.48,62.99h0.84M492.86,66.81h0.84M490.48,45.93h0.84M480.25,51.05h0.84M480.52,69.38h0.84M488.73,53.53h0.84M489.08,67.48h0.84M478.84,52.47h0.84M482.87,63.28h0.84M486.71,65.37h0.84M490.14,67.33h0.84M487.77,68.95h0.84M488.94,52.44h0.84M493.87,62.57h0.84M493.87,65.17h0.84M480.59,66.04h0.84M492.9,54.22h0.84M476.98,63.15h0.84M491.97,64.62h0.84M494.46,65.09h0.84M479.13,60.3h0.84M491.21,60.53h0.84M479.68,48.64h0.84M494.75,66.67h0.84M485.77,67.45h0.84M486.25,68.67h0.84M494.93,69.92h0.84M483.02,56.13h0.84M487.2,53.65h0.84M478.35,69.41h0.84M479.96,68.55h0.84M487.21,69.4h0.84M484.17,57.68h0.84M478.27,50.6h0.84M481.21,66.24h0.84M486.46,52.71h0.84M477.91,65.76h0.84M479.22,69.39h0.84M481.35,60.79h0.84M492.77,58.75h0.84M485.02,68.65h0.84M479.21,68.18h0.84M487.21,62.26h0.84M487.72,48.35h0.84M491.4,69.79h0.84M487.8,64.3h0.84M477.33,69.65h0.84M488.32,63.72h0.84M488.67,69.82h0.84M486.55,54.21h0.84M479.22,69.6h0.84M480.55,68.53h0.84M489,65.54h0.84M492.03,69.5h0.84M477.8,69.13h0.84M491.44,61.85h0.84M485.51,68.28h0.84M489,64.53h0.84M491.28,50.87h0.84M478.88,58.91h0.84M490.92,63.62h0.84M490.78,55.2h0.84M485.85,68.79h0.84M481.64,67.61h0.84M488.22,66.21h0.84M484.57,67.11h0.84M487.02,67.59h0.84M490.79,57.91h0.84M492.2,64.76h0.84M494.1,52.71h0.84M495.81,65.57h0.84M477.5,61.69h0.84M494.79,69.62h0.84M493.84,63.37h0.84M495.99,62.67h0.84M491.67,55.8h0.84M494.7,59.06h0.84M496.28,68.84h0.84M479.32,65.46h0.84M478.86,67.91h0.84M487.75,68.89h0.84M494.98,69.22h0.84M487.05,53.41h0.84M486.64,68.05h0.84M492.63,53.08h0.84M488.11,62.17h0.84M488.45,61.24h0.84M486.82,58.91h0.84M486.46,63.07h0.84M492.36,66.74h0.84M479.83,55.84h0.84M483.23,68.78h0.84M478.51,66.51h0.84M489.77,70.15h0.84M484.89,51.86h0.84M494.39,67.15h0.84M483.46,62.86h0.84M494.26,60.18h0.84M483.38,50.28h0.84M495.35,67.03h0.84M482.34,65.86h0.84M487.12,65.25h0.84M477.77,69.83h0.84M488.69,57.89h0.84M490.05,66.57h0.84M485.87,47.16h0.84M485.14,66.66h0.84M486.39,60.04h0.84M492.03,62.98h0.84M480.32,70.15h0.84M493.08,65.41h0.84M490.87,68.02h0.84M484.4,69.13h0.84M496.2,69.55h0.84M488.17,67.47h0.84M486.69,59.21h0.84M487,50.15h0.84M483.3,68.79h0.84M487.03,62.85h0.84M478.68,63.45h0.84M488.68,70.15h0.84M483.33,66.53h0.84M489.46,59.5h0.84M488.32,54.84h0.84M495.75,61.21h0.84M490.38,48.7h0.84M477.29,60.87h0.84M479.38,61.01h0.84M486.4,69.52h0.84M487.32,70.09h0.84M486.07,58.8h0.84M491.09,65.96h0.84M493.86,52.08h0.84M482.51,61.67h0.84M484.28,68.75h0.84M494.48,55.05h0.84M478.94,54.6h0.84M486.58,66.79h0.84M491.39,65.95h0.84M495.77,69.89h0.84M494.35,50.32h0.84M493.98,54.69h0.84M491.95,65.44h0.84M485.51,67.13h0.84M482.11,69.19h0.84M493.52,64.05h0.84M491.19,62h0.84M490.46,61.38h0.84M491.98,68.29h0.84M494.82,67.15h0.84M487.42,66.13h0.84M481.64,66.67h0.84M476.68,67.82h0.84M481.52,63.13h0.84M483.81,69.6h0.84M481.33,52.51h0.84M479.89,57.28h0.84M478.44,53.84h0.84M487.83,61.45h0.84M489.38,58.75h0.84M495.8,69.65h0.84M491.45,55.12h0.84M480.5,69.12h0.84M495.27,61.29h0.84M482.95,52.02h0.84M492.3,62.73h0.84M477.26,67.58h0.84M485.95,66.91h0.84M487.26,69.95h0.84M480.2,48.44h0.84M494.54,54.07h0.84M486.5,68.46h0.84M489.5,54.21h0.84M491.84,67.49h0.84M481.76,63.1h0.84M477.18,65.6h0.84M488.79,66.62h0.84M494.85,68.99h0.84M494.12,65.19h0.84M494.07,67.48h0.84M480.52,68.12h0.84M494,65.08h0.84M477.85,69.31h0.84M482.11,69.25h0.84M493.14,69.33h0.84M478.13,70.14h0.84M491.99,65.04h0.84M492.34,66.08h0.84M494.7,67.95h0.84M493.78,69.35h0.84M490.94,69.36h0.84M480.24,61.43h0.84M479.18,62.72h0.84M478.55,61.96h0.84M482.7,67.81h0.84M482.73,67.52h0.84M494.92,53.08h0.84M493.08,60.23h0.84M479.62,51.95h0.84M485.94,63.72h0.84M491.57,51.48h0.84M484.56,57.26h0.84M486.93,65.49h0.84M494.07,67.79h0.84M494.16,59.17h0.84M479.89,67.75h0.84M491.48,45.05h0.84M485.66,50.79h0.84M477.16,65.07h0.84M482.69,63.96h0.84M493.37,55.46h0.84M480.89,55.99h0.84M479.76,67.91h0.84M493.96,48.95h0.84M485.12,70.13h0.84M494.76,67.24h0.84M482.23,64.74h0.84M479.02,52.59h0.84M494.96,69.01h0.84M482.84,68.7h0.84M495.27,66.91h0.84M489.8,62.97h0.84M492.9,62.89h0.84M482.84,69.2h0.84M490.5,61.38h0.84M492.92,68.89h0.84M490.05,66.49h0.84M494.76,64.64h0.84M494.83,69.85h0.84M487.84,66.91h0.84M495.29,66.53h0.84M490.73,66.26h0.84M494.19,60.91h0.84M479.7,62.53h0.84M482.45,67.8h0.84M479.33,69.84h0.84M477.53,61.55h0.84M489.47,63.12h0.84M495.82,66.24h0.84M488.61,48.87h0.84M495.92,66.6h0.84M492.9,66.68h0.84M488.44,48.89h0.84M484.43,69.99h0.84M495.45,65.17h0.84M493.94,51.56h0.84M494.54,68h0.84M483.29,63.75h0.84M491.13,60.12h0.84M487.16,60.63h0.84M492.89,66.12h0.84M487.86,68.64h0.84M482.34,60.66h0.84M481.94,66.31h0.84M483.04,68.1h0.84M483.47,64.69h0.84M486.73,69.43h0.84M495.49,69.25h0.84M488.79,65.29h0.84M481.09,61.5h0.84M493.82,64.47h0.84M494.19,67.65h0.84M479.18,62.82h0.84M490.39,62.55h0.84M483.36,59.02h0.84M492.55,69.05h0.84M483.92,70.08h0.84M481.68,62.15h0.84M496.04,69.03h0.84M492.97,58.51h0.84M489.53,69.24h0.84M486.12,65.62h0.84M487.76,62.86h0.84M489.77,70.1h0.84M485.12,63.16h0.84M484.62,69.9h0.84M481.93,64.84h0.84M489.07,69.99h0.84M482.48,61.08h0.84M484.88,65.49h0.84M493.98,57.63h0.84M486.85,58.25h0.84M479.77,63.37h0.84M479.56,58.9h0.84M491.99,68.32h0.84M495.5,70.22h0.84M487.71,52.63h0.84M486.23,68.76h0.84M485.35,61.47h0.84M489.82,50.95h0.84M492.7,69.22h0.84M492.58,62.54h0.84M488.33,56.33h0.84M479.98,61.83h0.84M480.53,62.5h0.84M483.45,66.2h0.84M487.88,62.51h0.84M486.35,62.96h0.84M478,61.08h0.84M486.33,67.57h0.84M480.33,60.67h0.84M480.41,60.03h0.84M492.49,49.77h0.84M489.53,69.94h0.84M481.32,69.52h0.84M491.46,58.47h0.84M495.98,65.67h0.84M493.55,67.04h0.84M480.17,57.3h0.84M489.62,64.71h0.84M484.71,66.81h0.84M485.28,69.89h0.84M481.01,54.21h0.84M479.68,58.31h0.84M494.83,55.12h0.84M485.72,57.91h0.84M479.7,68.78h0.84M485.78,67.82h0.84M485.6,70.16h0.84M479.44,69.93h0.84M490.92,59.3h0.84M488.95,64.77h0.84M490.63,60.87h0.84M493.49,70.24h0.84M493.84,64.18h0.84M495.64,58.78h0.84M490.64,68.48h0.84M495.2,57.64h0.84M494.73,51.72h0.84M480.84,59.77h0.84M484.58,54.93h0.84M486.13,64.26h0.84M485.85,70.25h0.84M478.31,68.91h0.84M484.52,59.44h0.84M492.16,65.01h0.84M486.68,62.65h0.84M489.82,67.07h0.84M490.38,67.67h0.84M489.08,69.25h0.84M476.54,69.47h0.84M484.07,70.1h0.84M490.54,48.95h0.84M483.96,62.53h0.84M494.85,56.36h0.84M495.71,67.49h0.84M486.74,61.57h0.84M494.98,55.47h0.84M480.53,69.49h0.84M486.13,61.66h0.84M494.72,63.76h0.84M478.37,66.3h0.84M486.72,60.21h0.84M484.81,68.49h0.84M484.22,70.18h0.84M485.17,67.33h0.84" stroke="#333" stroke-width="0.84" opacity="1.0" fill="none"/>
<path d="M495.99,59.96h0.84M485.15,68.29h0.84M483.44,45.73h0.84M483.54,48.15h0.84M487.65,62.15h0.84M482.89,58.36h0.84M484.71,63.07h0.84M489.24,66.25h0.84M491.14,65.63h0.84M490.87,52.67h0.84M489.58,49.99h0.84M479.46,60.44h0.84M489.92,45.81h0.84M480.93,59.76h0.84M493.32,60.43h0.84M494.29,56.93h0.84M482.11,66.47h0.84M495.4,46.14h0.84M489.1,44.9h0.84M491.06,68.5h0.84M490.95,66.17h0.84M489.76,45.35h0.84M479.39,63.02h0.84M488.24,59.57h0.84M495.83,48.08h0.84M492.87,55.09h0.84M485.54,59.83h0.84M495.95,60.1h0.84M494.35,49.61h0.84M485.4,44.7h0.84M493.35,46.04h0.84M481.91,50.63h0.84M479.56,52.49h0.84M486.51,49.74h0.84M492.58,53.23h0.84M490.39,47.03h0.84M482.77,54.57h0.84M486.36,53.06h0.84M491.79,52.15h0.84M491,54.25h0.84M495.32,66.71h0.84M479.62,64.8h0.84M491.17,47.72h0.84M489.76,46.96h0.84M482.24,58.94h0.84M495.47,46.66h0.84M486.39,65.39h0.84M489.22,54.02h0.84M496.17,69.76h0.84M487.24,53.91h0.84M489.73,58.37h0.84M488.1,46.04h0.84M493.16,48.85h0.84M489.89,49.09h0.84M479.56,68.71h0.84M477.8,70.1h0.84M494.37,60.89h0.84M491.49,60.62h0.84M479.18,64.11h0.84M493.74,55.8h0.84M489.67,68.55h0.84M488.6,50.44h0.84M491.45,67.97h0.84M494.89,44.91h0.84M482.62,59.61h0.84M477.8,60.33h0.84M489.98,64.01h0.84M482.81,49.09h0.84M490.8,53.24h0.84M490.1,68.2h0.84M489.94,49.5h0.84M492.63,52.05h0.84M479.79,59.31h0.84M480.24,69.94h0.84M486.9,52.95h0.84M479.98,48.85h0.84M486.58,47.59h0.84M481.95,69.93h0.84M496.02,50.99h0.84M493.12,63.61h0.84M492.16,46.25h0.84M493.71,55.47h0.84M481.5,59.5h0.84M487.11,63.4h0.84M488.76,60.8h0.84M477.68,55.32h0.84M481.58,48.68h0.84M492.85,55.12h0.84M481.74,56.4h0.84M494.45,52.57h0.84M485.92,48.13h0.84M486.5,67.27h0.84M479.11,49.4h0.84M493.41,54.16h0.84M484.71,56.34h0.84M481.05,48.68h0.84M480.02,64.61h0.84M479.93,48.55h0.84M491.91,65.91h0.84M483.88,45.08h0.84M488.31,45.01h0.84M483.5,57.77h0.84M494.85,58.24h0.84M486.79,56.26h0.84M485.8,68.11h0.84M495.2,63.8h0.84M492.66,65.71h0.84M495.92,64.54h0.84M491.73,65.61h0.84M481.19,65.26h0.84M485.75,67.39h0.84M492.19,63.97h0.84M481.22,49.11h0.84M485.46,57.69h0.84M479.22,62.57h0.84M485.38,57.56h0.84M487.59,57.53h0.84M480.13,52.69h0.84M488.42,48.83h0.84M479.6,67.72h0.84M486.4,53.83h0.84M490.28,45.05h0.84M491.01,53.66h0.84M485.19,70.23h0.84M480.08,44.89h0.84M495.84,69.95h0.84M487.35,49.3h0.84M486.25,45.29h0.84M477.45,70.09h0.84M491.57,51.13h0.84M492.12,69.56h0.84M490.8,51.09h0.84M485.66,53.55h0.84M485.79,69.77h0.84M492.83,51.06h0.84M494.98,65.6h0.84M488.33,66.06h0.84M489.24,54.68h0.84M493.14,47.53h0.84M483.34,65.27h0.84M480.15,48.46h0.84M491.44,53.93h0.84M488.77,49.61h0.84M483.38,67.64h0.84M493.19,51.64h0.84M491.48,58.59h0.84M477.35,61.78h0.84M486.62,51.2h0.84M490.49,59.11h0.84M494.47,62.96h0.84" stroke="#555" stroke-width="0.84" opacity="1.0" fill="none"/>
<rect x="474.5" y="37.4" width="25.2" height="32.85" fill="none" stroke="#333" stroke-width="0.9"/>
<path d="M440.3,89.1 h-2.4 M440.3,85.03 h-1.4 M440.3,82.65 h-1.4 M440.3,80.96 h-1.4 M440.3,79.65 h-1.4 M440.3,78.58 h-1.4 M440.3,77.67 h-1.4 M440.3,76.89 h-1.4 M440.3,76.19 h-1.4 M440.3,75.57 h-2.4 M440.3,71.5 h-1.4 M440.3,69.12 h-1.4 M440.3,67.43 h-1.4 M440.3,66.12 h-1.4 M440.3,65.05 h-1.4 M440.3,64.15 h-1.4 M440.3,63.36 h-1.4 M440.3,62.67 h-1.4 M440.3,62.05 h-2.4 M440.3,57.98 h-1.4 M440.3,55.6 h-1.4 M440.3,53.91 h-1.4 M440.3,52.6 h-1.4 M440.3,51.53 h-1.4 M440.3,50.62 h-1.4 M440.3,49.84 h-1.4 M440.3,49.14 h-1.4 M440.3,48.52 h-2.4 M440.3,44.45 h-1.4 M440.3,42.07 h-1.4 M440.3,40.38 h-1.4 M440.3,39.07 h-1.4 M440.3,38 h-1.4 M440.3,37.1 h-1.4 M440.3,36.31 h-1.4 M440.3,35.62 h-1.4 M440.3,35 h-2.4" stroke="#222" stroke-width="0.8" fill="none"/>
<line x1="440.1" y1="35" x2="440.1" y2="89.1" stroke="#111" stroke-width="1.1"/>
<path d="M440.3,89.1 v2.2 M445.64,89.1 v1.3 M448.76,89.1 v1.3 M450.97,89.1 v1.3 M452.69,89.1 v1.3 M454.09,89.1 v1.3 M455.28,89.1 v1.3 M456.31,89.1 v1.3 M457.21,89.1 v1.3 M458.02,89.1 v2.2 M463.36,89.1 v1.3 M466.48,89.1 v1.3 M468.7,89.1 v1.3 M470.41,89.1 v1.3 M471.82,89.1 v1.3 M473,89.1 v1.3 M474.03,89.1 v1.3 M474.94,89.1 v1.3 M475.75,89.1 v2.2 M481.09,89.1 v1.3 M484.21,89.1 v1.3 M486.42,89.1 v1.3 M488.14,89.1 v1.3 M489.54,89.1 v1.3 M490.73,89.1 v1.3 M491.76,89.1 v1.3 M492.66,89.1 v1.3 M493.48,89.1 v2.2 M498.81,89.1 v1.3 M501.93,89.1 v1.3 M504.15,89.1 v1.3 M505.86,89.1 v1.3 M507.27,89.1 v1.3 M508.45,89.1 v1.3 M509.48,89.1 v1.3 M510.39,89.1 v1.3 M511.2,89.1 v2.2" stroke="#000" stroke-width="0.9" fill="none"/>
<line x1="439.8" y1="89.4" x2="511.7" y2="89.4" stroke="#000" stroke-width="1.6"/>
<text transform="translate(435.3,88.8) rotate(-90)" x="0" y="0" text-anchor="middle" font-size="7.2" fill="#111" stroke="#111" stroke-width="0.12">10<tspan font-size="6.2" dy="-3.3">0</tspan></text>
<text transform="translate(435.3,75.27) rotate(-90)" x="0" y="0" text-anchor="middle" font-size="7.2" fill="#111" stroke="#111" stroke-width="0.12">10<tspan font-size="6.2" dy="-3.3">1</tspan></text>
<text transform="translate(435.3,61.75) rotate(-90)" x="0" y="0" text-anchor="middle" font-size="7.2" fill="#111" stroke="#111" stroke-width="0.12">10<tspan font-size="6.2" dy="-3.3">2</tspan></text>
<text transform="translate(435.3,48.23) rotate(-90)" x="0" y="0" text-anchor="middle" font-size="7.2" fill="#111" stroke="#111" stroke-width="0.12">10<tspan font-size="6.2" dy="-3.3">3</tspan></text>
<text transform="translate(435.3,34.7) rotate(-90)" x="0" y="0" text-anchor="middle" font-size="7.2" fill="#111" stroke="#111" stroke-width="0.12">10<tspan font-size="6.2" dy="-3.3">4</tspan></text>
<text x="441.5" y="99.8" text-anchor="middle" font-size="7.1" fill="#111" stroke="#111" stroke-width="0.12">10<tspan font-size="5.9" dy="-3">0</tspan></text>
<text x="459.22" y="99.8" text-anchor="middle" font-size="7.1" fill="#111" stroke="#111" stroke-width="0.12">10<tspan font-size="5.9" dy="-3">1</tspan></text>
<text x="476.95" y="99.8" text-anchor="middle" font-size="7.1" fill="#111" stroke="#111" stroke-width="0.12">10<tspan font-size="5.9" dy="-3">2</tspan></text>
<text x="494.68" y="99.8" text-anchor="middle" font-size="7.1" fill="#111" stroke="#111" stroke-width="0.12">10<tspan font-size="5.9" dy="-3">3</tspan></text>
<text x="512.4" y="99.8" text-anchor="middle" font-size="7.1" fill="#111" stroke="#111" stroke-width="0.12">10<tspan font-size="5.9" dy="-3">4</tspan></text>
<text transform="translate(472.9,49.65) scale(0.94,1)" font-size="11.8" text-anchor="end" font-weight="normal" fill="#111" stroke="#111" stroke-width="0.3" >4.1</text>
<rect x="440.3" y="109.5" width="70.9" height="53.7" fill="none" stroke="#222" stroke-width="1.0"/>
<rect x="477.3" y="144.8" width="18.3" height="18.4" fill="#4a4a4a"/>
<path d="M487.36,138.36h0.84M485.09,142.81h0.84M490.68,123.87h0.84M484.44,137.2h0.84M494.64,137.94h0.84M484.77,141.16h0.84M480.89,141.84h0.84M492.96,129.58h0.84M477.88,141.49h0.84M494.44,123.07h0.84M486.37,123.26h0.84M482.77,144.21h0.84M478.75,141.94h0.84M485.48,142.98h0.84M490.43,131.55h0.84M480.79,138.89h0.84M489.42,120.21h0.84M482.92,136.08h0.84M487.3,137.19h0.84M492.17,138.4h0.84M486.25,121.79h0.84M489.07,123.21h0.84M483.55,138.59h0.84M488.09,138.48h0.84M492.66,140.2h0.84M493.32,131.31h0.84M495.17,138.23h0.84M482.12,144.43h0.84M479.1,134.83h0.84M476.94,143.15h0.84M479.4,144.42h0.84M490.95,144.27h0.84M480.49,138.42h0.84M491.3,132.16h0.84M478.83,127.88h0.84M491.9,136.67h0.84M484.6,143.94h0.84M480.4,131.29h0.84M488.42,143.61h0.84M491.07,131.69h0.84M477.43,144.15h0.84M484.78,140.13h0.84M478.54,140.14h0.84M495.77,144.07h0.84M485.31,126.4h0.84M485.94,131.54h0.84M488.45,141.66h0.84M493.01,143.73h0.84M495.39,143.25h0.84M484.72,133.22h0.84M484.96,139.92h0.84M490.44,124.98h0.84M489.96,137.36h0.84M491.86,130.13h0.84M495.12,141.87h0.84M477.48,142.54h0.84M487.83,137.52h0.84M494.94,142.48h0.84M476.84,142.77h0.84M484.44,144.78h0.84M485.95,132.34h0.84M478.06,142.32h0.84M483.05,144.27h0.84M484.41,130.62h0.84M479.08,135.12h0.84M491.06,126.91h0.84M483.86,131.49h0.84M485.77,139.69h0.84M492.43,139.63h0.84M481.78,139.57h0.84M491.28,136.34h0.84M482.44,141.86h0.84M495.39,140.32h0.84M494.59,137.45h0.84M486.42,137.9h0.84M478.25,142.89h0.84M492.36,124.99h0.84M489.67,128.05h0.84M486.77,143h0.84M494.89,132.61h0.84M484.15,123.84h0.84M491.93,142.44h0.84M479.81,125.36h0.84M494.88,141.44h0.84M483.2,142.34h0.84M479.51,138.75h0.84M484.94,141.59h0.84M479.43,137.69h0.84M487.94,137.37h0.84M489.2,142.11h0.84M481.25,142.54h0.84M479.98,121.57h0.84M493.33,140.17h0.84M490.13,142.78h0.84M488.96,144.57h0.84M495.83,143.05h0.84M478.56,143.17h0.84M487.06,144.18h0.84M478.77,128.15h0.84M493.91,142.64h0.84M492.83,134.04h0.84M484.43,140.86h0.84M487.94,122.4h0.84M491.33,142.08h0.84M489.46,141.34h0.84M489.98,130.32h0.84M481.91,139.48h0.84M490.52,131.02h0.84M490.94,132.42h0.84M486.22,143.42h0.84M487.32,138.66h0.84M484.79,133.95h0.84M488.62,137.58h0.84M494.74,142.08h0.84M477.29,140.92h0.84M491.11,142.43h0.84M485.28,133.38h0.84M480.81,139.72h0.84M488.7,128.92h0.84M479.53,142.29h0.84M491.15,136.85h0.84M481.91,140.21h0.84M492.52,134.38h0.84M487.25,123.85h0.84M477.93,142.92h0.84M493.35,144.59h0.84M477.04,143.21h0.84M493.05,142.68h0.84M487.52,140.02h0.84M476.49,143.09h0.84M479.32,144.43h0.84M478.99,142.49h0.84M489.02,127.44h0.84M491.3,131.85h0.84M483.75,142.74h0.84M488.91,125.13h0.84M487.74,143.81h0.84M493.81,143.97h0.84M481.62,135.98h0.84M479.34,137.75h0.84M484.88,131.56h0.84M492.76,135.25h0.84M481.76,139.27h0.84M492.6,138.15h0.84M478.26,142.03h0.84M492.04,119.25h0.84M485.44,140.97h0.84M491.7,120.74h0.84M485.87,133.24h0.84M487.03,140.51h0.84M489.78,125.69h0.84M479.79,142.5h0.84M477.62,135.37h0.84M479.3,140.17h0.84M481.71,129.94h0.84M480.84,127.29h0.84M479.95,127.58h0.84M493.08,136.28h0.84M488.87,139.2h0.84M493.83,136h0.84M476.99,138.79h0.84M494.31,136.53h0.84M492.02,134.16h0.84M493.26,119.42h0.84M483.61,136.63h0.84M480.07,131.12h0.84M478.32,144.33h0.84M490.38,126.05h0.84M482.46,142.33h0.84M482.35,130.8h0.84M492.38,138.29h0.84M484.35,134.89h0.84M483.68,132.59h0.84M486.77,134.64h0.84M484.58,140.46h0.84M493.09,128.68h0.84M487.1,136.8h0.84M481.91,139.86h0.84M476.51,142.82h0.84M495.22,139.68h0.84M483.23,142.52h0.84M495.14,139.57h0.84M493.54,132.94h0.84M485.08,138.25h0.84M481.88,127.24h0.84M490.78,137.82h0.84M478.41,141.66h0.84M477.67,142.67h0.84M477.07,141.92h0.84M487.71,132.02h0.84M492.12,142.04h0.84M489.26,135.59h0.84M495.14,142.9h0.84M477.99,143.02h0.84M490.82,134.55h0.84M490.46,139.55h0.84M490.67,136.31h0.84M486.77,140.83h0.84M479.37,139.61h0.84M483.34,144.04h0.84M481.64,136.33h0.84M495.17,136.44h0.84M492.08,143.21h0.84M494.62,139.96h0.84M487.68,119.16h0.84M477.4,144.79h0.84M491.48,142.99h0.84M489.07,126.38h0.84M485.24,143.51h0.84M487.86,141.15h0.84M480.84,125.4h0.84M494.43,141.2h0.84M483.11,133.45h0.84M493.85,143.54h0.84M494.67,142.11h0.84M487.79,132.42h0.84M480.23,134.44h0.84M484.59,139.16h0.84M486.65,141.51h0.84M482.49,137.65h0.84M478.04,141.39h0.84M495.51,141.58h0.84M488.35,130.3h0.84M486.71,130.57h0.84M478.52,141.72h0.84M486.91,138.96h0.84M492.39,137.65h0.84M480.01,143.63h0.84M493.87,130.63h0.84M480.48,143.11h0.84M479.1,142.37h0.84M492,144.41h0.84M480.18,142.55h0.84M494.32,143.42h0.84M481.82,141.13h0.84M478.03,144.2h0.84M488.75,136h0.84M477.31,137.36h0.84M478.6,143h0.84M488.04,131.75h0.84M491.06,135.81h0.84M486.58,140.47h0.84M493.26,143.6h0.84M480.3,135.57h0.84M492.28,137.76h0.84M485.47,143.74h0.84M493.69,142.35h0.84M480.32,127.52h0.84M487.28,142.66h0.84M478.73,137.46h0.84M480.09,138.84h0.84M483.6,140.29h0.84M487.58,144.7h0.84M487.78,144.62h0.84M481.98,129.9h0.84M483.01,131.14h0.84M495.98,143.33h0.84M477.53,136.73h0.84M484.56,137.57h0.84M493.26,139.32h0.84M489.91,135h0.84M487.85,129.08h0.84M479.86,138.47h0.84M496.47,142.71h0.84M487.84,141.15h0.84M482.5,136.68h0.84M494.01,129.34h0.84M492.53,136.96h0.84M491.31,135.64h0.84M484.68,137.12h0.84M493.44,142.77h0.84M482.09,143.39h0.84M495.59,139.79h0.84M484.93,136.66h0.84M486.6,144.47h0.84M490.81,123.03h0.84M478.56,140.58h0.84M488.92,141.14h0.84M488.22,126.54h0.84M480.14,137.63h0.84M480.19,137.44h0.84M478.39,128.03h0.84M483.88,141.83h0.84M489.25,138.7h0.84M478.43,136.49h0.84M480.3,136.86h0.84M492.79,139.91h0.84M479.47,123.76h0.84M477.13,136.6h0.84M489.69,137.75h0.84M483.61,140.32h0.84M494.71,141.89h0.84M484.24,143.04h0.84M492.15,139.25h0.84M486.07,144.12h0.84M486.29,142.56h0.84M490.32,137.76h0.84M479.04,121.78h0.84M491.93,128.98h0.84M489.38,131.47h0.84M490.75,133.44h0.84M479,136.4h0.84M486.82,144.59h0.84M490.55,135.16h0.84M487.01,143.29h0.84M494.48,144.02h0.84M492.18,133.44h0.84M487.91,141.61h0.84M495.74,136.7h0.84M486.87,135.07h0.84M483.33,144.71h0.84M493.44,137.47h0.84M480.06,144.5h0.84M491.72,139.29h0.84M487.46,141.48h0.84M496.07,140.82h0.84M478.15,134.37h0.84M482.94,129.16h0.84M494.47,135.88h0.84M488.11,140.97h0.84M481.36,130.89h0.84M490.61,143.02h0.84M486.38,136.39h0.84M487.75,129.53h0.84M480.17,138.71h0.84M477.24,140.47h0.84M494.85,144.69h0.84M489.61,135.89h0.84M496.11,144.19h0.84M486.45,138.78h0.84M482.11,137.58h0.84M477.78,138.86h0.84M487.6,138.39h0.84M492.09,141.87h0.84M494.13,131.37h0.84M484.15,138.18h0.84M481.91,141.83h0.84M481.4,139.13h0.84M495.33,142.9h0.84M490.1,142.72h0.84M487.14,138.62h0.84M494.57,138h0.84M491.56,144.56h0.84M487.16,138.9h0.84M492,142.58h0.84M489.7,138.54h0.84M491.57,142.83h0.84M483.12,144.27h0.84M490.36,136.54h0.84M479.59,143.97h0.84M477.3,142.87h0.84M486.51,133.5h0.84M491.65,139.59h0.84M481.37,134.54h0.84M494.25,141.61h0.84M485.82,144.58h0.84M489.88,144.33h0.84M493.88,141.71h0.84M492.47,141.88h0.84M489.39,136.85h0.84M482.04,142.45h0.84M479.86,144.79h0.84M487.88,138.99h0.84M488.04,126.44h0.84M484.61,133.64h0.84M480.66,132.22h0.84M495.05,142.13h0.84M489.97,139.75h0.84M490.1,136.16h0.84M476.82,143.55h0.84M487.12,143.06h0.84M487.13,139.77h0.84M477.83,143.89h0.84M480.96,139.72h0.84M479.47,144.26h0.84M488.86,141.41h0.84M493.91,141.63h0.84M489.03,138.72h0.84M483.23,135.98h0.84M492.94,134.75h0.84" stroke="#333" stroke-width="0.84" opacity="1.0" fill="none"/>
<path d="M481.52,133.24h0.84M483.41,140.21h0.84M481.45,134.06h0.84M485.33,123.2h0.84M489.19,130.1h0.84M485.62,125.96h0.84M493.94,127.16h0.84M488.17,120.53h0.84M492.28,138.92h0.84M495.55,133.58h0.84M492.3,127.32h0.84M480.94,137.45h0.84M483.39,131.23h0.84M477.63,120.98h0.84M484.61,139.75h0.84M485.41,139.88h0.84M483.05,133.33h0.84M484.09,135.71h0.84M480.69,133.51h0.84M492.8,126.53h0.84M484.42,120.55h0.84M477.08,135.76h0.84M485.42,126.35h0.84M483.89,138.18h0.84M480.24,127.02h0.84M490.44,129.03h0.84M484.83,142.33h0.84M492,121.96h0.84M488.73,125.91h0.84M495.44,136.89h0.84M483.31,130.07h0.84M477.45,141.4h0.84M480.3,122.28h0.84M491.53,119.54h0.84M480.52,139.64h0.84M488.33,123.12h0.84M478.93,126.4h0.84M493.47,124.15h0.84M484.25,130.27h0.84M482.42,142.4h0.84M494.13,131.58h0.84M490.49,137.71h0.84M488.51,123.11h0.84M494.45,132.87h0.84M492.52,124.78h0.84M476.86,124.74h0.84M494.53,127.01h0.84M480.59,129.03h0.84M490.96,137.54h0.84M482.6,121.72h0.84M482.51,125.84h0.84M484.99,144.04h0.84M476.84,128.37h0.84M493.25,119.64h0.84M481.92,141.45h0.84M489.17,119.26h0.84M479.53,128.83h0.84M478.61,137.41h0.84M477.06,143.3h0.84M486.23,142.02h0.84M484.87,143.16h0.84M490.81,134.34h0.84M485.17,143.95h0.84M486.64,125.09h0.84M487.85,127.36h0.84M479.55,135.89h0.84M484.06,135.22h0.84M493.04,140.19h0.84M496.07,122.27h0.84M486.25,128.67h0.84M482.81,135.19h0.84M493.43,121.34h0.84M487.43,132.07h0.84M477.51,141.65h0.84M479.86,119.73h0.84M489.26,140.56h0.84M479.11,137.58h0.84M487.06,130.14h0.84M495.64,124.68h0.84M486.86,139.22h0.84M485.6,128.24h0.84M492.4,135.24h0.84M486.98,122.4h0.84M493.12,138.67h0.84M476.94,142.68h0.84M493.23,142.76h0.84M479.95,144.31h0.84M480.98,120.71h0.84M487.82,139.96h0.84M490.1,125.34h0.84M479.89,121.86h0.84M492.27,139.52h0.84M486.13,142.11h0.84M491.42,120.84h0.84M483.71,124.43h0.84M483.71,131.29h0.84M487.17,141.36h0.84M489.63,130.99h0.84M491.78,120.31h0.84M483.29,137.9h0.84M488.83,143.61h0.84M481.73,123.19h0.84M490.47,140.28h0.84M484.61,143.69h0.84M494.86,129.84h0.84M491.01,140.52h0.84M478.19,135.41h0.84M489.22,144.26h0.84M484.16,136.37h0.84M483.06,126.57h0.84M480.81,137.27h0.84M490.45,127.67h0.84M493.42,128.18h0.84M485.42,119.2h0.84M486.46,121.17h0.84M483.23,123.86h0.84M492.61,136.28h0.84M496.03,132.42h0.84M485.55,129.31h0.84M485.51,134.79h0.84M480.42,127.28h0.84M482.3,127.55h0.84M484.4,134.78h0.84M484.81,138.33h0.84M479.97,138.09h0.84M483.74,133.31h0.84M477.88,144.26h0.84M482.22,144.56h0.84M489.55,143h0.84M494.49,126.7h0.84M480.96,138.18h0.84M490.42,121.88h0.84M481.21,144.58h0.84M495.31,133.77h0.84M481.57,120.9h0.84M477.67,122.37h0.84M495.32,135.72h0.84M483.48,136.61h0.84M480.77,128.63h0.84M485.62,130.57h0.84M493.25,139.92h0.84M484.42,139.22h0.84M485.69,138.53h0.84M489.47,128.82h0.84M477.15,128.08h0.84M494.48,136.03h0.84M490.67,121.55h0.84M488.29,136.48h0.84M483.7,136.78h0.84M495.71,138.81h0.84" stroke="#555" stroke-width="0.84" opacity="1.0" fill="none"/>
<rect x="474.5" y="112.1" width="25.2" height="32.7" fill="none" stroke="#333" stroke-width="0.9"/>
<path d="M440.3,163.2 h-2.4 M440.3,159.16 h-1.4 M440.3,156.79 h-1.4 M440.3,155.12 h-1.4 M440.3,153.82 h-1.4 M440.3,152.75 h-1.4 M440.3,151.85 h-1.4 M440.3,151.08 h-1.4 M440.3,150.39 h-1.4 M440.3,149.77 h-2.4 M440.3,145.73 h-1.4 M440.3,143.37 h-1.4 M440.3,141.69 h-1.4 M440.3,140.39 h-1.4 M440.3,139.33 h-1.4 M440.3,138.43 h-1.4 M440.3,137.65 h-1.4 M440.3,136.96 h-1.4 M440.3,136.35 h-2.4 M440.3,132.31 h-1.4 M440.3,129.94 h-1.4 M440.3,128.27 h-1.4 M440.3,126.97 h-1.4 M440.3,125.9 h-1.4 M440.3,125 h-1.4 M440.3,124.23 h-1.4 M440.3,123.54 h-1.4 M440.3,122.92 h-2.4 M440.3,118.88 h-1.4 M440.3,116.52 h-1.4 M440.3,114.84 h-1.4 M440.3,113.54 h-1.4 M440.3,112.48 h-1.4 M440.3,111.58 h-1.4 M440.3,110.8 h-1.4 M440.3,110.11 h-1.4 M440.3,109.5 h-2.4" stroke="#222" stroke-width="0.8" fill="none"/>
<line x1="440.1" y1="109.5" x2="440.1" y2="163.2" stroke="#111" stroke-width="1.1"/>
<path d="M440.3,163.2 v2.2 M445.64,163.2 v1.3 M448.76,163.2 v1.3 M450.97,163.2 v1.3 M452.69,163.2 v1.3 M454.09,163.2 v1.3 M455.28,163.2 v1.3 M456.31,163.2 v1.3 M457.21,163.2 v1.3 M458.02,163.2 v2.2 M463.36,163.2 v1.3 M466.48,163.2 v1.3 M468.7,163.2 v1.3 M470.41,163.2 v1.3 M471.82,163.2 v1.3 M473,163.2 v1.3 M474.03,163.2 v1.3 M474.94,163.2 v1.3 M475.75,163.2 v2.2 M481.09,163.2 v1.3 M484.21,163.2 v1.3 M486.42,163.2 v1.3 M488.14,163.2 v1.3 M489.54,163.2 v1.3 M490.73,163.2 v1.3 M491.76,163.2 v1.3 M492.66,163.2 v1.3 M493.48,163.2 v2.2 M498.81,163.2 v1.3 M501.93,163.2 v1.3 M504.15,163.2 v1.3 M505.86,163.2 v1.3 M507.27,163.2 v1.3 M508.45,163.2 v1.3 M509.48,163.2 v1.3 M510.39,163.2 v1.3 M511.2,163.2 v2.2" stroke="#000" stroke-width="0.9" fill="none"/>
<line x1="439.8" y1="163.5" x2="511.7" y2="163.5" stroke="#000" stroke-width="1.6"/>
<text transform="translate(435.3,162.9) rotate(-90)" x="0" y="0" text-anchor="middle" font-size="7.2" fill="#111" stroke="#111" stroke-width="0.12">10<tspan font-size="6.2" dy="-3.3">0</tspan></text>
<text transform="translate(435.3,149.47) rotate(-90)" x="0" y="0" text-anchor="middle" font-size="7.2" fill="#111" stroke="#111" stroke-width="0.12">10<tspan font-size="6.2" dy="-3.3">1</tspan></text>
<text transform="translate(435.3,136.05) rotate(-90)" x="0" y="0" text-anchor="middle" font-size="7.2" fill="#111" stroke="#111" stroke-width="0.12">10<tspan font-size="6.2" dy="-3.3">2</tspan></text>
<text transform="translate(435.3,122.62) rotate(-90)" x="0" y="0" text-anchor="middle" font-size="7.2" fill="#111" stroke="#111" stroke-width="0.12">10<tspan font-size="6.2" dy="-3.3">3</tspan></text>
<text transform="translate(435.3,109.2) rotate(-90)" x="0" y="0" text-anchor="middle" font-size="7.2" fill="#111" stroke="#111" stroke-width="0.12">10<tspan font-size="6.2" dy="-3.3">4</tspan></text>
<text x="441.5" y="173.9" text-anchor="middle" font-size="7.1" fill="#111" stroke="#111" stroke-width="0.12">10<tspan font-size="5.9" dy="-3">0</tspan></text>
<text x="459.22" y="173.9" text-anchor="middle" font-size="7.1" fill="#111" stroke="#111" stroke-width="0.12">10<tspan font-size="5.9" dy="-3">1</tspan></text>
<text x="476.95" y="173.9" text-anchor="middle" font-size="7.1" fill="#111" stroke="#111" stroke-width="0.12">10<tspan font-size="5.9" dy="-3">2</tspan></text>
<text x="494.68" y="173.9" text-anchor="middle" font-size="7.1" fill="#111" stroke="#111" stroke-width="0.12">10<tspan font-size="5.9" dy="-3">3</tspan></text>
<text x="512.4" y="173.9" text-anchor="middle" font-size="7.1" fill="#111" stroke="#111" stroke-width="0.12">10<tspan font-size="5.9" dy="-3">4</tspan></text>
<text transform="translate(472.9,125.45) scale(0.94,1)" font-size="11.8" text-anchor="end" font-weight="normal" fill="#111" stroke="#111" stroke-width="0.3" >3.1</text>
<rect x="440.3" y="183.6" width="70.9" height="54" fill="none" stroke="#222" stroke-width="1.0"/>
<rect x="477.3" y="219.8" width="18.3" height="17.8" fill="#4a4a4a"/>
<path d="M489.81,218.42h0.84M489.46,219.65h0.84M486.22,214.26h0.84M485,218.79h0.84M478.24,218.57h0.84M491.79,218.54h0.84M477.88,210.06h0.84M478.42,209.29h0.84M488.96,215.09h0.84M494.19,219.71h0.84M494.69,219.3h0.84M480.84,218.01h0.84M492.71,215.31h0.84M479.99,219.34h0.84M480.6,212.36h0.84M485.75,216.24h0.84M488.02,218.45h0.84M487.12,216.66h0.84M495.02,219.48h0.84M486.46,210.19h0.84M483.86,212.33h0.84M485.73,219.79h0.84M480.28,215.38h0.84M490.73,212.26h0.84M480.01,217.22h0.84M486.19,204.21h0.84M478.48,214.98h0.84M490.91,216.41h0.84M484.07,205.09h0.84M492.17,216.08h0.84M480.19,211.58h0.84M486.28,206.14h0.84M493.63,212.1h0.84M490.23,197.62h0.84M480.64,216.63h0.84M478.22,219.77h0.84M488.37,213.36h0.84M495.27,208.07h0.84M484.54,219.78h0.84M489.86,199.21h0.84M494.43,199.38h0.84M484.78,208.98h0.84M478.98,208.26h0.84M478.37,218.08h0.84M494.92,219.6h0.84M481.23,209.01h0.84M488.15,214.61h0.84M488.66,195.02h0.84M494.06,211.01h0.84M485.09,210.7h0.84M481.61,214.88h0.84M492.82,193.86h0.84M488.81,218.64h0.84M495.88,211.93h0.84M491.83,212.3h0.84M489.56,209.9h0.84M485.96,217.39h0.84M476.75,214.46h0.84M493.12,219.61h0.84M483.63,217.11h0.84M491.15,213.91h0.84M495.15,205.55h0.84M491.36,219.7h0.84M480.94,201.79h0.84M483.34,217.99h0.84M483.3,217.85h0.84M482.5,218.82h0.84M489.78,206.32h0.84M490.43,204.99h0.84M482.02,217.89h0.84M484.64,201.62h0.84M483.07,212.55h0.84M481.71,215.76h0.84M489.06,198.32h0.84M492.54,216.92h0.84M490.93,219.69h0.84M495.6,215.19h0.84M495.45,218.11h0.84M494.13,198.74h0.84M492.22,217.91h0.84M483.81,219.78h0.84M491.12,210.53h0.84M495.98,218.19h0.84M482.11,214.25h0.84M483.73,209.89h0.84M476.69,219.71h0.84M493.96,208.27h0.84M492.13,211.76h0.84M478.97,216.47h0.84M485.37,218.64h0.84M482.33,216.18h0.84M483.39,219.04h0.84M485.25,217.35h0.84M494.29,204.65h0.84M482.92,212.02h0.84M488.07,219.12h0.84M490.47,197.5h0.84M490.22,206.07h0.84M477.9,209.49h0.84M483.53,213.49h0.84M492.24,204.06h0.84M480.89,202.65h0.84M485.67,200.68h0.84M491.73,207.41h0.84M486.28,218.21h0.84M495.71,218.71h0.84M478.58,214.98h0.84M482.12,219.03h0.84M476.96,217.39h0.84M478.18,210.71h0.84M492.4,213.49h0.84M487.04,204.72h0.84M488.86,218.85h0.84M481.6,219.56h0.84M490.71,219.27h0.84M479.48,215.51h0.84M480.56,215.94h0.84M477.53,219.13h0.84M493.57,195.6h0.84M483.09,216.3h0.84M482.93,201.46h0.84M484.94,216.8h0.84M481.19,216.13h0.84M494.53,214.47h0.84M482.69,203.31h0.84M477.9,211.2h0.84M492.54,204.97h0.84M491.17,219.67h0.84M480.36,213.39h0.84M484.14,211.69h0.84M479.61,217.77h0.84M493.22,200.53h0.84M494.23,210.18h0.84M478.5,206.11h0.84M481.51,204.89h0.84M484.86,208.66h0.84M488.93,218.37h0.84M492.75,211.35h0.84M493.91,209.71h0.84M494.58,209.96h0.84M487.84,205.9h0.84M490.83,205.87h0.84M493.21,201.71h0.84M491.36,217.37h0.84M493.23,219.47h0.84M488.86,208.52h0.84M482.25,216.11h0.84M477.07,216.99h0.84M491.85,218.14h0.84M476.95,216.3h0.84M492.2,215.25h0.84M492.25,219.43h0.84M481.22,202.31h0.84M493.39,213.41h0.84M487.67,218.91h0.84M494.82,208.45h0.84M495.09,215.91h0.84M477.66,209.36h0.84M481.37,213.58h0.84M492.38,210.14h0.84M487.03,213.84h0.84M479.96,208.97h0.84M486.74,218.19h0.84M483.57,212.86h0.84M484.19,217.51h0.84M478.51,219.26h0.84M488.63,216.51h0.84M492.1,201.66h0.84M484.2,217.22h0.84M483.27,204.37h0.84M494.16,211.34h0.84M489.06,214.27h0.84M494.72,202.88h0.84M492.99,211.16h0.84M480.99,212.22h0.84M490.36,213.04h0.84M479.64,216.59h0.84M480.17,211.03h0.84M489.25,216.38h0.84M476.98,217.95h0.84M480.98,219.18h0.84M495.63,214.02h0.84M482.28,219.69h0.84M490.96,219.39h0.84M490.33,208.63h0.84M493.5,219.57h0.84M480.98,209.37h0.84M480.05,205.92h0.84M491.73,205.64h0.84M484.05,195.23h0.84M480.82,211.42h0.84M486.79,199.22h0.84M490.29,217.28h0.84M486.98,210.85h0.84M492.09,207h0.84M483.81,204.66h0.84M492.67,219.16h0.84M495.12,219.76h0.84M487.97,205.02h0.84M489.42,200.51h0.84M487.95,218.86h0.84M482.39,219.31h0.84M482.05,205h0.84M490.86,215.01h0.84M479.4,217.09h0.84M484.82,205.42h0.84M483.95,216.98h0.84M494.52,219.4h0.84M487.22,215.07h0.84M482.2,208.67h0.84M485.22,219.27h0.84M477.47,219.47h0.84M482.1,215.96h0.84M490.25,219.42h0.84M481.45,215.97h0.84M482.47,217.49h0.84M494.69,215.84h0.84M482.01,214.73h0.84M487.95,213.02h0.84M496.6,219.57h0.84M478.72,211.34h0.84M484.79,210.79h0.84M492.52,216.82h0.84M491.9,218.02h0.84M488.89,215.15h0.84M490.78,218.13h0.84M479.31,217.75h0.84M478.36,209.23h0.84M479.74,206.45h0.84M493.72,206.92h0.84M481.3,197.23h0.84M490.31,216.36h0.84M478.18,215.21h0.84M494.5,219.7h0.84M491.81,215.05h0.84M493.58,219.64h0.84M496.23,218.59h0.84M493.58,208.8h0.84M496.27,215.03h0.84M478.45,215.36h0.84M477.85,212.03h0.84M490.93,207.77h0.84M488.04,206.85h0.84M481.42,216.31h0.84M490.14,219.74h0.84M489.42,208.06h0.84M483.9,198.29h0.84M478.55,205.11h0.84M495.63,210.56h0.84M487.31,212.13h0.84M478.51,215.76h0.84M492.58,218.83h0.84M492.44,195.21h0.84M483.97,216.82h0.84M491.91,208.25h0.84M477.84,216.88h0.84M490.41,214.14h0.84M494.65,202.16h0.84M490.71,201.02h0.84M481.93,215.46h0.84M484.8,197.11h0.84M489.35,199.99h0.84M495.69,209.59h0.84M485.28,207.17h0.84M490.67,219.52h0.84M479.77,194.57h0.84M483.26,213.78h0.84M477.2,217.61h0.84M483.39,214.56h0.84M486.27,201.03h0.84M483.36,209.09h0.84M478.55,206.69h0.84M479.74,216.03h0.84M484.82,209.94h0.84M488.36,208.41h0.84M482.24,207.33h0.84M484.94,195.12h0.84M495.47,217.35h0.84M484.7,216.14h0.84M486.2,202.64h0.84M486.44,219.22h0.84M495.01,216.68h0.84M479.99,214.53h0.84M485.84,216.69h0.84M492.87,219.54h0.84M487.08,210.53h0.84M483.1,219.36h0.84M484.19,210.57h0.84M481.35,201.19h0.84M489.67,209.75h0.84M492.5,203.67h0.84M491.18,219.54h0.84M478.82,201.73h0.84M491.65,206.74h0.84M490.98,207.19h0.84M484.29,207.46h0.84M483.03,196.78h0.84M495.96,219.33h0.84M479.11,219.03h0.84M482.05,213.33h0.84M487.28,205.9h0.84M490.31,210.7h0.84M494.91,218.03h0.84M491.86,214.91h0.84M478.19,215.75h0.84M493.92,218.02h0.84M495.26,209.36h0.84M477.45,214.35h0.84M482.98,202.81h0.84M494.07,215.6h0.84M487.07,206.83h0.84M476.72,216.36h0.84M491.98,218.9h0.84M494.65,200.14h0.84M479.45,217.18h0.84M488.77,210.86h0.84M488.68,216.07h0.84M477.56,215.3h0.84M494.46,200.68h0.84M494.38,195.42h0.84M479.14,216.1h0.84M492.75,215.22h0.84M483.57,214.33h0.84M477.19,215.61h0.84M492.62,205.81h0.84M488.13,216.06h0.84M478.05,211.97h0.84M493.62,214.73h0.84M485.26,204.74h0.84M484.62,217.67h0.84M495.35,211.62h0.84M487.31,216.42h0.84M493.02,219.51h0.84M494.01,200.23h0.84M488.23,208.99h0.84M493.56,217.73h0.84M481.1,209.9h0.84M491.15,213.47h0.84M490,215.86h0.84M495.57,216.68h0.84M484.01,204.51h0.84M480.15,216h0.84M484.82,219.54h0.84M493.34,203.91h0.84M487.36,207.64h0.84M482.96,211.56h0.84M486.51,217.43h0.84M490.9,211.69h0.84M478.99,211.82h0.84M490.06,204.9h0.84M485.31,210.29h0.84M494.01,216.24h0.84M492.68,218.45h0.84M491.11,202.61h0.84M477.88,211.94h0.84M487.22,219.04h0.84M477.5,217.75h0.84M483.7,212.96h0.84M479.84,218.19h0.84M486.31,216.47h0.84M480.77,217.18h0.84M483.15,207.63h0.84M491.23,210.63h0.84M491.58,216.41h0.84M484,203h0.84M477.37,215.68h0.84M477.75,216.4h0.84M488.13,219.21h0.84M495.58,214.34h0.84M486.69,199.15h0.84M485.78,219.66h0.84M493.33,211.3h0.84M484.09,211.88h0.84M480.88,218.65h0.84M495.4,215.41h0.84M476.53,216.87h0.84M487.13,212.53h0.84M481.8,209.88h0.84M495.2,215.5h0.84M490,218.12h0.84M487.46,214.7h0.84M478.93,212.96h0.84M494.89,215.13h0.84" stroke="#333" stroke-width="0.84" opacity="1.0" fill="none"/>
<path d="M482.98,204.79h0.84M495.12,195.88h0.84M487.78,207.76h0.84M493.24,195.44h0.84M478.33,215.87h0.84M486.59,204h0.84M481.41,200.94h0.84M484.77,199.92h0.84M483.2,198.74h0.84M487.62,198.34h0.84M479.3,209.23h0.84M485.45,197.68h0.84M483.02,207.73h0.84M490.09,216.51h0.84M481.56,212.84h0.84M483.44,207.56h0.84M481.78,204.63h0.84M495.11,202.41h0.84M478.58,199.91h0.84M480.38,204.32h0.84M493.87,219.47h0.84M484.04,207.83h0.84M491.4,200.96h0.84M478.25,200.43h0.84M479.47,205.03h0.84M488.52,205.23h0.84M479.94,202.43h0.84M481.44,207.82h0.84M483.85,212.91h0.84M488.92,211.84h0.84M479.94,212.53h0.84M477.98,207.13h0.84M484.37,215.3h0.84M489.92,195.41h0.84M492.53,208.61h0.84M487.82,215.34h0.84M483.02,212.72h0.84M494.84,218.66h0.84M482.84,196.96h0.84M491.75,210.74h0.84M491.62,214.16h0.84M489.65,203.88h0.84M487.08,199.88h0.84M480.8,205h0.84M487.82,215.12h0.84M476.88,199.17h0.84M495.33,214.1h0.84M486.99,213.07h0.84M486.08,207.81h0.84M495.31,206.94h0.84M493.46,218.34h0.84M482.48,196.72h0.84M495.02,194.91h0.84M494.59,207.06h0.84M480,195.44h0.84M485.13,200.01h0.84M484.27,196.72h0.84M487.63,218.37h0.84M489.48,206.67h0.84M484.63,200.09h0.84M489.7,201.87h0.84M488.89,198.11h0.84M486.5,203.01h0.84M477.23,198.04h0.84M481.86,215.56h0.84M484.11,208.09h0.84M490.71,196.05h0.84M483.79,215.83h0.84M481.68,205.2h0.84M477.51,194.08h0.84M490.59,213.36h0.84M483.95,210.79h0.84M487,206.55h0.84M493.92,204.24h0.84M489.59,212.61h0.84M481.5,219.13h0.84M482.18,206.51h0.84M488.91,217.05h0.84M492.96,207.78h0.84M480.25,199.57h0.84M484.88,212.2h0.84M480.75,214.12h0.84M479.03,196.55h0.84M490.29,198.92h0.84M484.61,196.3h0.84M484.76,194.19h0.84M493.22,202.16h0.84M476.98,206.29h0.84M481.18,208.62h0.84M477.76,206.38h0.84M477.09,215.19h0.84M487.1,197.9h0.84M483.04,218.63h0.84M490.02,213.34h0.84M480.47,194.56h0.84M479.24,194.72h0.84M491.1,196.1h0.84M477.7,209.53h0.84M487.5,208.21h0.84M477.72,200h0.84M495.01,211.15h0.84M494.18,202.23h0.84M477.8,214.17h0.84M495.18,212.67h0.84M487.58,199.43h0.84M491.19,195.06h0.84M493.23,209.52h0.84M485.58,195.45h0.84M485.68,208.33h0.84M483.25,210.98h0.84M488.73,197.18h0.84M477.31,213.67h0.84M490.1,203.88h0.84M491.06,209.95h0.84M490.25,206.96h0.84M488.84,212.18h0.84M483.01,206.31h0.84M490.07,207.08h0.84M484.26,205.71h0.84M489.31,197.41h0.84M481.63,209.97h0.84M481.89,193.84h0.84M489.46,204.31h0.84M480.07,213.9h0.84M493.05,215.97h0.84M492.78,215.66h0.84M487.52,212.93h0.84M481.79,218.98h0.84M483.43,219.51h0.84M479.61,203.91h0.84M491.32,211.15h0.84M495.44,197.37h0.84M479,209.96h0.84M478.11,201.96h0.84M485.2,216.46h0.84M495.75,196.78h0.84M480.76,197.51h0.84M480.72,210.36h0.84M484.55,208.08h0.84M483.27,209.73h0.84M481.91,209h0.84M487.97,194.43h0.84M478.82,209.12h0.84M478.46,204.87h0.84M486.34,198.42h0.84M495.28,215.17h0.84M480.55,212.73h0.84M481.18,210.61h0.84M481.13,204.21h0.84M478.35,197.43h0.84M478.61,193.21h0.84M482.95,216.35h0.84M482.3,205.7h0.84M488.22,206.08h0.84M479.91,201.05h0.84M494.53,204.31h0.84M487.86,209.85h0.84M492.45,204.95h0.84M479.19,215.01h0.84M492.71,198.32h0.84M484.69,196.46h0.84M483.19,215.89h0.84M493.93,198.46h0.84M485.33,201.39h0.84M482.45,212.85h0.84M484.55,193.97h0.84M488.27,207.01h0.84M481.45,201.77h0.84M486.55,218.14h0.84M483.13,207.21h0.84M479.2,206.88h0.84M477.26,210.34h0.84M492.84,214.49h0.84M494.3,200.97h0.84M482.28,193.85h0.84M491.67,208.87h0.84M484.69,205.09h0.84M483.57,198.83h0.84M482.32,212.33h0.84M483.17,212.73h0.84M483.65,219.26h0.84M479.02,218.38h0.84M492.83,199.45h0.84M485.01,203.44h0.84M480.48,213.06h0.84M484.78,193.69h0.84M486.04,215.09h0.84M491.4,210.64h0.84M479.88,201.39h0.84M486.49,216.57h0.84M491.69,205.6h0.84M492.66,199.52h0.84M479.66,214.79h0.84M483.85,217.56h0.84M490.47,197.08h0.84M483.34,218.36h0.84M489.64,197.67h0.84M481.84,211.46h0.84M483.05,206.27h0.84M478.16,216.38h0.84M489.3,219.56h0.84M482.45,195.9h0.84M478.4,205.31h0.84M481.84,216.2h0.84M480.23,203.98h0.84M484.03,197.77h0.84M495.41,206.06h0.84M494.71,194.37h0.84M493.13,197.92h0.84M492.39,215.89h0.84M494.45,215.41h0.84M480.01,214.63h0.84M486.47,194.79h0.84M492.1,210.55h0.84M495.12,205.26h0.84M488.67,210.95h0.84M479.35,202.25h0.84M483.51,201.07h0.84M480.39,217.87h0.84M491.71,211.56h0.84M492.46,210.01h0.84M484.46,206.79h0.84M476.71,201.07h0.84M494.8,204.9h0.84M493.94,216.9h0.84M494.92,215.81h0.84M491.34,195.85h0.84M496.09,214.12h0.84M482.05,211.01h0.84M479.17,210.6h0.84" stroke="#555" stroke-width="0.84" opacity="1.0" fill="none"/>
<rect x="474.5" y="186.2" width="25.2" height="33.6" fill="none" stroke="#333" stroke-width="0.9"/>
<path d="M440.3,237.6 h-2.4 M440.3,233.54 h-1.4 M440.3,231.16 h-1.4 M440.3,229.47 h-1.4 M440.3,228.16 h-1.4 M440.3,227.09 h-1.4 M440.3,226.19 h-1.4 M440.3,225.41 h-1.4 M440.3,224.72 h-1.4 M440.3,224.1 h-2.4 M440.3,220.04 h-1.4 M440.3,217.66 h-1.4 M440.3,215.97 h-1.4 M440.3,214.66 h-1.4 M440.3,213.59 h-1.4 M440.3,212.69 h-1.4 M440.3,211.91 h-1.4 M440.3,211.22 h-1.4 M440.3,210.6 h-2.4 M440.3,206.54 h-1.4 M440.3,204.16 h-1.4 M440.3,202.47 h-1.4 M440.3,201.16 h-1.4 M440.3,200.09 h-1.4 M440.3,199.19 h-1.4 M440.3,198.41 h-1.4 M440.3,197.72 h-1.4 M440.3,197.1 h-2.4 M440.3,193.04 h-1.4 M440.3,190.66 h-1.4 M440.3,188.97 h-1.4 M440.3,187.66 h-1.4 M440.3,186.59 h-1.4 M440.3,185.69 h-1.4 M440.3,184.91 h-1.4 M440.3,184.22 h-1.4 M440.3,183.6 h-2.4" stroke="#222" stroke-width="0.8" fill="none"/>
<line x1="440.1" y1="183.6" x2="440.1" y2="237.6" stroke="#111" stroke-width="1.1"/>
<path d="M440.3,237.6 v2.2 M445.64,237.6 v1.3 M448.76,237.6 v1.3 M450.97,237.6 v1.3 M452.69,237.6 v1.3 M454.09,237.6 v1.3 M455.28,237.6 v1.3 M456.31,237.6 v1.3 M457.21,237.6 v1.3 M458.02,237.6 v2.2 M463.36,237.6 v1.3 M466.48,237.6 v1.3 M468.7,237.6 v1.3 M470.41,237.6 v1.3 M471.82,237.6 v1.3 M473,237.6 v1.3 M474.03,237.6 v1.3 M474.94,237.6 v1.3 M475.75,237.6 v2.2 M481.09,237.6 v1.3 M484.21,237.6 v1.3 M486.42,237.6 v1.3 M488.14,237.6 v1.3 M489.54,237.6 v1.3 M490.73,237.6 v1.3 M491.76,237.6 v1.3 M492.66,237.6 v1.3 M493.48,237.6 v2.2 M498.81,237.6 v1.3 M501.93,237.6 v1.3 M504.15,237.6 v1.3 M505.86,237.6 v1.3 M507.27,237.6 v1.3 M508.45,237.6 v1.3 M509.48,237.6 v1.3 M510.39,237.6 v1.3 M511.2,237.6 v2.2" stroke="#000" stroke-width="0.9" fill="none"/>
<line x1="439.8" y1="237.9" x2="511.7" y2="237.9" stroke="#000" stroke-width="1.6"/>
<text transform="translate(435.3,237.3) rotate(-90)" x="0" y="0" text-anchor="middle" font-size="7.2" fill="#111" stroke="#111" stroke-width="0.12">10<tspan font-size="6.2" dy="-3.3">0</tspan></text>
<text transform="translate(435.3,223.8) rotate(-90)" x="0" y="0" text-anchor="middle" font-size="7.2" fill="#111" stroke="#111" stroke-width="0.12">10<tspan font-size="6.2" dy="-3.3">1</tspan></text>
<text transform="translate(435.3,210.3) rotate(-90)" x="0" y="0" text-anchor="middle" font-size="7.2" fill="#111" stroke="#111" stroke-width="0.12">10<tspan font-size="6.2" dy="-3.3">2</tspan></text>
<text transform="translate(435.3,196.8) rotate(-90)" x="0" y="0" text-anchor="middle" font-size="7.2" fill="#111" stroke="#111" stroke-width="0.12">10<tspan font-size="6.2" dy="-3.3">3</tspan></text>
<text transform="translate(435.3,183.3) rotate(-90)" x="0" y="0" text-anchor="middle" font-size="7.2" fill="#111" stroke="#111" stroke-width="0.12">10<tspan font-size="6.2" dy="-3.3">4</tspan></text>
<text x="441.5" y="248.3" text-anchor="middle" font-size="7.1" fill="#111" stroke="#111" stroke-width="0.12">10<tspan font-size="5.9" dy="-3">0</tspan></text>
<text x="459.22" y="248.3" text-anchor="middle" font-size="7.1" fill="#111" stroke="#111" stroke-width="0.12">10<tspan font-size="5.9" dy="-3">1</tspan></text>
<text x="476.95" y="248.3" text-anchor="middle" font-size="7.1" fill="#111" stroke="#111" stroke-width="0.12">10<tspan font-size="5.9" dy="-3">2</tspan></text>
<text x="494.68" y="248.3" text-anchor="middle" font-size="7.1" fill="#111" stroke="#111" stroke-width="0.12">10<tspan font-size="5.9" dy="-3">3</tspan></text>
<text x="512.4" y="248.3" text-anchor="middle" font-size="7.1" fill="#111" stroke="#111" stroke-width="0.12">10<tspan font-size="5.9" dy="-3">4</tspan></text>
<text transform="translate(473.3,197.95) scale(0.94,1)" font-size="11.8" text-anchor="end" font-weight="normal" fill="#111" stroke="#111" stroke-width="0.3" >3.9</text>
<path d="M421.5,191.8 V66" stroke="#000" stroke-width="1.3"/>
<path d="M421.5,62 L419.3,66.5 L423.7,66.5 Z" fill="#000"/>
<text transform="translate(425.8,216.3) rotate(-90)" text-anchor="middle" font-size="11.5" fill="#111" stroke="#111" stroke-width="0.3">CXCR3</text>
<text x="439.5" y="259.6" font-size="11.6" text-anchor="start" font-weight="normal" fill="#111" stroke="#111" stroke-width="0.3" >CD4</text>
<path d="M465.5,256.2 H502" stroke="#000" stroke-width="1.7"/>
<path d="M506,256.2 L501.5,254 L501.5,258.4 Z" fill="#000"/>
</g></svg>
</body></html>
